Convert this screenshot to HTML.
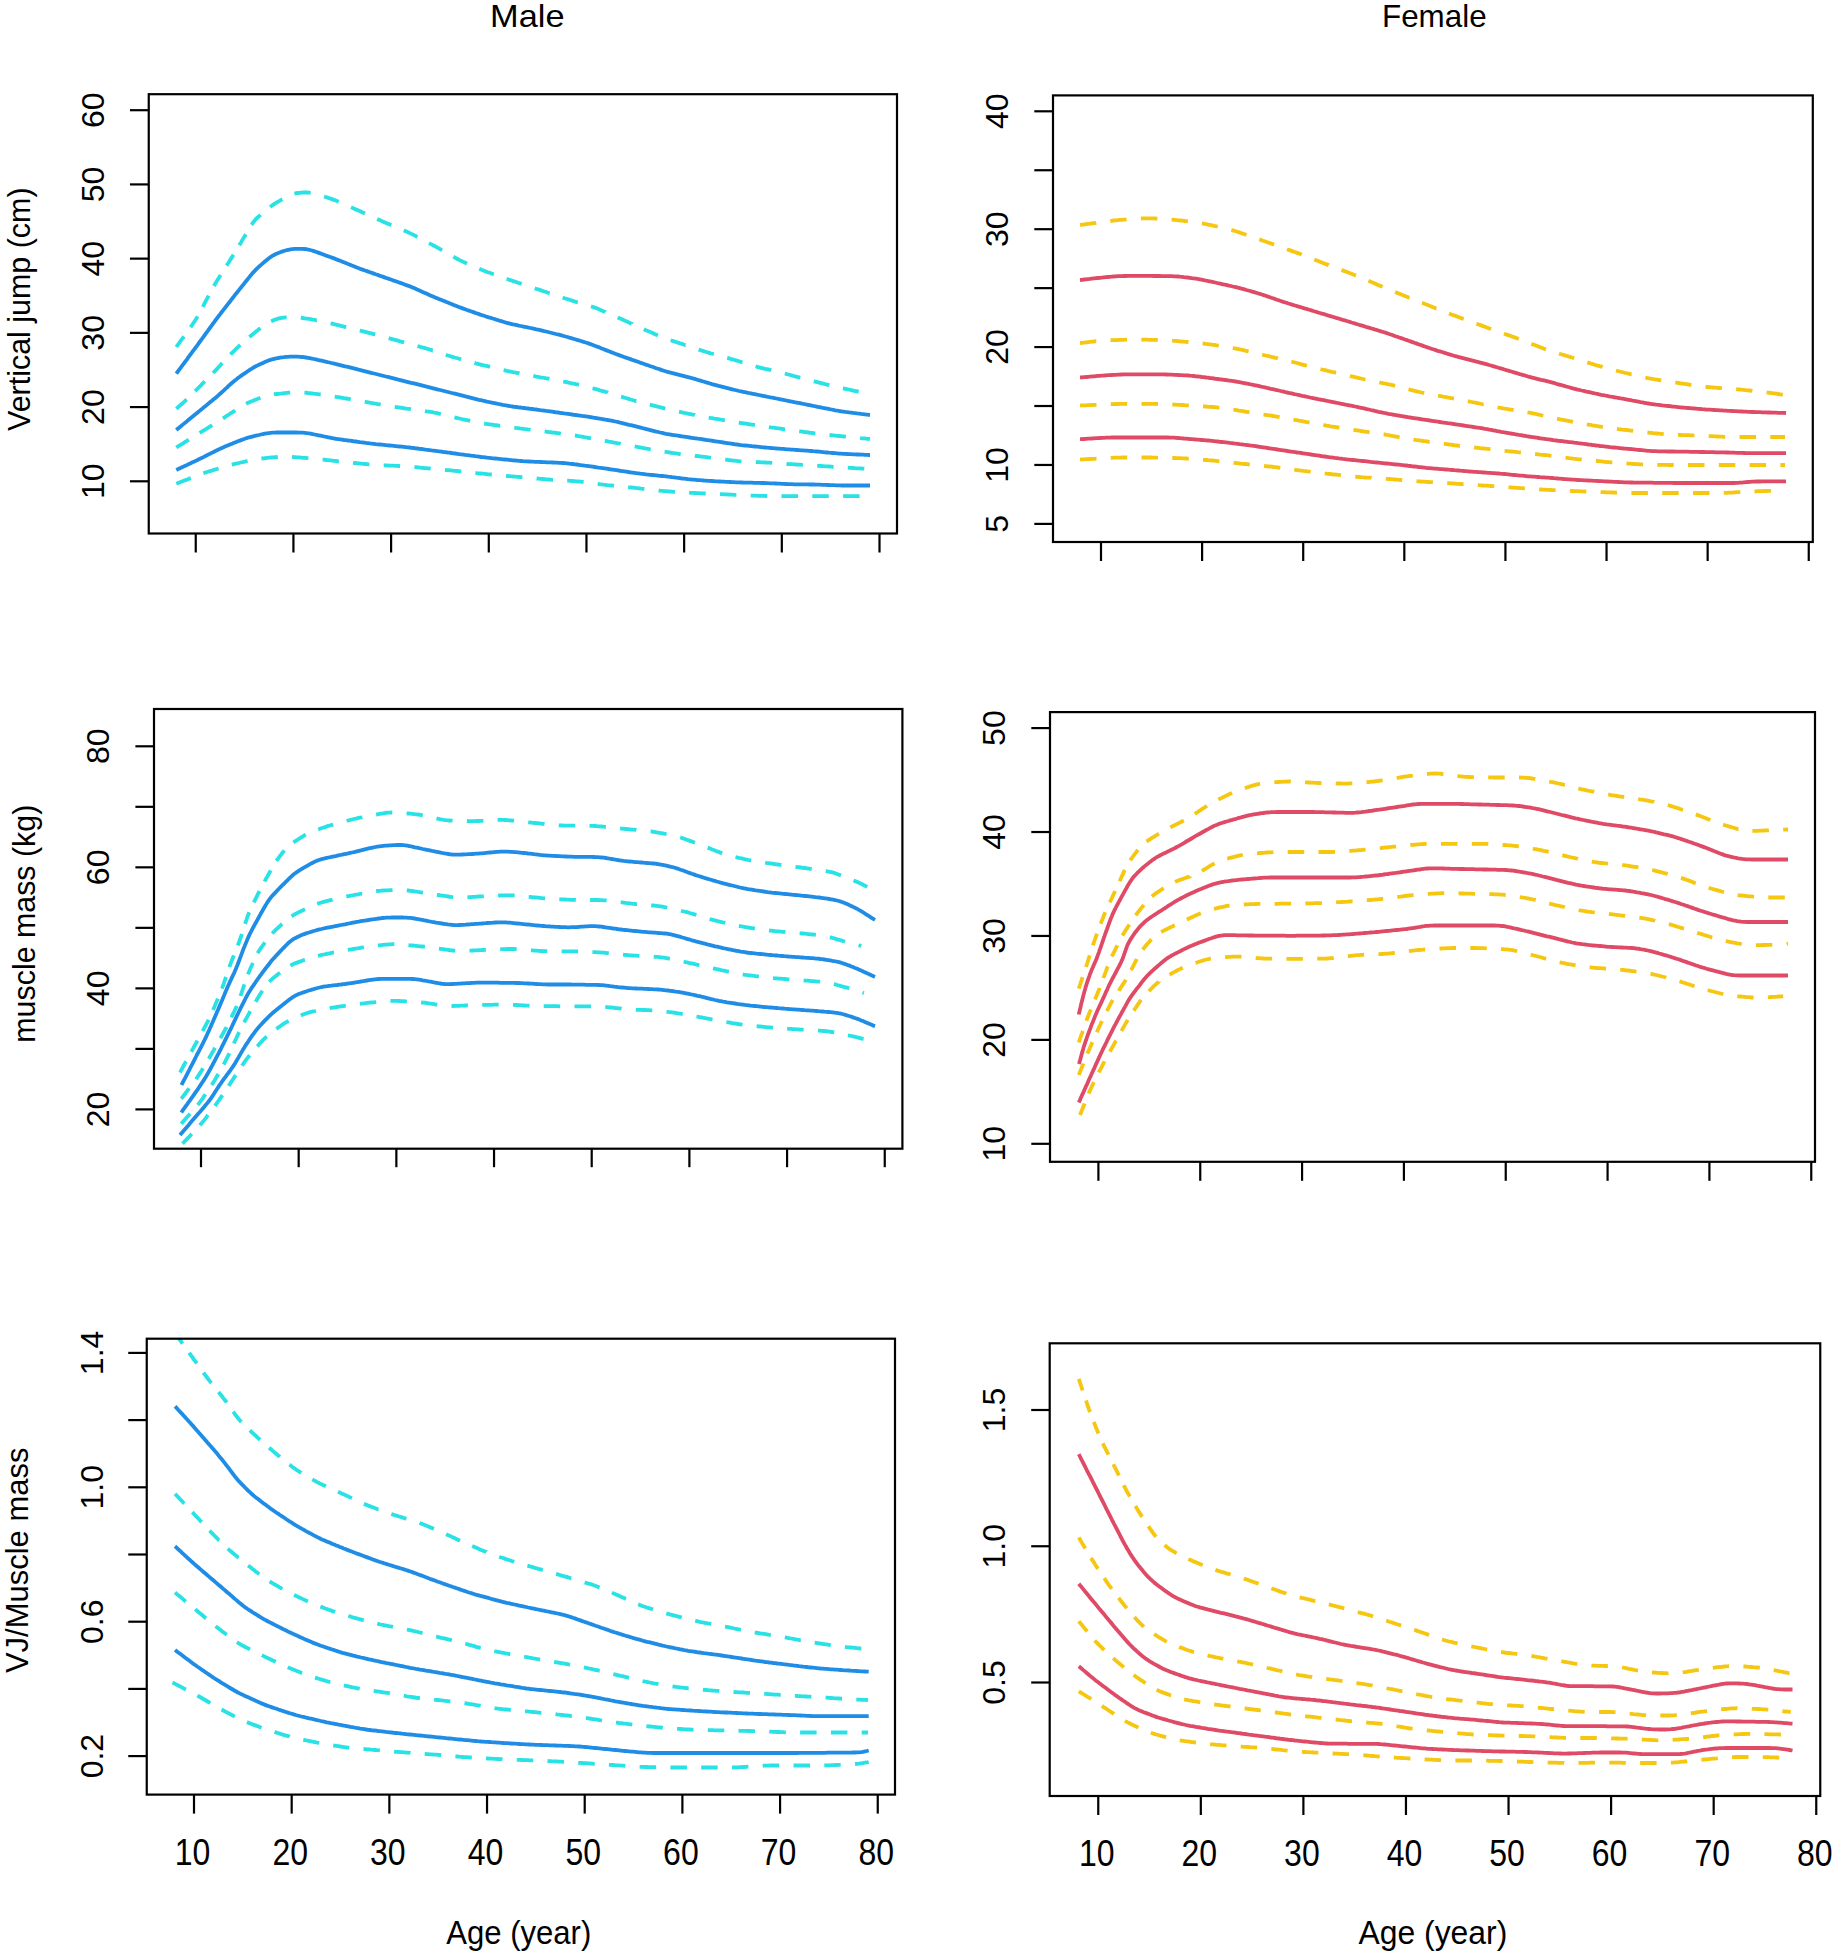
<!DOCTYPE html><html><head><meta charset="utf-8"><style>html,body{margin:0;padding:0;background:#fff;}svg{display:block;}text{font-family:"Liberation Sans",sans-serif;}</style></head><body>
<svg width="1836" height="1953" viewBox="0 0 1836 1953">
<rect width="1836" height="1953" fill="#fff"/>
<text x="527.3" y="26.7" font-size="31.4" text-anchor="middle" fill="#000" textLength="74.5" lengthAdjust="spacingAndGlyphs">Male</text>
<text x="1434.3" y="26.7" font-size="31.4" text-anchor="middle" fill="#000">Female</text>
<g><path d="M176.3,347.0 L177.4,345.4 L178.6,343.8 L179.8,342.1 L180.9,340.5 L182.1,338.9 L183.3,337.3 L183.9,336.4 M190.5,327.2 L191.5,325.9 L192.6,324.3 L193.7,322.6 L194.8,321.0 L195.9,319.3 L196.9,317.6 L197.6,316.4 M202.8,306.8 L203.6,305.3 L204.5,303.5 L205.5,301.7 L206.4,300.0 L207.3,298.2 L208.3,296.4 L208.7,295.6 M213.9,286.0 L214.5,285.0 L215.5,283.3 L216.5,281.6 L217.5,279.9 L218.6,278.2 L219.7,276.5 L220.6,275.0 M226.6,265.6 L227.2,264.7 L228.3,263.0 L229.4,261.3 L230.4,259.6 L231.5,257.9 L232.6,256.2 L233.5,254.8 M239.3,245.3 L239.9,244.3 L240.9,242.6 L241.9,240.8 L242.9,239.1 L243.9,237.4 L245.0,235.7 L245.8,234.3 M251.5,224.8 L252.2,223.8 L253.4,222.2 L254.6,220.6 L255.9,219.1 L257.3,217.7 L258.8,216.4 L260.3,215.1 L260.6,214.8 M270.1,207.1 L271.1,206.3 L272.7,205.1 L274.4,203.9 L276.0,202.9 L277.7,201.8 L279.5,200.8 L281.2,199.8 L282.4,199.2 M294.4,193.7 L295.6,193.4 L297.5,193.0 L299.5,192.8 L301.4,192.6 L303.4,192.5 L305.4,192.5 L307.4,192.5 L309.3,192.7 L310.7,192.8 M324.1,196.5 L325.6,197.0 L327.5,197.6 L329.4,198.2 L331.3,198.9 L333.2,199.6 L335.1,200.3 L336.9,201.0 L338.8,201.8 L338.8,201.8 M351.0,207.2 L352.5,207.9 L354.3,208.7 L356.1,209.5 L357.9,210.3 L359.8,211.1 L361.6,212.0 L363.4,212.8 L365.0,213.5 M377.2,219.0 L378.9,219.8 L380.7,220.6 L382.6,221.4 L384.4,222.2 L386.2,223.0 L388.1,223.8 L389.9,224.6 L391.3,225.2 M403.7,230.4 L404.6,230.8 L406.5,231.6 L408.3,232.4 L410.1,233.3 L411.9,234.1 L413.7,235.0 L415.5,235.9 L417.2,236.9 L417.4,237.0 M429.0,243.1 L430.5,243.9 L432.3,244.8 L434.0,245.8 L435.8,246.7 L437.5,247.7 L439.3,248.7 L441.0,249.7 L442.1,250.3 M453.4,256.7 L454.9,257.6 L456.7,258.5 L458.4,259.5 L460.2,260.4 L462.0,261.2 L463.8,262.1 L465.7,262.9 L467.0,263.5 M479.3,268.8 L480.3,269.2 L482.2,270.0 L484.1,270.7 L485.9,271.5 L487.8,272.2 L489.7,272.8 L491.5,273.5 L493.4,274.2 L493.8,274.3 M506.7,278.8 L508.5,279.5 L510.4,280.1 L512.3,280.8 L514.2,281.4 L516.1,282.0 L518.0,282.7 L519.9,283.3 L521.7,283.9 M534.7,288.2 L536.0,288.7 L537.9,289.3 L539.8,289.9 L541.7,290.6 L543.6,291.2 L545.5,291.8 L547.4,292.5 L549.3,293.1 L549.7,293.2 M562.7,297.5 L564.5,298.2 L566.4,298.8 L568.3,299.4 L570.2,300.0 L572.1,300.6 L574.0,301.2 L575.9,301.8 L577.8,302.3 M591.0,306.4 L592.2,306.8 L594.1,307.4 L595.9,308.1 L597.8,308.8 L599.6,309.6 L601.5,310.4 L603.3,311.2 L605.2,311.9 L605.4,312.1 M617.7,317.5 L618.9,318.0 L620.7,318.8 L622.5,319.6 L624.4,320.5 L626.2,321.3 L628.0,322.1 L629.8,322.9 L631.7,323.7 L631.7,323.8 M643.8,329.2 L645.3,329.9 L647.2,330.7 L649.0,331.5 L650.8,332.3 L652.7,333.1 L654.5,333.9 L656.3,334.7 L657.9,335.4 M670.6,340.2 L672.2,340.7 L674.1,341.4 L676.0,342.0 L677.9,342.6 L679.8,343.3 L681.7,343.9 L683.6,344.5 L685.5,345.2 L685.6,345.2 M698.6,349.5 L699.7,349.9 L701.6,350.5 L703.5,351.1 L705.4,351.7 L707.3,352.3 L709.2,352.9 L711.2,353.5 L713.1,354.0 L713.8,354.2 M727.2,357.9 L728.5,358.2 L730.4,358.8 L732.4,359.3 L734.3,359.9 L736.2,360.4 L738.1,361.0 L740.0,361.6 L742.0,362.2 L742.5,362.3 M755.6,366.3 L757.3,366.8 L759.2,367.3 L761.1,367.8 L763.1,368.3 L765.0,368.8 L767.0,369.2 L768.9,369.7 L770.9,370.2 L771.2,370.3 M784.8,373.6 L786.4,374.0 L788.3,374.5 L790.3,375.0 L792.2,375.5 L794.1,376.1 L796.0,376.6 L798.0,377.1 L799.9,377.6 L800.3,377.7 M813.7,381.3 L815.4,381.7 L817.3,382.2 L819.3,382.7 L821.2,383.2 L823.1,383.7 L825.1,384.2 L827.0,384.6 L829.0,385.1 L829.3,385.2 M842.9,388.4 L844.5,388.7 L846.5,389.1 L848.5,389.5 L850.4,389.9 L852.4,390.3 L854.3,390.8 L856.3,391.2 L858.3,391.6 L858.7,391.7" fill="none" stroke="#28E2E5" stroke-width="3.80"/><path d="M176.3,373.7 L177.4,372.1 L178.6,370.5 L179.8,368.9 L181.0,367.3 L182.2,365.7 L183.4,364.1 L184.6,362.5 L185.8,360.9 L187.0,359.3 L188.1,357.7 L189.3,356.0 L190.5,354.4 L191.7,352.8 L192.9,351.2 L194.1,349.6 L195.3,348.0 L196.5,346.4 L197.7,344.8 L198.8,343.1 L200.0,341.5 L201.2,339.9 L202.4,338.3 L203.6,336.7 L204.7,335.1 L205.9,333.4 L207.1,331.8 L208.3,330.2 L209.4,328.6 L210.6,327.0 L211.8,325.3 L213.0,323.7 L214.2,322.1 L215.3,320.5 L216.5,318.9 L217.7,317.3 L218.9,315.7 L220.2,314.1 L221.4,312.5 L222.6,310.9 L223.8,309.4 L225.1,307.8 L226.3,306.2 L227.5,304.6 L228.8,303.0 L230.0,301.5 L231.2,299.9 L232.4,298.3 L233.7,296.7 L234.9,295.1 L236.2,293.6 L237.4,292.0 L238.7,290.4 L239.9,288.9 L241.2,287.3 L242.4,285.7 L243.7,284.2 L244.9,282.6 L246.2,281.1 L247.4,279.5 L248.7,277.9 L249.9,276.4 L251.2,274.8 L252.5,273.3 L253.8,271.8 L255.2,270.4 L256.6,268.9 L258.0,267.6 L259.5,266.2 L261.0,264.9 L262.5,263.6 L264.0,262.3 L265.5,261.0 L267.1,259.7 L268.6,258.5 L270.2,257.3 L271.9,256.2 L273.6,255.2 L275.3,254.3 L277.1,253.5 L279.0,252.8 L280.8,252.1 L282.7,251.4 L284.6,250.8 L286.5,250.2 L288.4,249.8 L290.4,249.4 L292.3,249.1 L294.3,248.9 L296.3,248.8 L298.3,248.8 L300.3,248.8 L302.3,248.9 L304.2,249.0 L306.2,249.2 L308.1,249.6 L310.1,250.0 L312.0,250.5 L313.9,251.1 L315.8,251.8 L317.6,252.4 L319.5,253.1 L321.4,253.8 L323.3,254.5 L325.2,255.2 L327.0,255.9 L328.9,256.5 L330.8,257.2 L332.7,257.9 L334.6,258.6 L336.4,259.4 L338.3,260.1 L340.2,260.8 L342.0,261.6 L343.9,262.3 L345.7,263.0 L347.6,263.8 L349.4,264.5 L351.3,265.3 L353.2,266.0 L355.0,266.7 L356.9,267.5 L358.8,268.2 L360.6,268.9 L362.5,269.6 L364.4,270.3 L366.3,270.9 L368.2,271.6 L370.1,272.3 L371.9,272.9 L373.8,273.6 L375.7,274.3 L377.6,274.9 L379.5,275.6 L381.4,276.2 L383.3,276.9 L385.2,277.6 L387.1,278.2 L389.0,278.9 L390.8,279.5 L392.7,280.2 L394.6,280.9 L396.5,281.5 L398.4,282.2 L400.3,282.9 L402.2,283.5 L404.1,284.2 L405.9,284.9 L407.8,285.6 L409.7,286.3 L411.5,287.1 L413.4,287.8 L415.2,288.6 L417.0,289.4 L418.9,290.2 L420.7,291.1 L422.5,291.9 L424.4,292.7 L426.2,293.5 L428.0,294.3 L429.8,295.2 L431.7,296.0 L433.5,296.8 L435.3,297.6 L437.2,298.3 L439.0,299.1 L440.9,299.8 L442.8,300.6 L444.6,301.3 L446.5,302.1 L448.3,302.8 L450.2,303.6 L452.0,304.3 L453.9,305.1 L455.8,305.8 L457.6,306.5 L459.5,307.2 L461.4,307.9 L463.3,308.6 L465.1,309.3 L467.0,310.0 L468.9,310.6 L470.8,311.3 L472.7,311.9 L474.6,312.6 L476.5,313.3 L478.4,313.9 L480.3,314.6 L482.2,315.2 L484.1,315.8 L486.0,316.5 L487.9,317.1 L489.8,317.7 L491.7,318.2 L493.6,318.8 L495.5,319.4 L497.4,320.0 L499.4,320.6 L501.3,321.1 L503.2,321.7 L505.1,322.3 L507.0,322.8 L509.0,323.3 L510.9,323.8 L512.9,324.3 L514.8,324.7 L516.8,325.1 L518.7,325.6 L520.7,326.0 L522.6,326.4 L524.6,326.8 L526.6,327.2 L528.5,327.6 L530.5,328.0 L532.4,328.4 L534.4,328.8 L536.4,329.3 L538.3,329.7 L540.3,330.1 L542.2,330.6 L544.2,331.1 L546.1,331.5 L548.0,332.0 L550.0,332.5 L551.9,333.0 L553.9,333.5 L555.8,334.0 L557.8,334.4 L559.7,334.9 L561.6,335.4 L563.6,336.0 L565.5,336.5 L567.4,337.0 L569.4,337.6 L571.3,338.1 L573.2,338.7 L575.1,339.3 L577.0,339.9 L578.9,340.4 L580.9,341.0 L582.8,341.6 L584.7,342.2 L586.6,342.8 L588.5,343.4 L590.4,344.1 L592.3,344.8 L594.1,345.5 L596.0,346.2 L597.9,346.9 L599.7,347.6 L601.6,348.4 L603.4,349.1 L605.3,349.9 L607.2,350.6 L609.0,351.3 L610.9,352.1 L612.8,352.8 L614.6,353.5 L616.5,354.2 L618.4,354.9 L620.3,355.6 L622.2,356.2 L624.0,356.9 L625.9,357.6 L627.8,358.2 L629.7,358.9 L631.6,359.6 L633.5,360.2 L635.4,360.9 L637.3,361.5 L639.2,362.2 L641.0,362.9 L642.9,363.5 L644.8,364.2 L646.7,364.9 L648.6,365.5 L650.5,366.2 L652.4,366.8 L654.3,367.5 L656.2,368.2 L658.1,368.8 L660.0,369.4 L661.9,370.1 L663.8,370.7 L665.7,371.3 L667.6,371.8 L669.5,372.3 L671.5,372.8 L673.4,373.3 L675.3,373.8 L677.3,374.3 L679.2,374.8 L681.2,375.3 L683.1,375.8 L685.0,376.3 L687.0,376.8 L688.9,377.3 L690.8,377.8 L692.8,378.4 L694.7,378.9 L696.6,379.5 L698.5,380.1 L700.5,380.6 L702.4,381.2 L704.3,381.8 L706.2,382.4 L708.1,382.9 L710.0,383.5 L712.0,384.1 L713.9,384.6 L715.8,385.1 L717.8,385.6 L719.7,386.2 L721.6,386.6 L723.6,387.1 L725.5,387.6 L727.5,388.1 L729.4,388.6 L731.3,389.1 L733.3,389.6 L735.2,390.0 L737.2,390.5 L739.1,391.0 L741.1,391.4 L743.0,391.8 L745.0,392.2 L747.0,392.6 L748.9,393.0 L750.9,393.4 L752.8,393.8 L754.8,394.2 L756.8,394.6 L758.7,395.0 L760.7,395.4 L762.7,395.8 L764.6,396.2 L766.6,396.6 L768.5,397.0 L770.5,397.4 L772.5,397.7 L774.4,398.1 L776.4,398.5 L778.4,398.9 L780.3,399.3 L782.3,399.7 L784.3,400.1 L786.2,400.5 L788.2,400.9 L790.1,401.3 L792.1,401.7 L794.1,402.1 L796.0,402.5 L798.0,402.8 L800.0,403.2 L801.9,403.6 L803.9,404.0 L805.8,404.4 L807.8,404.8 L809.8,405.2 L811.7,405.6 L813.7,406.0 L815.7,406.4 L817.6,406.8 L819.6,407.2 L821.6,407.6 L823.5,408.0 L825.5,408.3 L827.4,408.7 L829.4,409.1 L831.4,409.5 L833.3,409.9 L835.3,410.3 L837.3,410.6 L839.2,411.0 L841.2,411.3 L843.2,411.6 L845.2,411.9 L847.2,412.1 L849.1,412.4 L851.1,412.6 L853.1,412.9 L855.1,413.1 L857.1,413.4 L859.1,413.6 L861.1,413.9 L863.0,414.1 L865.0,414.4 L867.0,414.6 L869.0,414.9 L870.0,415.0" fill="none" stroke="#1F8CE6" stroke-width="3.80" stroke-linejoin="round"/><path d="M176.3,408.7 L177.8,407.4 L179.3,406.1 L180.8,404.8 L182.3,403.5 L183.8,402.2 L185.2,400.8 L186.7,399.5 M195.1,391.1 L195.9,390.3 L197.4,388.9 L198.8,387.5 L200.2,386.1 L201.6,384.6 L203.0,383.2 L204.4,381.8 L204.8,381.4 M213.1,373.0 L214.2,371.8 L215.6,370.4 L217.0,368.9 L218.3,367.4 L219.7,366.0 L221.0,364.5 L222.3,363.1 M230.5,354.6 L231.4,353.6 L232.8,352.2 L234.2,350.8 L235.6,349.4 L237.1,348.0 L238.5,346.6 L239.9,345.2 L240.2,344.9 M249.4,337.0 L250.5,336.1 L252.1,334.8 L253.7,333.6 L255.2,332.3 L256.8,331.1 L258.3,329.8 L259.9,328.6 L260.5,328.1 M271.1,321.3 L272.5,320.7 L274.3,319.9 L276.2,319.3 L278.1,318.7 L280.0,318.2 L281.9,317.9 L283.9,317.6 L285.8,317.4 L286.6,317.4 M300.8,317.7 L302.7,318.0 L304.7,318.3 L306.7,318.6 L308.7,318.9 L310.6,319.2 L312.6,319.6 L314.6,319.9 L316.5,320.3 L316.9,320.3 M330.6,323.3 L332.2,323.7 L334.1,324.2 L336.0,324.6 L338.0,325.1 L339.9,325.6 L341.9,326.1 L343.8,326.6 L345.8,327.1 L346.2,327.2 M359.7,330.6 L361.3,330.9 L363.2,331.4 L365.2,331.9 L367.1,332.4 L369.0,332.9 L371.0,333.4 L372.9,333.9 L374.9,334.4 L375.3,334.5 M388.7,338.1 L390.3,338.6 L392.2,339.1 L394.1,339.7 L396.1,340.2 L398.0,340.7 L399.9,341.3 L401.9,341.8 L403.8,342.3 L404.1,342.4 M417.5,346.0 L419.2,346.5 L421.2,347.1 L423.1,347.6 L425.0,348.1 L426.9,348.7 L428.8,349.3 L430.8,349.9 L432.7,350.5 L432.8,350.5 M445.8,354.8 L446.9,355.2 L448.8,355.8 L450.7,356.4 L452.6,356.9 L454.6,357.5 L456.5,358.0 L458.4,358.5 L460.4,359.1 L461.1,359.3 M474.5,362.9 L475.8,363.3 L477.7,363.8 L479.7,364.3 L481.6,364.8 L483.6,365.3 L485.5,365.7 L487.4,366.2 L489.4,366.7 L490.1,366.9 M503.6,370.2 L504.9,370.4 L506.9,370.9 L508.8,371.3 L510.8,371.7 L512.8,372.1 L514.7,372.4 L516.7,372.8 L518.7,373.2 L519.5,373.4 M533.3,376.1 L534.4,376.2 L536.3,376.6 L538.3,376.9 L540.3,377.3 L542.3,377.6 L544.2,378.0 L546.2,378.3 L548.2,378.6 L549.4,378.9 M563.2,381.5 L564.9,381.8 L566.8,382.2 L568.8,382.7 L570.7,383.1 L572.7,383.5 L574.7,383.9 L576.6,384.3 L578.6,384.7 L579.0,384.8 M592.5,388.3 L594.1,388.7 L596.0,389.2 L597.9,389.7 L599.9,390.3 L601.8,390.8 L603.7,391.3 L605.6,391.9 L607.6,392.4 L607.9,392.6 M621.1,396.6 L622.9,397.1 L624.8,397.7 L626.7,398.3 L628.6,398.9 L630.5,399.5 L632.4,400.0 L634.4,400.6 L636.3,401.1 L636.4,401.1 M649.8,404.6 L650.8,404.9 L652.7,405.4 L654.7,405.9 L656.6,406.4 L658.6,406.8 L660.5,407.3 L662.4,407.8 L664.4,408.3 L665.4,408.5 M679.0,411.7 L680.9,412.2 L682.9,412.6 L684.9,413.0 L686.8,413.4 L688.8,413.8 L690.7,414.2 L692.7,414.6 L694.7,414.9 L694.9,415.0 M708.7,417.6 L710.4,417.9 L712.4,418.2 L714.3,418.6 L716.3,418.9 L718.3,419.2 L720.3,419.5 L722.2,419.9 L724.2,420.2 L724.8,420.3 M738.8,422.6 L740.0,422.8 L742.0,423.1 L744.0,423.4 L745.9,423.7 L747.9,424.0 L749.9,424.3 L751.9,424.6 L753.8,424.9 L754.9,425.1 M768.9,427.1 L770.7,427.4 L772.7,427.6 L774.6,427.9 L776.6,428.2 L778.6,428.4 L780.6,428.7 L782.6,429.0 L784.5,429.3 L785.1,429.3 M799.2,431.3 L800.4,431.4 L802.4,431.7 L804.4,432.0 L806.3,432.2 L808.3,432.5 L810.3,432.8 L812.3,433.0 L814.3,433.3 L815.4,433.4 M829.5,435.0 L831.2,435.2 L833.2,435.4 L835.2,435.6 L837.1,435.8 L839.1,436.0 L841.1,436.2 L843.1,436.4 L845.1,436.6 L845.9,436.7 M860.1,438.1 L862.0,438.3 L864.0,438.4 L866.0,438.6 L868.0,438.8 L870.0,439.0" fill="none" stroke="#28E2E5" stroke-width="3.80"/><path d="M176.3,430.0 L177.8,428.7 L179.3,427.5 L180.9,426.2 L182.4,424.9 L184.0,423.6 L185.5,422.4 L187.1,421.1 L188.6,419.8 L190.2,418.5 L191.7,417.3 L193.3,416.0 L194.8,414.7 L196.4,413.5 L197.9,412.2 L199.5,410.9 L201.0,409.7 L202.6,408.4 L204.1,407.1 L205.7,405.9 L207.2,404.6 L208.8,403.3 L210.3,402.1 L211.9,400.8 L213.4,399.5 L215.0,398.3 L216.5,397.0 L218.0,395.6 L219.5,394.3 L221.0,393.0 L222.5,391.6 L223.9,390.3 L225.4,388.9 L226.9,387.6 L228.3,386.2 L229.8,384.8 L231.3,383.5 L232.8,382.2 L234.3,380.9 L235.9,379.7 L237.5,378.4 L239.1,377.3 L240.7,376.1 L242.4,374.9 L244.0,373.8 L245.7,372.7 L247.3,371.5 L249.0,370.4 L250.6,369.3 L252.3,368.3 L254.0,367.2 L255.8,366.3 L257.6,365.4 L259.4,364.5 L261.2,363.7 L263.0,362.9 L264.8,362.1 L266.7,361.3 L268.5,360.6 L270.4,359.9 L272.3,359.3 L274.2,358.8 L276.2,358.4 L278.1,358.0 L280.1,357.7 L282.1,357.4 L284.1,357.2 L286.0,356.9 L288.0,356.8 L290.0,356.6 L292.0,356.6 L294.0,356.6 L296.0,356.6 L298.0,356.7 L300.0,356.8 L302.0,357.0 L304.0,357.2 L305.9,357.5 L307.9,357.8 L309.9,358.2 L311.8,358.6 L313.8,359.0 L315.8,359.4 L317.7,359.9 L319.7,360.3 L321.6,360.7 L323.6,361.2 L325.5,361.6 L327.5,362.1 L329.4,362.5 L331.4,363.0 L333.3,363.4 L335.3,363.9 L337.2,364.3 L339.2,364.8 L341.1,365.3 L343.1,365.8 L345.0,366.3 L346.9,366.7 L348.9,367.2 L350.8,367.7 L352.8,368.2 L354.7,368.7 L356.7,369.2 L358.6,369.7 L360.5,370.1 L362.5,370.6 L364.4,371.1 L366.4,371.6 L368.3,372.1 L370.3,372.6 L372.2,373.1 L374.1,373.5 L376.1,374.0 L378.0,374.5 L380.0,375.0 L381.9,375.5 L383.9,376.0 L385.8,376.5 L387.7,376.9 L389.7,377.4 L391.6,377.9 L393.6,378.4 L395.5,378.9 L397.5,379.4 L399.4,379.8 L401.3,380.3 L403.3,380.8 L405.2,381.3 L407.2,381.8 L409.1,382.3 L411.1,382.8 L413.0,383.2 L414.9,383.7 L416.9,384.2 L418.8,384.7 L420.8,385.2 L422.7,385.7 L424.7,386.2 L426.6,386.6 L428.5,387.1 L430.5,387.6 L432.4,388.1 L434.4,388.6 L436.3,389.1 L438.3,389.6 L440.2,390.0 L442.1,390.5 L444.1,391.0 L446.0,391.5 L448.0,392.0 L449.9,392.5 L451.9,393.0 L453.8,393.4 L455.7,393.9 L457.7,394.4 L459.6,394.9 L461.6,395.4 L463.5,395.9 L465.5,396.4 L467.4,396.8 L469.3,397.3 L471.3,397.8 L473.2,398.3 L475.2,398.8 L477.1,399.3 L479.1,399.8 L481.0,400.2 L482.9,400.7 L484.9,401.1 L486.9,401.6 L488.8,402.0 L490.8,402.4 L492.7,402.8 L494.7,403.2 L496.7,403.6 L498.6,404.0 L500.6,404.4 L502.6,404.8 L504.5,405.1 L506.5,405.5 L508.5,405.8 L510.4,406.2 L512.4,406.5 L514.4,406.8 L516.4,407.0 L518.4,407.3 L520.3,407.5 L522.3,407.8 L524.3,408.0 L526.3,408.3 L528.3,408.5 L530.3,408.8 L532.3,409.0 L534.3,409.3 L536.2,409.5 L538.2,409.8 L540.2,410.1 L542.2,410.3 L544.2,410.6 L546.2,410.9 L548.1,411.1 L550.1,411.4 L552.1,411.7 L554.1,412.0 L556.1,412.3 L558.1,412.5 L560.0,412.8 L562.0,413.1 L564.0,413.4 L566.0,413.6 L568.0,413.9 L570.0,414.2 L571.9,414.5 L573.9,414.8 L575.9,415.0 L577.9,415.3 L579.9,415.6 L581.9,415.9 L583.8,416.1 L585.8,416.4 L587.8,416.7 L589.8,417.0 L591.8,417.3 L593.7,417.7 L595.7,418.0 L597.7,418.3 L599.7,418.6 L601.6,419.0 L603.6,419.3 L605.6,419.7 L607.6,420.0 L609.5,420.3 L611.5,420.7 L613.5,421.1 L615.4,421.5 L617.4,421.9 L619.3,422.4 L621.3,422.8 L623.2,423.3 L625.2,423.8 L627.1,424.3 L629.1,424.8 L631.0,425.2 L632.9,425.7 L634.9,426.2 L636.8,426.7 L638.8,427.2 L640.7,427.7 L642.7,428.2 L644.6,428.6 L646.5,429.1 L648.5,429.6 L650.4,430.1 L652.4,430.6 L654.3,431.1 L656.3,431.6 L658.2,432.0 L660.1,432.5 L662.1,432.9 L664.1,433.4 L666.0,433.8 L668.0,434.1 L670.0,434.5 L671.9,434.8 L673.9,435.1 L675.9,435.4 L677.9,435.7 L679.8,436.0 L681.8,436.3 L683.8,436.6 L685.8,436.9 L687.8,437.2 L689.7,437.5 L691.7,437.8 L693.7,438.1 L695.7,438.4 L697.7,438.7 L699.7,438.9 L701.6,439.2 L703.6,439.5 L705.6,439.8 L707.6,440.1 L709.6,440.4 L711.5,440.7 L713.5,441.0 L715.5,441.3 L717.5,441.6 L719.5,441.9 L721.4,442.2 L723.4,442.5 L725.4,442.8 L727.4,443.1 L729.4,443.4 L731.3,443.7 L733.3,444.0 L735.3,444.3 L737.3,444.5 L739.3,444.8 L741.3,445.1 L743.2,445.3 L745.2,445.5 L747.2,445.7 L749.2,445.9 L751.2,446.1 L753.2,446.3 L755.2,446.5 L757.2,446.7 L759.2,446.9 L761.2,447.1 L763.2,447.3 L765.2,447.5 L767.2,447.7 L769.2,447.8 L771.1,448.0 L773.1,448.1 L775.1,448.3 L777.1,448.5 L779.1,448.6 L781.1,448.8 L783.1,448.9 L785.1,449.1 L787.1,449.3 L789.1,449.4 L791.1,449.6 L793.1,449.7 L795.1,449.9 L797.1,450.0 L799.1,450.1 L801.1,450.3 L803.1,450.4 L805.1,450.6 L807.1,450.7 L809.1,450.8 L811.1,451.0 L813.1,451.2 L815.1,451.3 L817.1,451.5 L819.1,451.7 L821.1,451.9 L823.1,452.1 L825.0,452.3 L827.0,452.5 L829.0,452.7 L831.0,452.8 L833.0,453.0 L835.0,453.2 L837.0,453.4 L839.0,453.6 L841.0,453.7 L843.0,453.8 L845.0,453.9 L847.0,454.0 L849.0,454.1 L851.0,454.2 L853.0,454.3 L855.0,454.4 L857.0,454.5 L859.0,454.5 L861.0,454.6 L863.0,454.7 L865.0,454.8 L867.0,454.9 L869.0,455.0 L870.0,455.0" fill="none" stroke="#1F8CE6" stroke-width="3.80" stroke-linejoin="round"/><path d="M176.3,447.5 L178.0,446.4 L179.7,445.4 L181.4,444.3 L183.1,443.3 L184.8,442.2 L186.5,441.2 L188.2,440.1 L188.8,439.7 M199.7,433.0 L200.9,432.2 L202.6,431.2 L204.3,430.1 L206.0,429.1 L207.7,428.0 L209.4,426.9 L211.1,425.9 L212.2,425.2 M222.9,418.4 L224.6,417.3 L226.3,416.2 L228.0,415.1 L229.6,414.0 L231.3,412.9 L233.0,411.8 L234.6,410.7 L235.1,410.3 M246.1,403.7 L247.5,403.0 L249.3,402.2 L251.1,401.4 L253.0,400.7 L254.8,399.9 L256.7,399.2 L258.6,398.5 L260.4,397.8 L260.4,397.8 M273.9,394.4 L274.9,394.2 L276.9,394.0 L278.8,393.8 L280.8,393.6 L282.8,393.3 L284.8,393.1 L286.8,392.9 L288.8,392.7 L290.2,392.6 M304.4,392.6 L305.7,392.7 L307.7,393.0 L309.7,393.2 L311.6,393.4 L313.6,393.7 L315.6,393.9 L317.6,394.1 L319.6,394.4 L320.7,394.5 M334.7,396.6 L336.4,396.9 L338.4,397.2 L340.4,397.5 L342.3,397.8 L344.3,398.2 L346.3,398.5 L348.3,398.8 L350.2,399.1 L350.8,399.2 M364.7,401.7 L366.0,402.0 L367.9,402.3 L369.9,402.7 L371.9,403.0 L373.9,403.4 L375.8,403.7 L377.8,404.1 L379.8,404.4 L380.7,404.6 M394.7,406.8 L396.6,407.1 L398.5,407.4 L400.5,407.7 L402.5,408.0 L404.5,408.3 L406.5,408.6 L408.4,408.8 L410.4,409.1 L410.9,409.2 M424.9,411.1 L426.3,411.3 L428.3,411.6 L430.2,411.9 L432.2,412.2 L434.2,412.6 L436.1,412.9 L438.1,413.4 L440.0,413.8 L440.9,414.0 M454.4,417.3 L455.6,417.6 L457.5,418.1 L459.5,418.5 L461.4,419.0 L463.4,419.4 L465.3,419.8 L467.3,420.2 L469.3,420.6 L470.2,420.8 M484.1,423.5 L486.0,423.8 L487.9,424.1 L489.9,424.4 L491.9,424.7 L493.9,425.0 L495.9,425.2 L497.8,425.5 L499.8,425.8 L500.2,425.8 M514.3,427.7 L515.7,427.9 L517.7,428.1 L519.7,428.4 L521.6,428.6 L523.6,428.9 L525.6,429.1 L527.6,429.4 L529.6,429.6 L530.5,429.8 M544.6,431.5 L546.5,431.7 L548.4,432.0 L550.4,432.2 L552.4,432.5 L554.4,432.7 L556.4,433.0 L558.4,433.2 L560.4,433.5 L560.9,433.6 M574.9,435.5 L576.2,435.7 L578.2,436.0 L580.1,436.4 L582.1,436.7 L584.1,437.1 L586.0,437.5 L588.0,437.8 L590.0,438.2 L591.0,438.4 M604.8,440.9 L606.7,441.2 L608.7,441.6 L610.7,441.9 L612.6,442.3 L614.6,442.7 L616.6,443.0 L618.5,443.4 L620.5,443.7 L620.8,443.8 M634.7,446.4 L636.2,446.7 L638.2,447.0 L640.2,447.4 L642.1,447.8 L644.1,448.2 L646.1,448.5 L648.0,448.9 L650.0,449.3 L650.7,449.4 M664.6,451.7 L665.8,451.9 L667.8,452.2 L669.7,452.5 L671.7,452.8 L673.7,453.1 L675.7,453.4 L677.6,453.7 L679.6,454.0 L680.7,454.2 M694.8,455.8 L696.5,456.0 L698.5,456.2 L700.5,456.5 L702.5,456.7 L704.5,456.9 L706.4,457.1 L708.4,457.4 L710.4,457.6 L711.1,457.7 M725.2,459.6 L726.3,459.7 L728.3,460.0 L730.2,460.2 L732.2,460.5 L734.2,460.7 L736.2,460.9 L738.2,461.1 L740.2,461.3 L741.5,461.4 M755.8,462.0 L757.2,462.1 L759.2,462.2 L761.2,462.3 L763.2,462.4 L765.2,462.5 L767.2,462.6 L769.2,462.7 L771.2,462.8 L772.2,462.9 M786.5,463.8 L788.1,464.0 L790.1,464.1 L792.1,464.2 L794.1,464.4 L796.1,464.5 L798.1,464.6 L800.1,464.7 L802.1,464.9 L802.9,464.9 M817.2,465.8 L819.1,465.9 L821.1,466.0 L823.1,466.1 L825.1,466.3 L827.1,466.4 L829.1,466.5 L831.1,466.6 L833.1,466.8 L833.6,466.8 M847.8,467.7 L849.0,467.8 L851.0,467.9 L853.0,468.0 L855.0,468.2 L857.0,468.3 L859.0,468.4 L861.0,468.5 L863.0,468.6 L864.3,468.7" fill="none" stroke="#28E2E5" stroke-width="3.80"/><path d="M176.3,470.0 L178.1,469.1 L179.9,468.3 L181.7,467.4 L183.5,466.6 L185.3,465.7 L187.1,464.9 L188.9,464.0 L190.7,463.2 L192.5,462.3 L194.4,461.5 L196.2,460.6 L198.0,459.7 L199.8,458.8 L201.6,458.0 L203.4,457.1 L205.1,456.2 L206.9,455.3 L208.7,454.4 L210.5,453.5 L212.3,452.6 L214.1,451.7 L215.9,450.8 L217.7,449.9 L219.5,449.1 L221.3,448.2 L223.1,447.4 L225.0,446.6 L226.8,445.8 L228.7,445.1 L230.5,444.3 L232.4,443.6 L234.2,442.8 L236.1,442.1 L237.9,441.3 L239.8,440.6 L241.7,439.9 L243.5,439.2 L245.4,438.5 L247.3,437.9 L249.2,437.3 L251.2,436.8 L253.1,436.3 L255.0,435.8 L257.0,435.4 L259.0,435.0 L260.9,434.5 L262.9,434.1 L264.8,433.7 L266.8,433.4 L268.8,433.1 L270.7,432.9 L272.7,432.7 L274.7,432.6 L276.7,432.5 L278.7,432.5 L280.7,432.5 L282.7,432.5 L284.7,432.5 L286.7,432.5 L288.7,432.5 L290.7,432.5 L292.7,432.5 L294.7,432.5 L296.7,432.5 L298.7,432.6 L300.7,432.6 L302.7,432.7 L304.7,432.9 L306.7,433.1 L308.6,433.4 L310.6,433.7 L312.6,434.1 L314.5,434.5 L316.5,434.9 L318.5,435.3 L320.4,435.7 L322.4,436.1 L324.3,436.5 L326.3,436.9 L328.3,437.3 L330.2,437.7 L332.2,438.1 L334.2,438.5 L336.1,438.8 L338.1,439.1 L340.1,439.4 L342.1,439.7 L344.0,440.0 L346.0,440.2 L348.0,440.5 L350.0,440.7 L352.0,441.0 L354.0,441.3 L356.0,441.5 L357.9,441.8 L359.9,442.1 L361.9,442.3 L363.9,442.6 L365.9,442.9 L367.9,443.1 L369.8,443.4 L371.8,443.6 L373.8,443.8 L375.8,444.1 L377.8,444.3 L379.8,444.5 L381.8,444.7 L383.8,444.9 L385.8,445.1 L387.8,445.3 L389.8,445.5 L391.7,445.7 L393.7,445.9 L395.7,446.1 L397.7,446.3 L399.7,446.5 L401.7,446.7 L403.7,446.9 L405.7,447.1 L407.7,447.3 L409.7,447.5 L411.7,447.8 L413.6,448.0 L415.6,448.3 L417.6,448.5 L419.6,448.8 L421.6,449.0 L423.6,449.3 L425.6,449.6 L427.5,449.8 L429.5,450.1 L431.5,450.4 L433.5,450.6 L435.5,450.9 L437.5,451.2 L439.4,451.4 L441.4,451.7 L443.4,452.0 L445.4,452.2 L447.4,452.5 L449.4,452.7 L451.3,453.0 L453.3,453.3 L455.3,453.5 L457.3,453.8 L459.3,454.1 L461.3,454.3 L463.3,454.6 L465.2,454.9 L467.2,455.1 L469.2,455.4 L471.2,455.7 L473.2,455.9 L475.2,456.2 L477.1,456.4 L479.1,456.7 L481.1,457.0 L483.1,457.2 L485.1,457.4 L487.1,457.7 L489.1,457.9 L491.1,458.1 L493.1,458.3 L495.0,458.5 L497.0,458.7 L499.0,458.9 L501.0,459.1 L503.0,459.3 L505.0,459.5 L507.0,459.7 L509.0,459.9 L511.0,460.1 L513.0,460.3 L515.0,460.5 L517.0,460.7 L519.0,460.9 L520.9,461.0 L522.9,461.2 L524.9,461.3 L526.9,461.4 L528.9,461.5 L530.9,461.6 L532.9,461.7 L534.9,461.8 L536.9,461.8 L538.9,461.9 L540.9,462.0 L542.9,462.1 L544.9,462.2 L546.9,462.3 L548.9,462.3 L550.9,462.4 L552.9,462.5 L554.9,462.6 L556.9,462.7 L558.9,462.8 L560.9,462.9 L562.9,463.0 L564.9,463.2 L566.9,463.4 L568.9,463.6 L570.9,463.8 L572.9,464.0 L574.9,464.3 L576.9,464.5 L578.8,464.8 L580.8,465.1 L582.8,465.3 L584.8,465.6 L586.8,465.8 L588.8,466.1 L590.7,466.4 L592.7,466.7 L594.7,467.0 L596.7,467.3 L598.7,467.6 L600.7,467.8 L602.6,468.1 L604.6,468.4 L606.6,468.7 L608.6,469.0 L610.6,469.3 L612.5,469.6 L614.5,469.9 L616.5,470.2 L618.5,470.5 L620.4,470.8 L622.4,471.1 L624.4,471.4 L626.4,471.7 L628.4,472.0 L630.3,472.3 L632.3,472.6 L634.3,472.9 L636.3,473.2 L638.3,473.4 L640.3,473.7 L642.2,473.9 L644.2,474.1 L646.2,474.4 L648.2,474.6 L650.2,474.8 L652.2,475.0 L654.2,475.2 L656.2,475.4 L658.2,475.6 L660.2,475.8 L662.2,476.0 L664.1,476.2 L666.1,476.4 L668.1,476.7 L670.1,476.9 L672.1,477.2 L674.1,477.4 L676.1,477.7 L678.1,477.9 L680.0,478.2 L682.0,478.5 L684.0,478.7 L686.0,478.9 L688.0,479.2 L690.0,479.4 L692.0,479.6 L694.0,479.7 L696.0,479.9 L698.0,480.1 L700.0,480.2 L702.0,480.3 L703.9,480.5 L705.9,480.6 L707.9,480.8 L709.9,480.9 L711.9,481.0 L713.9,481.1 L715.9,481.3 L717.9,481.4 L719.9,481.5 L721.9,481.6 L723.9,481.7 L725.9,481.8 L727.9,481.9 L729.9,482.0 L731.9,482.1 L733.9,482.2 L735.9,482.3 L737.9,482.4 L739.9,482.4 L741.9,482.5 L743.9,482.6 L745.9,482.6 L747.9,482.7 L749.9,482.7 L751.9,482.7 L753.9,482.8 L755.9,482.8 L757.9,482.9 L759.9,482.9 L761.9,483.0 L763.9,483.0 L765.9,483.1 L767.9,483.2 L769.9,483.3 L771.9,483.4 L773.9,483.4 L775.9,483.5 L777.9,483.6 L779.9,483.7 L781.9,483.8 L783.9,483.9 L785.9,484.0 L787.9,484.1 L789.9,484.2 L791.9,484.2 L793.9,484.3 L795.9,484.3 L797.9,484.3 L799.9,484.3 L802.0,484.4 L804.0,484.4 L806.0,484.4 L808.0,484.4 L810.0,484.5 L812.0,484.5 L814.0,484.5 L816.0,484.6 L818.0,484.6 L820.0,484.7 L822.0,484.8 L824.0,484.9 L826.0,484.9 L828.0,485.0 L830.0,485.1 L832.0,485.2 L834.0,485.2 L836.0,485.3 L838.0,485.4 L840.0,485.4 L842.0,485.5 L844.0,485.5 L846.0,485.5 L848.0,485.5 L850.0,485.5 L852.0,485.5 L854.0,485.5 L856.0,485.5 L858.0,485.5 L860.0,485.5 L862.0,485.5 L864.0,485.5 L866.0,485.5 L868.0,485.5 L870.0,485.5" fill="none" stroke="#1F8CE6" stroke-width="3.80" stroke-linejoin="round"/><path d="M176.3,483.7 L178.1,483.0 L180.0,482.3 L181.8,481.6 L183.7,480.8 L185.6,480.1 L187.4,479.4 L189.3,478.6 L190.8,478.1 M203.4,473.2 L205.2,472.6 L207.1,472.0 L209.0,471.3 L210.9,470.8 L212.8,470.2 L214.7,469.6 L216.7,469.0 L218.5,468.4 M231.8,464.7 L233.0,464.4 L235.0,463.9 L236.9,463.4 L238.9,463.0 L240.8,462.5 L242.8,462.1 L244.7,461.7 L246.7,461.2 L247.6,461.0 M261.4,458.5 L263.4,458.3 L265.4,458.1 L267.4,457.9 L269.4,457.7 L271.4,457.5 L273.3,457.3 L275.3,457.1 L277.3,457.0 L277.8,456.9 M292.0,456.9 L293.3,457.0 L295.3,457.1 L297.3,457.3 L299.3,457.4 L301.3,457.6 L303.3,457.8 L305.3,457.9 L307.3,458.1 L308.4,458.2 M322.6,459.6 L324.2,459.7 L326.2,460.0 L328.2,460.2 L330.2,460.4 L332.1,460.6 L334.1,460.8 L336.1,461.0 L338.1,461.3 L338.9,461.3 M353.1,462.8 L355.0,463.0 L357.0,463.2 L359.0,463.4 L361.0,463.6 L363.0,463.8 L365.0,464.0 L367.0,464.2 L369.0,464.4 L369.4,464.4 M383.7,465.4 L385.0,465.4 L387.0,465.5 L389.0,465.6 L391.0,465.7 L393.0,465.7 L395.0,465.8 L397.0,465.9 L399.0,466.0 L400.1,466.1 M414.4,467.1 L415.9,467.2 L417.9,467.4 L419.9,467.6 L421.9,467.8 L423.9,468.0 L425.9,468.1 L427.9,468.3 L429.9,468.5 L430.7,468.6 M444.9,469.9 L446.8,470.1 L448.8,470.2 L450.8,470.4 L452.8,470.6 L454.8,470.8 L456.8,471.0 L458.8,471.2 L460.8,471.4 L461.3,471.4 M475.4,472.9 L476.7,473.1 L478.7,473.3 L480.7,473.5 L482.7,473.7 L484.7,473.9 L486.7,474.1 L488.6,474.3 L490.6,474.5 L491.8,474.6 M506.0,475.8 L507.6,476.0 L509.6,476.1 L511.6,476.3 L513.6,476.5 L515.6,476.6 L517.6,476.8 L519.6,477.0 L521.5,477.2 L522.4,477.2 M536.6,478.5 L538.5,478.7 L540.5,478.9 L542.5,479.0 L544.5,479.2 L546.5,479.4 L548.5,479.5 L550.5,479.6 L552.5,479.8 L553.0,479.8 M567.2,480.7 L568.4,480.7 L570.4,480.9 L572.4,481.0 L574.4,481.1 L576.4,481.3 L578.4,481.5 L580.4,481.7 L582.4,481.9 L583.6,482.1 M597.7,483.9 L599.3,484.1 L601.3,484.3 L603.2,484.6 L605.2,484.8 L607.2,485.1 L609.2,485.3 L611.2,485.5 L613.2,485.7 L614.0,485.8 M628.1,487.2 L629.1,487.3 L631.1,487.5 L633.1,487.7 L635.1,487.9 L637.1,488.1 L639.1,488.3 L641.1,488.6 L643.1,488.8 L644.4,488.9 M658.6,490.5 L660.0,490.7 L662.0,490.9 L664.0,491.1 L665.9,491.2 L667.9,491.4 L669.9,491.5 L671.9,491.7 L673.9,491.8 L675.0,491.9 M689.2,492.7 L690.9,492.8 L692.9,492.9 L694.9,493.0 L696.9,493.1 L698.9,493.2 L700.9,493.3 L702.9,493.4 L704.9,493.5 L705.7,493.5 M720.0,494.1 L721.9,494.2 L723.9,494.3 L725.9,494.4 L727.9,494.5 L729.9,494.6 L731.9,494.7 L733.9,494.8 L735.9,494.9 L736.4,494.9 M750.7,495.6 L751.9,495.6 L753.9,495.7 L755.9,495.7 L757.9,495.8 L759.9,495.8 L761.9,495.9 L763.9,495.9 L765.9,496.0 L767.2,496.0 M781.5,496.2 L782.9,496.2 L784.9,496.2 L786.9,496.2 L788.9,496.2 L790.9,496.2 L792.9,496.2 L794.9,496.2 L796.9,496.2 L798.0,496.2 M812.3,496.2 L814.0,496.2 L816.0,496.2 L818.0,496.2 L820.0,496.2 L822.0,496.2 L824.0,496.2 L826.0,496.2 L828.0,496.2 L828.8,496.2 M843.1,496.2 L845.0,496.2 L847.0,496.2 L849.0,496.2 L851.0,496.2 L853.0,496.2 L855.0,496.2 L857.0,496.2 L859.0,496.2 L859.6,496.2" fill="none" stroke="#28E2E5" stroke-width="3.80"/><rect x="148.75" y="94.20" width="748.25" height="439.30" fill="none" stroke="#000" stroke-width="2.20"/><line x1="129.95" y1="481.30" x2="148.75" y2="481.30" stroke="#000" stroke-width="2.20"/><text transform="translate(103.50,481.30) rotate(-90)" font-size="32.0" text-anchor="middle" fill="#000">10</text><line x1="129.95" y1="407.08" x2="148.75" y2="407.08" stroke="#000" stroke-width="2.20"/><text transform="translate(103.50,407.08) rotate(-90)" font-size="32.0" text-anchor="middle" fill="#000">20</text><line x1="129.95" y1="332.86" x2="148.75" y2="332.86" stroke="#000" stroke-width="2.20"/><text transform="translate(103.50,332.86) rotate(-90)" font-size="32.0" text-anchor="middle" fill="#000">30</text><line x1="129.95" y1="258.64" x2="148.75" y2="258.64" stroke="#000" stroke-width="2.20"/><text transform="translate(103.50,258.64) rotate(-90)" font-size="32.0" text-anchor="middle" fill="#000">40</text><line x1="129.95" y1="184.42" x2="148.75" y2="184.42" stroke="#000" stroke-width="2.20"/><text transform="translate(103.50,184.42) rotate(-90)" font-size="32.0" text-anchor="middle" fill="#000">50</text><line x1="129.95" y1="110.20" x2="148.75" y2="110.20" stroke="#000" stroke-width="2.20"/><text transform="translate(103.50,110.20) rotate(-90)" font-size="32.0" text-anchor="middle" fill="#000">60</text><line x1="195.75" y1="533.50" x2="195.75" y2="552.50" stroke="#000" stroke-width="2.20"/><line x1="293.43" y1="533.50" x2="293.43" y2="552.50" stroke="#000" stroke-width="2.20"/><line x1="391.11" y1="533.50" x2="391.11" y2="552.50" stroke="#000" stroke-width="2.20"/><line x1="488.79" y1="533.50" x2="488.79" y2="552.50" stroke="#000" stroke-width="2.20"/><line x1="586.46" y1="533.50" x2="586.46" y2="552.50" stroke="#000" stroke-width="2.20"/><line x1="684.14" y1="533.50" x2="684.14" y2="552.50" stroke="#000" stroke-width="2.20"/><line x1="781.82" y1="533.50" x2="781.82" y2="552.50" stroke="#000" stroke-width="2.20"/><line x1="879.50" y1="533.50" x2="879.50" y2="552.50" stroke="#000" stroke-width="2.20"/><text transform="translate(30.00,309.20) rotate(-90)" font-size="32.0" text-anchor="middle" fill="#000" textLength="243.5" lengthAdjust="spacingAndGlyphs">Vertical jump (cm)</text></g>
<g><path d="M1080.0,225.0 L1082.0,224.7 L1084.0,224.5 L1086.0,224.2 L1087.9,223.9 L1089.9,223.7 L1091.9,223.4 L1093.9,223.1 L1095.9,222.9 L1096.2,222.8 M1110.3,221.0 L1111.7,220.8 L1113.7,220.5 L1115.7,220.3 L1117.7,220.1 L1119.7,219.9 L1121.7,219.8 L1123.7,219.6 L1125.7,219.5 L1126.6,219.4 M1140.9,218.5 L1142.7,218.4 L1144.7,218.3 L1146.7,218.3 L1148.7,218.3 L1150.7,218.3 L1152.7,218.4 L1154.7,218.5 L1156.6,218.6 L1157.4,218.7 M1171.6,219.6 L1172.6,219.7 L1174.6,219.9 L1176.6,220.1 L1178.6,220.3 L1180.6,220.5 L1182.6,220.7 L1184.6,221.0 L1186.5,221.2 L1187.9,221.4 M1201.9,223.4 L1203.4,223.6 L1205.4,224.0 L1207.3,224.4 L1209.3,224.8 L1211.2,225.2 L1213.2,225.6 L1215.1,226.1 L1217.1,226.5 L1217.8,226.7 M1231.4,229.9 L1232.6,230.3 L1234.6,230.8 L1236.5,231.5 L1238.4,232.1 L1240.3,232.7 L1242.1,233.4 L1244.0,234.0 L1245.9,234.7 L1246.4,234.9 M1259.3,239.4 L1261.0,240.0 L1262.9,240.7 L1264.8,241.3 L1266.7,242.0 L1268.6,242.6 L1270.5,243.3 L1272.4,244.0 L1274.1,244.6 M1287.0,249.2 L1288.4,249.7 L1290.3,250.4 L1292.2,251.1 L1294.0,251.8 L1295.9,252.4 L1297.8,253.1 L1299.7,253.8 L1301.5,254.5 L1301.7,254.6 M1314.3,259.5 L1315.5,260.0 L1317.4,260.7 L1319.3,261.5 L1321.1,262.2 L1323.0,262.9 L1324.8,263.7 L1326.7,264.4 L1328.6,265.1 L1328.7,265.2 M1341.4,270.0 L1342.6,270.4 L1344.5,271.1 L1346.4,271.8 L1348.2,272.5 L1350.1,273.2 L1352.0,273.9 L1353.8,274.7 L1355.7,275.4 L1356.0,275.5 M1368.4,280.8 L1369.5,281.3 L1371.4,282.1 L1373.2,282.8 L1375.0,283.6 L1376.9,284.4 L1378.7,285.2 L1380.6,286.0 L1382.4,286.7 L1382.6,286.8 M1395.1,291.9 L1396.3,292.4 L1398.2,293.2 L1400.0,293.9 L1401.9,294.7 L1403.7,295.4 L1405.6,296.2 L1407.5,296.9 L1409.3,297.7 L1409.5,297.7 M1422.0,302.8 L1423.2,303.2 L1425.1,304.0 L1427.0,304.7 L1428.8,305.5 L1430.7,306.2 L1432.5,307.0 L1434.4,307.7 L1436.3,308.5 L1436.4,308.5 M1449.0,313.5 L1450.2,314.0 L1452.1,314.7 L1454.0,315.4 L1455.8,316.1 L1457.7,316.8 L1459.6,317.5 L1461.5,318.2 L1463.4,318.9 L1463.7,319.0 M1476.4,323.7 L1477.4,324.0 L1479.3,324.7 L1481.2,325.4 L1483.1,326.1 L1485.0,326.8 L1486.8,327.5 L1488.7,328.2 L1490.6,328.9 L1491.1,329.1 M1503.9,333.7 L1505.7,334.3 L1507.6,334.9 L1509.4,335.6 L1511.3,336.3 L1513.2,336.9 L1515.1,337.6 L1517.0,338.3 L1518.8,338.9 M1531.4,343.8 L1532.9,344.4 L1534.7,345.1 L1536.6,345.8 L1538.5,346.6 L1540.3,347.3 L1542.2,348.0 L1544.1,348.7 L1545.9,349.4 M1559.0,353.6 L1560.2,354.0 L1562.2,354.5 L1564.1,355.1 L1566.0,355.7 L1567.9,356.3 L1569.8,356.9 L1571.7,357.5 L1573.6,358.0 L1574.2,358.2 M1587.3,362.4 L1588.9,362.9 L1590.8,363.5 L1592.7,364.1 L1594.6,364.7 L1596.6,365.3 L1598.5,365.8 L1600.4,366.4 L1602.3,366.9 L1602.6,367.0 M1616.0,370.6 L1617.8,371.0 L1619.7,371.5 L1621.7,372.0 L1623.6,372.5 L1625.6,373.0 L1627.5,373.4 L1629.5,373.9 L1631.4,374.4 L1631.6,374.4 M1645.3,377.5 L1647.0,377.9 L1649.0,378.3 L1651.0,378.6 L1652.9,379.0 L1654.9,379.4 L1656.9,379.7 L1658.8,380.0 L1660.8,380.3 L1661.3,380.4 M1675.3,382.5 L1676.7,382.7 L1678.6,383.0 L1680.6,383.3 L1682.6,383.6 L1684.6,383.9 L1686.6,384.2 L1688.5,384.5 L1690.5,384.8 L1691.4,384.9 M1705.5,386.8 L1707.4,387.0 L1709.4,387.2 L1711.4,387.4 L1713.4,387.5 L1715.3,387.7 L1717.3,387.8 L1719.3,388.0 L1721.3,388.1 L1721.9,388.2 M1736.1,389.2 L1737.3,389.3 L1739.3,389.5 L1741.3,389.7 L1743.3,389.9 L1745.3,390.1 L1747.3,390.3 L1749.3,390.5 L1751.2,390.7 L1752.4,390.9 M1766.6,392.4 L1768.2,392.6 L1770.1,392.8 L1772.1,393.1 L1774.1,393.4 L1776.1,393.7 L1778.1,394.0 L1780.1,394.3 L1782.0,394.6 L1782.8,394.7" fill="none" stroke="#F5C710" stroke-width="3.80"/><path d="M1080.0,280.0 L1082.0,279.8 L1084.0,279.5 L1086.0,279.3 L1088.0,279.1 L1089.9,278.9 L1091.9,278.6 L1093.9,278.4 L1095.9,278.2 L1097.9,278.0 L1099.9,277.8 L1101.9,277.6 L1103.9,277.4 L1105.9,277.2 L1107.8,277.0 L1109.8,276.8 L1111.8,276.6 L1113.8,276.5 L1115.8,276.4 L1117.8,276.2 L1119.8,276.2 L1121.8,276.1 L1123.8,276.0 L1125.8,276.0 L1127.8,275.9 L1129.8,275.9 L1131.8,275.9 L1133.8,275.8 L1135.8,275.8 L1137.8,275.8 L1139.8,275.8 L1141.8,275.8 L1143.8,275.9 L1145.8,275.9 L1147.8,275.9 L1149.8,275.9 L1151.8,275.9 L1153.8,276.0 L1155.8,276.0 L1157.8,276.0 L1159.8,276.0 L1161.8,276.1 L1163.8,276.1 L1165.8,276.1 L1167.8,276.1 L1169.8,276.2 L1171.8,276.2 L1173.8,276.3 L1175.8,276.4 L1177.8,276.5 L1179.8,276.7 L1181.8,276.8 L1183.8,277.1 L1185.8,277.3 L1187.7,277.5 L1189.7,277.8 L1191.7,278.1 L1193.7,278.3 L1195.7,278.6 L1197.6,278.9 L1199.6,279.3 L1201.6,279.7 L1203.5,280.1 L1205.5,280.5 L1207.5,280.9 L1209.4,281.3 L1211.4,281.7 L1213.3,282.1 L1215.3,282.5 L1217.2,283.0 L1219.2,283.4 L1221.1,283.8 L1223.1,284.3 L1225.0,284.7 L1227.0,285.1 L1228.9,285.6 L1230.9,286.0 L1232.8,286.5 L1234.8,286.9 L1236.7,287.4 L1238.7,287.9 L1240.6,288.4 L1242.5,288.9 L1244.5,289.4 L1246.4,290.0 L1248.3,290.5 L1250.3,291.0 L1252.2,291.6 L1254.1,292.1 L1256.0,292.7 L1258.0,293.3 L1259.9,293.8 L1261.8,294.5 L1263.7,295.1 L1265.6,295.7 L1267.5,296.4 L1269.3,297.0 L1271.2,297.7 L1273.1,298.3 L1275.0,299.0 L1276.9,299.7 L1278.8,300.3 L1280.7,301.0 L1282.6,301.6 L1284.5,302.2 L1286.4,302.8 L1288.3,303.5 L1290.2,304.0 L1292.1,304.6 L1294.0,305.2 L1295.9,305.8 L1297.9,306.4 L1299.8,306.9 L1301.7,307.5 L1303.6,308.1 L1305.5,308.7 L1307.4,309.2 L1309.4,309.8 L1311.3,310.4 L1313.2,311.0 L1315.1,311.5 L1317.0,312.1 L1318.9,312.7 L1320.9,313.3 L1322.8,313.8 L1324.7,314.4 L1326.6,315.0 L1328.5,315.6 L1330.4,316.1 L1332.3,316.7 L1334.3,317.3 L1336.2,317.9 L1338.1,318.4 L1340.0,319.0 L1341.9,319.6 L1343.8,320.2 L1345.8,320.7 L1347.7,321.3 L1349.6,321.9 L1351.5,322.5 L1353.4,323.0 L1355.3,323.6 L1357.3,324.2 L1359.2,324.8 L1361.1,325.3 L1363.0,325.9 L1364.9,326.5 L1366.8,327.1 L1368.8,327.6 L1370.7,328.2 L1372.6,328.8 L1374.5,329.4 L1376.4,329.9 L1378.3,330.5 L1380.3,331.1 L1382.2,331.7 L1384.1,332.3 L1386.0,332.9 L1387.9,333.5 L1389.8,334.2 L1391.7,334.8 L1393.5,335.5 L1395.4,336.2 L1397.3,336.8 L1399.2,337.5 L1401.1,338.1 L1403.0,338.8 L1404.9,339.5 L1406.8,340.1 L1408.7,340.8 L1410.5,341.4 L1412.4,342.1 L1414.3,342.8 L1416.2,343.4 L1418.1,344.1 L1420.0,344.7 L1421.9,345.4 L1423.8,346.1 L1425.6,346.7 L1427.5,347.4 L1429.4,348.0 L1431.3,348.7 L1433.2,349.3 L1435.1,349.9 L1437.0,350.6 L1438.9,351.2 L1440.8,351.7 L1442.8,352.3 L1444.7,352.9 L1446.6,353.5 L1448.5,354.1 L1450.4,354.6 L1452.3,355.2 L1454.3,355.8 L1456.2,356.3 L1458.1,356.9 L1460.0,357.4 L1462.0,357.9 L1463.9,358.4 L1465.8,358.9 L1467.8,359.4 L1469.7,359.9 L1471.6,360.4 L1473.6,360.9 L1475.5,361.4 L1477.5,361.9 L1479.4,362.4 L1481.3,362.9 L1483.3,363.4 L1485.2,363.9 L1487.1,364.4 L1489.1,365.0 L1491.0,365.5 L1492.9,366.1 L1494.8,366.6 L1496.7,367.2 L1498.7,367.8 L1500.6,368.3 L1502.5,368.9 L1504.4,369.5 L1506.3,370.1 L1508.3,370.6 L1510.2,371.2 L1512.1,371.8 L1514.0,372.4 L1515.9,372.9 L1517.8,373.5 L1519.8,374.1 L1521.7,374.6 L1523.6,375.2 L1525.5,375.7 L1527.4,376.3 L1529.4,376.8 L1531.3,377.3 L1533.2,377.8 L1535.2,378.3 L1537.1,378.8 L1539.1,379.3 L1541.0,379.8 L1542.9,380.2 L1544.9,380.7 L1546.8,381.2 L1548.8,381.7 L1550.7,382.2 L1552.6,382.7 L1554.6,383.2 L1556.5,383.8 L1558.4,384.3 L1560.4,384.8 L1562.3,385.4 L1564.2,385.9 L1566.1,386.5 L1568.1,387.0 L1570.0,387.5 L1571.9,388.1 L1573.9,388.6 L1575.8,389.1 L1577.7,389.6 L1579.7,390.0 L1581.6,390.5 L1583.6,390.9 L1585.5,391.4 L1587.5,391.8 L1589.4,392.2 L1591.4,392.7 L1593.3,393.1 L1595.3,393.5 L1597.2,393.9 L1599.2,394.4 L1601.2,394.8 L1603.1,395.1 L1605.1,395.5 L1607.1,395.9 L1609.0,396.3 L1611.0,396.6 L1613.0,397.0 L1614.9,397.3 L1616.9,397.7 L1618.9,398.0 L1620.8,398.4 L1622.8,398.7 L1624.8,399.1 L1626.7,399.5 L1628.7,399.8 L1630.7,400.2 L1632.6,400.6 L1634.6,400.9 L1636.6,401.3 L1638.5,401.7 L1640.5,402.1 L1642.5,402.4 L1644.4,402.8 L1646.4,403.2 L1648.4,403.5 L1650.3,403.8 L1652.3,404.1 L1654.3,404.4 L1656.3,404.7 L1658.3,404.9 L1660.3,405.1 L1662.2,405.4 L1664.2,405.6 L1666.2,405.8 L1668.2,406.0 L1670.2,406.2 L1672.2,406.5 L1674.2,406.7 L1676.2,406.9 L1678.2,407.1 L1680.1,407.3 L1682.1,407.5 L1684.1,407.6 L1686.1,407.8 L1688.1,408.0 L1690.1,408.2 L1692.1,408.4 L1694.1,408.5 L1696.1,408.7 L1698.1,408.9 L1700.1,409.0 L1702.1,409.2 L1704.1,409.3 L1706.1,409.5 L1708.1,409.6 L1710.1,409.7 L1712.0,409.9 L1714.0,410.0 L1716.0,410.1 L1718.0,410.2 L1720.0,410.3 L1722.0,410.4 L1724.0,410.6 L1726.0,410.7 L1728.0,410.8 L1730.0,410.9 L1732.0,411.0 L1734.0,411.1 L1736.0,411.2 L1738.0,411.3 L1740.0,411.4 L1742.0,411.5 L1744.0,411.6 L1746.0,411.7 L1748.0,411.8 L1750.0,411.9 L1752.0,412.0 L1754.0,412.0 L1756.0,412.1 L1758.0,412.2 L1760.0,412.2 L1762.0,412.3 L1764.0,412.4 L1766.0,412.4 L1768.0,412.5 L1770.0,412.5 L1772.0,412.6 L1774.0,412.6 L1776.0,412.7 L1778.0,412.8 L1780.0,412.8 L1782.0,412.9 L1784.0,412.9 L1786.0,413.0" fill="none" stroke="#DF4A66" stroke-width="3.80" stroke-linejoin="round"/><path d="M1080.0,343.0 L1082.0,342.8 L1084.0,342.6 L1086.0,342.3 L1088.0,342.1 L1089.9,341.9 L1091.9,341.7 L1093.9,341.5 L1095.9,341.2 L1096.3,341.2 M1110.5,340.2 L1111.9,340.2 L1113.9,340.1 L1115.9,340.1 L1117.9,340.0 L1119.9,339.9 L1121.9,339.9 L1123.9,339.8 L1125.9,339.7 L1127.0,339.7 M1141.3,339.6 L1142.9,339.7 L1144.9,339.7 L1146.9,339.7 L1148.9,339.8 L1150.9,339.8 L1152.9,339.8 L1154.9,339.8 L1156.9,339.9 L1157.8,339.9 M1172.1,340.6 L1173.9,340.8 L1175.9,340.9 L1177.9,341.1 L1179.9,341.3 L1181.9,341.5 L1183.9,341.6 L1185.9,341.8 L1187.9,342.0 L1188.5,342.1 M1202.6,343.5 L1203.8,343.6 L1205.8,343.9 L1207.8,344.1 L1209.8,344.3 L1211.7,344.6 L1213.7,344.9 L1215.7,345.2 L1217.7,345.5 L1218.8,345.7 M1232.8,348.0 L1234.5,348.3 L1236.4,348.7 L1238.4,349.1 L1240.3,349.5 L1242.3,349.9 L1244.2,350.4 L1246.2,350.8 L1248.1,351.3 L1248.6,351.4 M1262.2,354.6 L1263.7,355.0 L1265.7,355.5 L1267.6,355.9 L1269.6,356.4 L1271.5,356.8 L1273.5,357.3 L1275.4,357.8 L1277.4,358.2 L1277.9,358.4 M1291.4,361.7 L1292.9,362.0 L1294.9,362.5 L1296.8,363.0 L1298.7,363.5 L1300.7,364.1 L1302.6,364.6 L1304.5,365.1 L1306.5,365.6 L1306.9,365.7 M1320.5,369.1 L1322.0,369.5 L1324.0,369.9 L1325.9,370.4 L1327.9,370.9 L1329.8,371.3 L1331.7,371.8 L1333.7,372.2 L1335.6,372.7 L1336.1,372.8 M1349.8,376.0 L1351.2,376.3 L1353.2,376.7 L1355.2,377.2 L1357.1,377.6 L1359.1,378.1 L1361.0,378.5 L1363.0,379.0 L1364.9,379.4 L1365.5,379.5 M1379.3,382.4 L1380.6,382.7 L1382.6,383.1 L1384.5,383.5 L1386.5,383.9 L1388.4,384.3 L1390.4,384.7 L1392.3,385.1 L1394.3,385.6 L1395.1,385.8 M1408.5,389.2 L1409.8,389.6 L1411.7,390.1 L1413.7,390.6 L1415.6,391.1 L1417.6,391.6 L1419.5,392.0 L1421.5,392.5 L1423.4,392.9 L1424.2,393.1 M1438.0,395.6 L1439.1,395.8 L1441.1,396.2 L1443.1,396.6 L1445.1,396.9 L1447.0,397.3 L1449.0,397.7 L1451.0,398.0 L1452.9,398.4 L1454.0,398.6 M1467.8,401.2 L1469.6,401.6 L1471.6,402.0 L1473.6,402.4 L1475.5,402.7 L1477.5,403.1 L1479.5,403.5 L1481.4,404.0 L1483.4,404.4 L1483.7,404.4 M1497.5,407.3 L1499.1,407.6 L1501.0,407.9 L1503.0,408.3 L1505.0,408.6 L1507.0,409.0 L1508.9,409.3 L1510.9,409.6 L1512.9,409.9 L1513.6,410.0 M1527.5,412.3 L1528.7,412.5 L1530.6,412.9 L1532.6,413.3 L1534.6,413.7 L1536.5,414.1 L1538.5,414.6 L1540.4,415.0 L1542.4,415.5 L1543.3,415.7 M1557.0,418.7 L1558.0,418.9 L1560.0,419.3 L1561.9,419.7 L1563.9,420.0 L1565.9,420.4 L1567.8,420.8 L1569.8,421.2 L1571.8,421.5 L1573.0,421.8 M1586.8,424.3 L1588.5,424.6 L1590.5,424.9 L1592.5,425.3 L1594.4,425.6 L1596.4,426.0 L1598.4,426.3 L1600.4,426.6 L1602.3,427.0 L1602.9,427.1 M1616.9,429.0 L1618.2,429.1 L1620.2,429.3 L1622.2,429.6 L1624.2,429.8 L1626.1,430.0 L1628.1,430.2 L1630.1,430.5 L1632.1,430.7 L1633.2,430.8 M1647.4,432.4 L1649.0,432.6 L1651.0,432.8 L1653.0,433.1 L1655.0,433.3 L1657.0,433.5 L1659.0,433.7 L1661.0,433.9 L1663.0,434.1 L1663.7,434.2 M1677.9,434.9 L1678.9,434.9 L1680.9,435.0 L1682.9,435.1 L1684.9,435.1 L1686.9,435.2 L1688.9,435.2 L1690.9,435.3 L1692.9,435.4 L1694.4,435.4 M1708.7,436.1 L1709.9,436.1 L1711.9,436.2 L1713.9,436.3 L1715.9,436.4 L1717.9,436.5 L1719.9,436.6 L1721.9,436.7 L1723.9,436.8 L1725.2,436.8 M1739.5,437.0 L1741.0,437.0 L1743.0,437.0 L1745.0,437.0 L1747.0,437.0 L1749.0,437.0 L1751.0,437.0 L1753.0,437.0 L1755.0,437.0 L1756.0,437.0 M1770.3,437.0 L1772.0,437.0 L1774.0,437.0 L1776.0,437.0 L1778.0,437.0 L1780.0,437.0 L1782.0,437.0 L1784.0,437.0 L1785.0,437.0" fill="none" stroke="#F5C710" stroke-width="3.80"/><path d="M1080.0,377.5 L1082.0,377.3 L1084.0,377.1 L1086.0,377.0 L1088.0,376.8 L1090.0,376.6 L1092.0,376.4 L1094.0,376.3 L1096.0,376.1 L1097.9,375.9 L1099.9,375.8 L1101.9,375.6 L1103.9,375.5 L1105.9,375.3 L1107.9,375.2 L1109.9,375.1 L1111.9,375.0 L1113.9,374.9 L1115.9,374.8 L1117.9,374.7 L1119.9,374.6 L1121.9,374.5 L1123.9,374.4 L1125.9,374.3 L1127.9,374.3 L1129.9,374.3 L1131.9,374.3 L1133.9,374.3 L1135.9,374.3 L1137.9,374.3 L1139.9,374.3 L1141.9,374.3 L1143.9,374.3 L1145.9,374.3 L1147.9,374.3 L1149.9,374.3 L1151.9,374.3 L1154.0,374.3 L1156.0,374.3 L1158.0,374.3 L1160.0,374.3 L1162.0,374.4 L1164.0,374.4 L1166.0,374.5 L1168.0,374.6 L1170.0,374.7 L1172.0,374.7 L1174.0,374.8 L1176.0,374.9 L1178.0,375.0 L1180.0,375.1 L1182.0,375.2 L1184.0,375.3 L1186.0,375.4 L1188.0,375.5 L1189.9,375.7 L1191.9,375.8 L1193.9,376.0 L1195.9,376.3 L1197.9,376.5 L1199.9,376.7 L1201.9,377.0 L1203.9,377.2 L1205.9,377.5 L1207.8,377.7 L1209.8,378.0 L1211.8,378.2 L1213.8,378.5 L1215.8,378.8 L1217.8,379.0 L1219.8,379.3 L1221.7,379.5 L1223.7,379.8 L1225.7,380.0 L1227.7,380.3 L1229.7,380.6 L1231.7,380.9 L1233.6,381.2 L1235.6,381.5 L1237.6,381.8 L1239.5,382.2 L1241.5,382.6 L1243.5,383.0 L1245.4,383.3 L1247.4,383.7 L1249.4,384.1 L1251.3,384.5 L1253.3,384.9 L1255.3,385.3 L1257.2,385.7 L1259.2,386.1 L1261.1,386.6 L1263.1,387.0 L1265.0,387.4 L1267.0,387.9 L1268.9,388.3 L1270.9,388.8 L1272.8,389.2 L1274.8,389.7 L1276.7,390.1 L1278.7,390.5 L1280.7,391.0 L1282.6,391.4 L1284.6,391.9 L1286.5,392.3 L1288.5,392.8 L1290.4,393.2 L1292.4,393.6 L1294.3,394.1 L1296.3,394.5 L1298.2,394.9 L1300.2,395.3 L1302.2,395.8 L1304.1,396.2 L1306.1,396.6 L1308.0,397.0 L1310.0,397.5 L1311.9,397.9 L1313.9,398.3 L1315.9,398.7 L1317.8,399.1 L1319.8,399.5 L1321.7,399.8 L1323.7,400.2 L1325.7,400.6 L1327.6,401.0 L1329.6,401.4 L1331.6,401.8 L1333.5,402.2 L1335.5,402.6 L1337.5,403.0 L1339.4,403.4 L1341.4,403.8 L1343.3,404.2 L1345.3,404.6 L1347.3,405.0 L1349.2,405.3 L1351.2,405.7 L1353.2,406.1 L1355.1,406.5 L1357.1,406.9 L1359.0,407.4 L1361.0,407.8 L1363.0,408.2 L1364.9,408.6 L1366.9,409.1 L1368.8,409.5 L1370.8,410.0 L1372.7,410.4 L1374.7,410.9 L1376.6,411.3 L1378.6,411.8 L1380.5,412.2 L1382.5,412.6 L1384.4,413.0 L1386.4,413.4 L1388.4,413.8 L1390.3,414.1 L1392.3,414.5 L1394.3,414.8 L1396.3,415.2 L1398.2,415.5 L1400.2,415.8 L1402.2,416.2 L1404.1,416.5 L1406.1,416.8 L1408.1,417.2 L1410.1,417.5 L1412.1,417.8 L1414.0,418.1 L1416.0,418.4 L1418.0,418.7 L1420.0,419.0 L1421.9,419.3 L1423.9,419.6 L1425.9,419.9 L1427.9,420.2 L1429.9,420.5 L1431.8,420.8 L1433.8,421.1 L1435.8,421.4 L1437.8,421.7 L1439.8,422.0 L1441.7,422.3 L1443.7,422.6 L1445.7,422.9 L1447.7,423.2 L1449.7,423.4 L1451.6,423.7 L1453.6,424.0 L1455.6,424.3 L1457.6,424.6 L1459.6,424.9 L1461.5,425.2 L1463.5,425.5 L1465.5,425.8 L1467.5,426.1 L1469.5,426.4 L1471.4,426.7 L1473.4,427.0 L1475.4,427.3 L1477.4,427.6 L1479.4,427.9 L1481.3,428.2 L1483.3,428.5 L1485.3,428.9 L1487.3,429.2 L1489.2,429.6 L1491.2,429.9 L1493.2,430.3 L1495.1,430.7 L1497.1,431.1 L1499.1,431.4 L1501.0,431.8 L1503.0,432.1 L1505.0,432.5 L1507.0,432.8 L1508.9,433.2 L1510.9,433.5 L1512.9,433.8 L1514.8,434.2 L1516.8,434.5 L1518.8,434.9 L1520.8,435.2 L1522.7,435.5 L1524.7,435.8 L1526.7,436.2 L1528.7,436.5 L1530.6,436.8 L1532.6,437.1 L1534.6,437.4 L1536.6,437.7 L1538.6,438.0 L1540.5,438.3 L1542.5,438.6 L1544.5,438.9 L1546.5,439.2 L1548.5,439.4 L1550.4,439.7 L1552.4,440.0 L1554.4,440.3 L1556.4,440.5 L1558.4,440.8 L1560.4,441.0 L1562.4,441.2 L1564.4,441.5 L1566.3,441.7 L1568.3,442.0 L1570.3,442.2 L1572.3,442.4 L1574.3,442.7 L1576.3,442.9 L1578.3,443.2 L1580.2,443.4 L1582.2,443.7 L1584.2,443.9 L1586.2,444.2 L1588.2,444.5 L1590.2,444.7 L1592.2,445.0 L1594.1,445.2 L1596.1,445.5 L1598.1,445.7 L1600.1,446.0 L1602.1,446.2 L1604.1,446.4 L1606.1,446.6 L1608.1,446.8 L1610.1,447.1 L1612.0,447.3 L1614.0,447.5 L1616.0,447.7 L1618.0,447.9 L1620.0,448.1 L1622.0,448.3 L1624.0,448.5 L1626.0,448.6 L1628.0,448.8 L1630.0,449.0 L1632.0,449.2 L1634.0,449.4 L1636.0,449.6 L1637.9,449.8 L1639.9,450.0 L1641.9,450.2 L1643.9,450.4 L1645.9,450.6 L1647.9,450.8 L1649.9,450.9 L1651.9,451.1 L1653.9,451.2 L1655.9,451.2 L1657.9,451.3 L1659.9,451.3 L1661.9,451.4 L1663.9,451.4 L1665.9,451.4 L1667.9,451.5 L1669.9,451.5 L1671.9,451.5 L1673.9,451.5 L1675.9,451.6 L1677.9,451.6 L1679.9,451.6 L1681.9,451.6 L1683.9,451.7 L1685.9,451.7 L1687.9,451.7 L1689.9,451.8 L1691.9,451.8 L1693.9,451.8 L1695.9,451.9 L1697.9,451.9 L1699.9,452.0 L1701.9,452.0 L1703.9,452.0 L1705.9,452.1 L1707.9,452.1 L1709.9,452.2 L1711.9,452.2 L1713.9,452.2 L1715.9,452.3 L1717.9,452.3 L1719.9,452.4 L1721.9,452.4 L1723.9,452.4 L1726.0,452.5 L1728.0,452.5 L1730.0,452.6 L1732.0,452.7 L1734.0,452.7 L1736.0,452.8 L1738.0,452.8 L1740.0,452.9 L1742.0,452.9 L1744.0,453.0 L1746.0,453.1 L1748.0,453.1 L1750.0,453.2 L1752.0,453.2 L1754.0,453.2 L1756.0,453.2 L1758.0,453.2 L1760.0,453.2 L1762.0,453.2 L1764.0,453.2 L1766.0,453.2 L1768.0,453.2 L1770.0,453.2 L1772.0,453.2 L1774.0,453.2 L1776.0,453.2 L1778.0,453.2 L1780.0,453.2 L1782.0,453.2 L1784.0,453.2 L1786.0,453.2" fill="none" stroke="#DF4A66" stroke-width="3.80" stroke-linejoin="round"/><path d="M1080.0,405.5 L1082.0,405.4 L1084.0,405.3 L1086.0,405.3 L1088.0,405.2 L1090.0,405.1 L1092.0,405.0 L1094.0,404.9 L1096.0,404.8 L1096.5,404.8 M1110.8,404.2 L1112.0,404.2 L1114.0,404.1 L1116.0,404.0 L1118.0,404.0 L1120.0,403.9 L1122.0,403.8 L1124.0,403.8 L1126.0,403.8 L1127.2,403.8 M1141.5,403.8 L1143.0,403.8 L1145.0,403.8 L1147.0,403.8 L1149.0,403.8 L1151.0,403.8 L1153.0,403.8 L1155.0,403.8 L1157.0,403.8 L1158.0,403.8 M1172.3,404.5 L1174.0,404.6 L1176.0,404.7 L1178.0,404.8 L1180.0,404.9 L1182.0,405.0 L1184.0,405.1 L1186.0,405.3 L1188.0,405.4 L1188.8,405.4 M1203.0,406.4 L1204.9,406.5 L1206.9,406.6 L1208.9,406.8 L1210.9,406.9 L1212.9,407.0 L1214.9,407.2 L1216.9,407.4 L1218.9,407.6 L1219.4,407.6 M1233.4,409.7 L1234.7,409.9 L1236.7,410.2 L1238.7,410.6 L1240.6,410.9 L1242.6,411.2 L1244.6,411.5 L1246.6,411.8 L1248.5,412.1 L1249.5,412.3 M1263.5,414.5 L1265.3,414.8 L1267.3,415.1 L1269.3,415.4 L1271.3,415.7 L1273.2,416.0 L1275.2,416.3 L1277.2,416.7 L1279.2,417.0 L1279.6,417.1 M1293.5,419.6 L1294.9,419.9 L1296.9,420.2 L1298.8,420.6 L1300.8,420.9 L1302.8,421.3 L1304.7,421.7 L1306.7,422.0 L1308.7,422.4 L1309.5,422.5 M1323.3,425.0 L1324.4,425.2 L1326.4,425.6 L1328.4,425.9 L1330.3,426.3 L1332.3,426.6 L1334.3,426.9 L1336.3,427.2 L1338.2,427.5 L1339.4,427.7 M1353.4,429.9 L1355.0,430.1 L1357.0,430.4 L1359.0,430.7 L1361.0,431.0 L1363.0,431.3 L1364.9,431.6 L1366.9,431.9 L1368.9,432.2 L1369.6,432.3 M1383.6,434.4 L1384.7,434.5 L1386.7,434.9 L1388.7,435.2 L1390.6,435.6 L1392.6,436.0 L1394.6,436.3 L1396.5,436.7 L1398.5,437.1 L1399.6,437.3 M1413.5,439.6 L1415.3,439.9 L1417.2,440.1 L1419.2,440.4 L1421.2,440.7 L1423.2,441.0 L1425.2,441.2 L1427.2,441.5 L1429.1,441.8 L1429.7,441.8 M1443.8,443.8 L1445.0,443.9 L1447.0,444.2 L1449.0,444.5 L1450.9,444.7 L1452.9,445.0 L1454.9,445.3 L1456.9,445.5 L1458.9,445.8 L1460.0,445.9 M1474.1,447.5 L1475.8,447.7 L1477.8,447.9 L1479.8,448.1 L1481.7,448.3 L1483.7,448.5 L1485.7,448.7 L1487.7,448.9 L1489.7,449.1 L1490.5,449.2 M1504.6,450.8 L1505.6,450.9 L1507.6,451.1 L1509.6,451.3 L1511.6,451.5 L1513.6,451.7 L1515.6,451.9 L1517.6,452.2 L1519.5,452.4 L1520.9,452.5 M1535.1,454.0 L1536.5,454.1 L1538.4,454.3 L1540.4,454.6 L1542.4,454.8 L1544.4,455.0 L1546.4,455.2 L1548.4,455.4 L1550.4,455.7 L1551.4,455.8 M1565.5,457.6 L1567.2,457.8 L1569.2,458.1 L1571.2,458.3 L1573.2,458.6 L1575.2,458.8 L1577.2,459.1 L1579.2,459.3 L1581.1,459.5 L1581.7,459.6 M1595.9,460.9 L1597.1,461.0 L1599.1,461.2 L1601.1,461.4 L1603.1,461.6 L1605.0,461.8 L1607.0,462.0 L1609.0,462.1 L1611.0,462.3 L1612.3,462.4 M1626.5,463.5 L1628.0,463.6 L1630.0,463.7 L1632.0,463.9 L1634.0,464.0 L1636.0,464.1 L1638.0,464.2 L1640.0,464.3 L1642.0,464.4 L1643.0,464.4 M1657.3,464.8 L1659.0,464.8 L1661.0,464.8 L1663.0,464.9 L1665.0,464.9 L1667.0,464.9 L1669.0,465.0 L1671.0,465.0 L1673.0,465.0 L1673.7,465.0 M1688.0,465.0 L1690.0,465.0 L1692.0,465.0 L1694.0,465.0 L1696.0,465.0 L1698.0,465.0 L1700.0,465.0 L1702.0,465.0 L1704.0,465.0 L1704.5,465.0 M1718.8,465.0 L1720.0,465.0 L1722.0,465.0 L1724.0,465.0 L1726.0,465.0 L1728.0,465.0 L1730.0,465.0 L1732.0,465.0 L1734.0,465.0 L1735.3,465.0 M1749.6,465.0 L1751.0,465.0 L1753.0,465.0 L1755.0,465.0 L1757.0,465.0 L1759.0,465.0 L1761.0,465.0 L1763.0,465.0 L1765.0,465.0 L1766.1,465.0 M1780.4,465.0 L1782.0,465.0 L1784.0,465.0 L1785.0,465.0" fill="none" stroke="#F5C710" stroke-width="3.80"/><path d="M1080.0,439.2 L1082.0,439.1 L1084.0,439.0 L1086.0,438.9 L1088.0,438.7 L1090.0,438.6 L1092.0,438.5 L1094.0,438.4 L1096.0,438.2 L1098.0,438.1 L1100.0,438.0 L1102.0,437.9 L1104.0,437.8 L1106.0,437.7 L1108.0,437.6 L1110.0,437.6 L1112.0,437.5 L1114.0,437.5 L1116.0,437.5 L1118.0,437.5 L1120.0,437.5 L1122.0,437.5 L1124.0,437.5 L1126.0,437.5 L1128.0,437.5 L1130.0,437.5 L1132.0,437.5 L1134.0,437.5 L1136.0,437.5 L1138.0,437.5 L1140.0,437.5 L1142.0,437.5 L1144.0,437.5 L1146.0,437.5 L1148.0,437.5 L1150.0,437.5 L1152.0,437.5 L1154.0,437.5 L1156.0,437.5 L1158.0,437.5 L1160.0,437.5 L1162.0,437.5 L1164.0,437.5 L1166.0,437.5 L1168.0,437.5 L1170.0,437.6 L1172.0,437.6 L1174.0,437.7 L1176.0,437.9 L1178.0,438.0 L1180.0,438.1 L1182.0,438.3 L1184.0,438.5 L1186.0,438.6 L1188.0,438.8 L1190.0,439.0 L1192.0,439.1 L1194.0,439.3 L1196.0,439.5 L1198.0,439.6 L1199.9,439.8 L1201.9,440.0 L1203.9,440.2 L1205.9,440.4 L1207.9,440.5 L1209.9,440.7 L1211.9,440.9 L1213.9,441.1 L1215.9,441.3 L1217.9,441.5 L1219.9,441.8 L1221.9,442.0 L1223.8,442.2 L1225.8,442.4 L1227.8,442.6 L1229.8,442.9 L1231.8,443.1 L1233.8,443.4 L1235.8,443.6 L1237.8,443.8 L1239.7,444.1 L1241.7,444.3 L1243.7,444.6 L1245.7,444.8 L1247.7,445.1 L1249.7,445.4 L1251.7,445.6 L1253.6,445.9 L1255.6,446.2 L1257.6,446.5 L1259.6,446.8 L1261.6,447.1 L1263.5,447.4 L1265.5,447.7 L1267.5,448.0 L1269.5,448.3 L1271.5,448.6 L1273.4,448.9 L1275.4,449.2 L1277.4,449.5 L1279.4,449.8 L1281.3,450.1 L1283.3,450.4 L1285.3,450.7 L1287.3,451.0 L1289.3,451.3 L1291.2,451.6 L1293.2,451.9 L1295.2,452.2 L1297.2,452.5 L1299.2,452.7 L1301.1,453.0 L1303.1,453.3 L1305.1,453.6 L1307.1,453.9 L1309.1,454.2 L1311.0,454.5 L1313.0,454.8 L1315.0,455.1 L1317.0,455.4 L1319.0,455.7 L1320.9,456.0 L1322.9,456.3 L1324.9,456.5 L1326.9,456.8 L1328.9,457.1 L1330.9,457.3 L1332.8,457.6 L1334.8,457.9 L1336.8,458.1 L1338.8,458.4 L1340.8,458.6 L1342.8,458.9 L1344.8,459.1 L1346.7,459.4 L1348.7,459.6 L1350.7,459.8 L1352.7,460.0 L1354.7,460.2 L1356.7,460.4 L1358.7,460.6 L1360.7,460.8 L1362.7,461.0 L1364.7,461.2 L1366.7,461.4 L1368.6,461.6 L1370.6,461.9 L1372.6,462.1 L1374.6,462.3 L1376.6,462.5 L1378.6,462.7 L1380.6,462.9 L1382.6,463.1 L1384.6,463.3 L1386.6,463.5 L1388.6,463.7 L1390.6,463.9 L1392.5,464.1 L1394.5,464.3 L1396.5,464.5 L1398.5,464.7 L1400.5,464.9 L1402.5,465.1 L1404.5,465.3 L1406.5,465.5 L1408.5,465.8 L1410.4,466.0 L1412.4,466.3 L1414.4,466.5 L1416.4,466.7 L1418.4,467.0 L1420.4,467.2 L1422.4,467.4 L1424.4,467.6 L1426.4,467.9 L1428.3,468.1 L1430.3,468.2 L1432.3,468.4 L1434.3,468.6 L1436.3,468.7 L1438.3,468.9 L1440.3,469.1 L1442.3,469.2 L1444.3,469.4 L1446.3,469.5 L1448.3,469.7 L1450.3,469.9 L1452.3,470.0 L1454.3,470.2 L1456.3,470.3 L1458.3,470.5 L1460.3,470.7 L1462.3,470.8 L1464.3,471.0 L1466.3,471.1 L1468.2,471.3 L1470.2,471.5 L1472.2,471.6 L1474.2,471.8 L1476.2,471.9 L1478.2,472.1 L1480.2,472.2 L1482.2,472.4 L1484.2,472.5 L1486.2,472.6 L1488.2,472.8 L1490.2,472.9 L1492.2,473.1 L1494.2,473.2 L1496.2,473.4 L1498.2,473.5 L1500.2,473.7 L1502.2,473.8 L1504.2,474.0 L1506.2,474.2 L1508.2,474.4 L1510.2,474.6 L1512.1,474.8 L1514.1,475.0 L1516.1,475.2 L1518.1,475.4 L1520.1,475.6 L1522.1,475.7 L1524.1,475.9 L1526.1,476.1 L1528.1,476.3 L1530.1,476.4 L1532.1,476.6 L1534.1,476.7 L1536.1,476.9 L1538.1,477.0 L1540.1,477.2 L1542.1,477.3 L1544.1,477.4 L1546.1,477.6 L1548.0,477.7 L1550.0,477.9 L1552.0,478.0 L1554.0,478.2 L1556.0,478.3 L1558.0,478.5 L1560.0,478.6 L1562.0,478.8 L1564.0,479.0 L1566.0,479.1 L1568.0,479.3 L1570.0,479.4 L1572.0,479.6 L1574.0,479.7 L1576.0,479.9 L1578.0,480.0 L1580.0,480.1 L1582.0,480.2 L1584.0,480.3 L1586.0,480.4 L1588.0,480.5 L1590.0,480.6 L1592.0,480.7 L1594.0,480.8 L1596.0,480.9 L1598.0,481.0 L1600.0,481.1 L1602.0,481.2 L1604.0,481.3 L1606.0,481.4 L1608.0,481.5 L1610.0,481.6 L1612.0,481.7 L1614.0,481.8 L1616.0,481.9 L1618.0,482.0 L1620.0,482.1 L1622.0,482.2 L1624.0,482.3 L1626.0,482.4 L1628.0,482.4 L1630.0,482.5 L1632.0,482.5 L1634.0,482.6 L1636.0,482.6 L1638.0,482.6 L1640.0,482.6 L1642.0,482.6 L1644.0,482.7 L1646.0,482.7 L1648.0,482.7 L1650.0,482.7 L1652.0,482.7 L1654.0,482.8 L1656.0,482.8 L1658.0,482.8 L1660.0,482.8 L1662.0,482.8 L1664.0,482.9 L1666.0,482.9 L1668.0,482.9 L1670.0,482.9 L1672.0,482.9 L1674.0,483.0 L1676.0,483.0 L1678.0,483.0 L1680.0,483.0 L1682.0,483.0 L1684.0,483.0 L1686.0,483.0 L1688.0,483.0 L1690.0,483.0 L1692.0,483.0 L1694.0,483.0 L1696.0,483.0 L1698.0,483.0 L1700.0,483.0 L1702.0,483.0 L1704.0,483.0 L1706.0,483.0 L1708.0,483.0 L1710.0,483.0 L1712.0,483.0 L1714.0,483.0 L1716.0,483.0 L1718.0,483.0 L1720.0,483.0 L1722.0,483.0 L1724.0,483.0 L1726.0,483.0 L1728.0,483.0 L1730.0,483.0 L1732.0,483.0 L1734.0,483.0 L1736.0,482.9 L1738.0,482.8 L1740.0,482.7 L1742.0,482.6 L1744.0,482.4 L1746.0,482.2 L1748.0,482.0 L1750.0,481.9 L1752.0,481.7 L1754.0,481.6 L1756.0,481.5 L1758.0,481.5 L1760.0,481.5 L1762.0,481.4 L1764.0,481.4 L1766.0,481.4 L1768.0,481.4 L1770.0,481.4 L1772.0,481.4 L1774.0,481.3 L1776.0,481.3 L1778.0,481.3 L1780.0,481.3 L1782.0,481.3 L1784.0,481.3 L1786.0,481.3" fill="none" stroke="#DF4A66" stroke-width="3.80" stroke-linejoin="round"/><path d="M1080.0,459.5 L1082.0,459.4 L1084.0,459.3 L1086.0,459.2 L1088.0,459.1 L1090.0,459.0 L1092.0,458.9 L1094.0,458.8 L1096.0,458.6 L1096.5,458.6 M1110.7,457.9 L1112.0,457.8 L1114.0,457.7 L1116.0,457.7 L1118.0,457.6 L1120.0,457.6 L1122.0,457.5 L1124.0,457.5 L1126.0,457.5 L1127.2,457.5 M1141.5,457.5 L1143.0,457.5 L1145.0,457.5 L1147.0,457.5 L1149.0,457.5 L1151.0,457.5 L1153.0,457.6 L1155.0,457.6 L1157.0,457.6 L1158.0,457.6 M1172.3,458.0 L1174.0,458.0 L1176.0,458.1 L1178.0,458.2 L1180.0,458.2 L1182.0,458.3 L1184.0,458.4 L1186.0,458.5 L1188.0,458.7 L1188.8,458.7 M1203.0,459.8 L1204.0,459.9 L1206.0,460.0 L1208.0,460.2 L1210.0,460.3 L1212.0,460.5 L1214.0,460.7 L1216.0,460.9 L1217.9,461.1 L1219.4,461.3 M1233.5,462.8 L1234.9,462.9 L1236.9,463.1 L1238.8,463.3 L1240.8,463.6 L1242.8,463.8 L1244.8,464.0 L1246.8,464.2 L1248.8,464.4 L1249.8,464.5 M1264.0,465.9 L1265.7,466.1 L1267.7,466.3 L1269.7,466.5 L1271.7,466.7 L1273.7,467.0 L1275.7,467.2 L1277.7,467.5 L1279.6,467.7 L1280.3,467.8 M1294.3,469.7 L1295.5,469.9 L1297.5,470.1 L1299.5,470.4 L1301.5,470.6 L1303.5,470.9 L1305.4,471.1 L1307.4,471.4 L1309.4,471.6 L1310.6,471.8 M1324.7,473.4 L1326.3,473.6 L1328.3,473.8 L1330.3,474.0 L1332.3,474.3 L1334.3,474.5 L1336.3,474.7 L1338.3,474.9 L1340.3,475.1 L1341.0,475.2 M1355.2,476.7 L1357.2,476.9 L1359.2,477.0 L1361.2,477.2 L1363.2,477.3 L1365.2,477.5 L1367.2,477.6 L1369.2,477.7 L1371.2,477.8 L1371.6,477.9 M1385.8,478.8 L1387.1,478.9 L1389.1,479.0 L1391.1,479.2 L1393.1,479.4 L1395.1,479.5 L1397.1,479.7 L1399.1,479.9 L1401.1,480.0 L1402.2,480.1 M1416.5,481.2 L1418.1,481.4 L1420.1,481.5 L1422.1,481.6 L1424.1,481.7 L1426.1,481.9 L1428.1,482.0 L1430.1,482.1 L1432.0,482.2 L1432.9,482.3 M1447.2,483.1 L1449.0,483.2 L1451.0,483.4 L1453.0,483.5 L1455.0,483.6 L1457.0,483.8 L1459.0,483.9 L1461.0,484.0 L1463.0,484.2 L1463.6,484.2 M1477.8,485.1 L1479.0,485.2 L1481.0,485.3 L1483.0,485.5 L1485.0,485.6 L1487.0,485.7 L1489.0,485.9 L1491.0,486.0 L1493.0,486.1 L1494.3,486.2 M1508.5,487.2 L1510.0,487.3 L1511.9,487.5 L1513.9,487.6 L1515.9,487.8 L1517.9,487.9 L1519.9,488.1 L1521.9,488.2 L1523.9,488.4 L1524.9,488.4 M1539.1,489.4 L1540.9,489.5 L1542.9,489.6 L1544.9,489.7 L1546.9,489.8 L1548.9,489.9 L1550.9,490.0 L1552.9,490.1 L1554.9,490.2 L1555.6,490.2 M1569.9,490.9 L1570.9,490.9 L1572.9,491.0 L1574.9,491.1 L1576.9,491.2 L1578.9,491.2 L1580.9,491.3 L1582.9,491.4 L1584.9,491.5 L1586.3,491.6 M1600.6,492.1 L1601.9,492.2 L1603.9,492.2 L1605.9,492.3 L1607.9,492.3 L1609.9,492.4 L1611.9,492.5 L1613.9,492.5 L1615.9,492.6 L1617.1,492.6 M1631.4,493.0 L1632.9,493.0 L1634.9,493.0 L1636.9,493.0 L1638.9,493.0 L1640.9,493.0 L1642.9,493.0 L1644.9,493.0 L1646.9,493.0 L1647.9,493.0 M1662.2,493.0 L1663.9,493.0 L1665.9,493.0 L1667.9,493.0 L1670.0,493.0 L1672.0,493.0 L1674.0,493.0 L1676.0,493.0 L1678.0,493.0 L1678.7,493.0 M1693.0,493.0 L1695.0,493.0 L1697.0,493.0 L1699.0,493.0 L1701.0,493.0 L1703.0,493.0 L1705.0,493.0 L1707.0,493.0 L1709.0,493.0 L1709.5,493.0 M1723.8,492.9 L1725.0,492.8 L1727.0,492.8 L1729.0,492.7 L1731.0,492.6 L1733.0,492.5 L1735.0,492.3 L1737.0,492.2 L1739.0,492.1 L1740.3,492.0 M1754.5,491.3 L1756.0,491.3 L1758.0,491.2 L1760.0,491.1 L1762.0,491.1 L1764.0,491.0 L1766.0,491.0 L1768.0,490.9 L1770.0,490.9 L1771.0,490.8" fill="none" stroke="#F5C710" stroke-width="3.80"/><rect x="1053.00" y="95.40" width="759.80" height="446.60" fill="none" stroke="#000" stroke-width="2.20"/><line x1="1034.30" y1="523.90" x2="1053.00" y2="523.90" stroke="#000" stroke-width="2.20"/><text transform="translate(1007.60,523.90) rotate(-90)" font-size="32.0" text-anchor="middle" fill="#000">5</text><line x1="1034.30" y1="464.96" x2="1053.00" y2="464.96" stroke="#000" stroke-width="2.20"/><text transform="translate(1007.60,464.96) rotate(-90)" font-size="32.0" text-anchor="middle" fill="#000">10</text><line x1="1034.30" y1="406.01" x2="1053.00" y2="406.01" stroke="#000" stroke-width="2.20"/><text transform="translate(1007.60,406.01) rotate(-90)" font-size="32.0" text-anchor="middle" fill="#000"></text><line x1="1034.30" y1="347.07" x2="1053.00" y2="347.07" stroke="#000" stroke-width="2.20"/><text transform="translate(1007.60,347.07) rotate(-90)" font-size="32.0" text-anchor="middle" fill="#000">20</text><line x1="1034.30" y1="288.13" x2="1053.00" y2="288.13" stroke="#000" stroke-width="2.20"/><text transform="translate(1007.60,288.13) rotate(-90)" font-size="32.0" text-anchor="middle" fill="#000"></text><line x1="1034.30" y1="229.19" x2="1053.00" y2="229.19" stroke="#000" stroke-width="2.20"/><text transform="translate(1007.60,229.19) rotate(-90)" font-size="32.0" text-anchor="middle" fill="#000">30</text><line x1="1034.30" y1="170.24" x2="1053.00" y2="170.24" stroke="#000" stroke-width="2.20"/><text transform="translate(1007.60,170.24) rotate(-90)" font-size="32.0" text-anchor="middle" fill="#000"></text><line x1="1034.30" y1="111.30" x2="1053.00" y2="111.30" stroke="#000" stroke-width="2.20"/><text transform="translate(1007.60,111.30) rotate(-90)" font-size="32.0" text-anchor="middle" fill="#000">40</text><line x1="1101.00" y1="542.00" x2="1101.00" y2="561.00" stroke="#000" stroke-width="2.20"/><line x1="1202.11" y1="542.00" x2="1202.11" y2="561.00" stroke="#000" stroke-width="2.20"/><line x1="1303.21" y1="542.00" x2="1303.21" y2="561.00" stroke="#000" stroke-width="2.20"/><line x1="1404.32" y1="542.00" x2="1404.32" y2="561.00" stroke="#000" stroke-width="2.20"/><line x1="1505.43" y1="542.00" x2="1505.43" y2="561.00" stroke="#000" stroke-width="2.20"/><line x1="1606.54" y1="542.00" x2="1606.54" y2="561.00" stroke="#000" stroke-width="2.20"/><line x1="1707.64" y1="542.00" x2="1707.64" y2="561.00" stroke="#000" stroke-width="2.20"/><line x1="1808.75" y1="542.00" x2="1808.75" y2="561.00" stroke="#000" stroke-width="2.20"/></g>
<g><path d="M180.0,1072.5 L181.0,1070.7 L181.9,1069.0 L182.9,1067.2 L183.8,1065.5 L184.8,1063.7 L185.7,1062.0 L186.1,1061.4 M191.3,1051.7 L192.0,1050.5 L192.9,1048.8 L193.9,1047.0 L194.9,1045.3 L195.8,1043.5 L196.8,1041.8 L197.4,1040.6 M202.6,1031.0 L203.5,1029.5 L204.4,1027.7 L205.4,1026.0 L206.3,1024.2 L207.3,1022.4 L208.2,1020.7 L208.6,1019.8 M213.1,1010.0 L213.6,1008.8 L214.4,1007.0 L215.1,1005.1 L215.9,1003.3 L216.7,1001.5 L217.5,999.6 L217.9,998.6 M221.9,988.6 L222.3,987.6 L223.0,985.7 L223.7,983.8 L224.3,981.9 L225.0,980.0 L225.6,978.1 L226.0,977.0 M229.4,967.0 L229.8,965.8 L230.5,963.9 L231.2,962.1 L231.9,960.2 L232.7,958.3 L233.4,956.5 L233.8,955.4 M237.8,945.5 L238.2,944.4 L238.9,942.5 L239.6,940.6 L240.3,938.8 L240.9,936.9 L241.6,935.0 L241.9,933.9 M245.1,923.8 L245.5,922.6 L246.2,920.7 L246.8,918.8 L247.4,916.9 L248.1,915.0 L248.8,913.2 L249.2,912.2 M253.8,902.4 L254.3,901.4 L255.2,899.6 L256.1,897.8 L257.0,896.0 L257.9,894.2 L258.8,892.4 L259.4,891.2 M264.6,881.5 L265.3,880.1 L266.3,878.3 L267.3,876.6 L268.2,874.8 L269.2,873.1 L270.2,871.3 L270.7,870.4 M276.4,860.9 L277.5,859.4 L278.7,857.8 L279.9,856.2 L281.1,854.6 L282.3,853.0 L283.6,851.5 L284.4,850.5 M293.4,842.5 L294.6,841.7 L296.3,840.6 L298.0,839.5 L299.7,838.4 L301.3,837.3 L303.0,836.3 L304.7,835.2 L305.8,834.6 M318.2,829.4 L319.4,829.0 L321.2,828.3 L323.1,827.7 L325.0,827.1 L326.9,826.4 L328.8,825.8 L330.7,825.2 L332.7,824.6 L333.2,824.4 M346.6,820.9 L348.1,820.5 L350.1,820.0 L352.0,819.5 L353.9,819.0 L355.9,818.6 L357.8,818.1 L359.8,817.7 L361.7,817.3 L362.3,817.1 M376.1,814.5 L377.5,814.3 L379.4,813.9 L381.4,813.6 L383.4,813.3 L385.3,813.0 L387.3,812.7 L389.3,812.6 L391.3,812.5 L392.3,812.5 M406.6,813.4 L408.2,813.5 L410.2,813.7 L412.2,813.9 L414.2,814.1 L416.2,814.3 L418.1,814.5 L420.1,814.8 L422.1,815.2 L422.8,815.3 M436.5,818.4 L437.7,818.7 L439.6,819.1 L441.6,819.5 L443.5,819.9 L445.5,820.1 L447.5,820.4 L449.5,820.5 L451.5,820.6 L452.6,820.7 M466.9,821.0 L468.5,821.1 L470.5,821.1 L472.5,821.1 L474.5,821.1 L476.5,821.0 L478.5,821.0 L480.5,820.9 L482.5,820.8 L483.4,820.7 M497.6,819.9 L499.4,819.8 L501.4,819.8 L503.4,819.9 L505.4,820.0 L507.4,820.1 L509.4,820.3 L511.4,820.5 L513.4,820.7 L514.1,820.8 M528.2,822.3 L529.3,822.4 L531.3,822.6 L533.3,822.8 L535.3,823.0 L537.2,823.2 L539.2,823.4 L541.2,823.6 L543.2,823.8 L544.5,824.0 M558.7,825.3 L560.1,825.4 L562.1,825.5 L564.1,825.6 L566.1,825.7 L568.1,825.7 L570.1,825.7 L572.1,825.7 L574.1,825.7 L575.2,825.7 M589.5,825.8 L591.1,825.8 L593.1,825.9 L595.1,826.0 L597.1,826.2 L599.1,826.3 L601.1,826.5 L603.1,826.7 L605.1,826.9 L605.9,827.0 M620.1,828.5 L622.0,828.7 L624.0,828.9 L626.0,829.0 L628.0,829.2 L630.0,829.4 L632.0,829.6 L634.0,829.7 L636.0,829.9 L636.4,830.0 M650.6,831.4 L651.9,831.5 L653.8,831.8 L655.8,832.2 L657.8,832.5 L659.7,832.9 L661.7,833.2 L663.7,833.6 L665.6,834.0 L666.6,834.2 M680.2,837.4 L681.2,837.7 L683.1,838.4 L684.9,839.0 L686.8,839.7 L688.7,840.4 L690.6,841.1 L692.5,841.8 L694.3,842.5 L695.0,842.7 M707.6,847.6 L709.3,848.2 L711.1,849.0 L713.0,849.7 L714.8,850.4 L716.7,851.2 L718.6,851.9 L720.4,852.6 L722.2,853.2 M735.5,857.0 L736.7,857.3 L738.7,857.8 L740.6,858.2 L742.6,858.7 L744.5,859.2 L746.5,859.6 L748.4,860.0 L750.4,860.4 L751.2,860.5 M765.2,862.7 L766.2,862.9 L768.2,863.1 L770.2,863.4 L772.1,863.7 L774.1,864.0 L776.1,864.3 L778.1,864.5 L780.1,864.8 L781.4,865.0 M795.5,866.8 L796.9,867.0 L798.9,867.2 L800.9,867.5 L802.9,867.8 L804.9,868.0 L806.9,868.3 L808.8,868.6 L810.8,868.9 L811.7,869.0 M825.7,871.1 L827.6,871.4 L829.6,871.8 L831.5,872.2 L833.4,872.7 L835.3,873.3 L837.2,874.0 L839.1,874.7 L841.0,875.4 L841.0,875.4 M853.5,880.4 L854.9,881.0 L856.7,881.8 L858.5,882.6 L860.4,883.4 L862.2,884.3 L863.9,885.2 L865.7,886.1 L867.3,886.9" fill="none" stroke="#28E2E5" stroke-width="3.80"/><path d="M181.5,1085.0 L182.4,1083.2 L183.3,1081.4 L184.2,1079.7 L185.2,1077.9 L186.1,1076.1 L187.0,1074.3 L187.9,1072.5 L188.8,1070.8 L189.7,1069.0 L190.6,1067.2 L191.6,1065.4 L192.5,1063.7 L193.4,1061.9 L194.3,1060.1 L195.2,1058.3 L196.1,1056.5 L197.0,1054.7 L197.9,1053.0 L198.9,1051.2 L199.8,1049.4 L200.7,1047.6 L201.6,1045.8 L202.5,1044.1 L203.4,1042.3 L204.3,1040.5 L205.2,1038.7 L206.0,1036.9 L206.9,1035.1 L207.7,1033.3 L208.6,1031.4 L209.4,1029.6 L210.2,1027.8 L211.0,1026.0 L211.8,1024.1 L212.6,1022.3 L213.4,1020.5 L214.2,1018.6 L215.0,1016.8 L215.8,1015.0 L216.6,1013.1 L217.4,1011.3 L218.2,1009.4 L219.0,1007.6 L219.7,1005.8 L220.5,1003.9 L221.3,1002.1 L222.1,1000.2 L222.8,998.4 L223.6,996.5 L224.4,994.7 L225.1,992.8 L225.9,991.0 L226.7,989.2 L227.5,987.3 L228.3,985.5 L229.1,983.7 L229.9,981.9 L230.8,980.0 L231.6,978.2 L232.5,976.4 L233.3,974.6 L234.2,972.8 L235.0,971.0 L235.8,969.1 L236.5,967.3 L237.3,965.4 L238.0,963.5 L238.7,961.7 L239.4,959.8 L240.1,957.9 L240.8,956.1 L241.5,954.2 L242.2,952.3 L242.9,950.4 L243.6,948.6 L244.4,946.7 L245.1,944.9 L245.9,943.0 L246.7,941.2 L247.4,939.3 L248.2,937.5 L249.0,935.7 L249.9,933.9 L250.8,932.1 L251.7,930.3 L252.6,928.5 L253.6,926.8 L254.5,925.0 L255.5,923.3 L256.5,921.5 L257.4,919.8 L258.4,918.0 L259.4,916.3 L260.3,914.5 L261.3,912.8 L262.3,911.0 L263.3,909.3 L264.3,907.5 L265.3,905.8 L266.3,904.1 L267.3,902.4 L268.4,900.8 L269.6,899.2 L270.8,897.6 L272.1,896.1 L273.4,894.6 L274.8,893.1 L276.2,891.6 L277.5,890.2 L278.9,888.8 L280.3,887.3 L281.7,885.9 L283.1,884.5 L284.6,883.1 L286.0,881.7 L287.4,880.3 L288.8,878.9 L290.3,877.5 L291.7,876.1 L293.2,874.8 L294.8,873.6 L296.4,872.4 L298.0,871.3 L299.7,870.2 L301.4,869.2 L303.1,868.1 L304.8,867.1 L306.6,866.1 L308.3,865.2 L310.0,864.2 L311.8,863.2 L313.6,862.3 L315.3,861.4 L317.2,860.6 L319.0,860.0 L320.9,859.4 L322.8,858.8 L324.7,858.4 L326.7,857.9 L328.6,857.5 L330.6,857.1 L332.6,856.7 L334.5,856.3 L336.5,855.9 L338.4,855.4 L340.4,855.0 L342.3,854.6 L344.3,854.2 L346.3,853.8 L348.2,853.4 L350.2,852.9 L352.1,852.5 L354.1,852.1 L356.0,851.6 L358.0,851.1 L359.9,850.6 L361.8,850.2 L363.8,849.7 L365.7,849.2 L367.7,848.7 L369.6,848.2 L371.6,847.8 L373.5,847.4 L375.5,847.0 L377.4,846.6 L379.4,846.3 L381.4,846.1 L383.4,845.9 L385.4,845.7 L387.3,845.6 L389.3,845.4 L391.3,845.3 L393.3,845.2 L395.3,845.1 L397.3,845.0 L399.3,844.9 L401.3,845.0 L403.3,845.1 L405.2,845.4 L407.2,845.7 L409.1,846.0 L411.1,846.4 L413.1,846.8 L415.0,847.3 L417.0,847.7 L418.9,848.1 L420.9,848.5 L422.8,849.0 L424.8,849.4 L426.7,849.8 L428.7,850.2 L430.7,850.6 L432.6,851.0 L434.6,851.4 L436.5,851.8 L438.5,852.2 L440.5,852.6 L442.4,853.0 L444.4,853.4 L446.4,853.7 L448.3,854.0 L450.3,854.3 L452.3,854.5 L454.3,854.6 L456.2,854.7 L458.2,854.6 L460.2,854.6 L462.2,854.5 L464.2,854.4 L466.2,854.3 L468.2,854.2 L470.2,854.1 L472.2,854.0 L474.2,853.9 L476.2,853.7 L478.2,853.6 L480.2,853.4 L482.2,853.3 L484.2,853.1 L486.2,852.9 L488.2,852.7 L490.1,852.5 L492.1,852.3 L494.1,852.1 L496.1,851.9 L498.1,851.8 L500.1,851.7 L502.1,851.6 L504.1,851.6 L506.1,851.6 L508.1,851.7 L510.1,851.8 L512.1,851.9 L514.1,852.1 L516.1,852.2 L518.0,852.4 L520.0,852.6 L522.0,852.8 L524.0,853.0 L526.0,853.2 L528.0,853.5 L530.0,853.7 L532.0,853.9 L533.9,854.2 L535.9,854.4 L537.9,854.6 L539.9,854.9 L541.9,855.1 L543.9,855.3 L545.9,855.4 L547.9,855.6 L549.9,855.7 L551.9,855.8 L553.9,855.9 L555.9,856.0 L557.9,856.1 L559.9,856.2 L561.9,856.3 L563.9,856.4 L565.9,856.5 L567.8,856.6 L569.8,856.7 L571.8,856.7 L573.8,856.8 L575.8,856.8 L577.8,856.8 L579.8,856.8 L581.8,856.8 L583.8,856.9 L585.8,856.9 L587.8,856.9 L589.8,856.9 L591.8,856.9 L593.8,857.0 L595.8,857.1 L597.8,857.2 L599.8,857.3 L601.8,857.5 L603.8,857.7 L605.8,858.0 L607.7,858.3 L609.7,858.7 L611.7,859.0 L613.7,859.3 L615.6,859.7 L617.6,860.0 L619.6,860.3 L621.6,860.6 L623.5,860.9 L625.5,861.1 L627.5,861.4 L629.5,861.5 L631.5,861.7 L633.5,861.9 L635.5,862.1 L637.5,862.2 L639.5,862.4 L641.5,862.5 L643.4,862.7 L645.4,862.8 L647.4,863.0 L649.4,863.1 L651.4,863.3 L653.4,863.5 L655.4,863.7 L657.4,864.0 L659.3,864.3 L661.3,864.7 L663.3,865.0 L665.2,865.4 L667.2,865.8 L669.1,866.3 L671.1,866.8 L673.0,867.2 L674.9,867.8 L676.8,868.4 L678.7,869.0 L680.6,869.7 L682.5,870.3 L684.4,871.0 L686.3,871.7 L688.1,872.4 L690.0,873.1 L691.9,873.8 L693.8,874.4 L695.7,875.1 L697.6,875.7 L699.5,876.3 L701.4,876.9 L703.3,877.5 L705.2,878.1 L707.1,878.6 L709.0,879.2 L711.0,879.8 L712.9,880.4 L714.8,880.9 L716.7,881.5 L718.6,882.0 L720.6,882.6 L722.5,883.1 L724.4,883.6 L726.4,884.1 L728.3,884.6 L730.3,885.1 L732.2,885.5 L734.1,886.0 L736.1,886.5 L738.0,887.0 L740.0,887.5 L741.9,887.9 L743.9,888.3 L745.8,888.7 L747.8,889.1 L749.8,889.4 L751.7,889.7 L753.7,890.0 L755.7,890.4 L757.7,890.6 L759.6,890.9 L761.6,891.2 L763.6,891.5 L765.6,891.8 L767.6,892.1 L769.5,892.3 L771.5,892.6 L773.5,892.8 L775.5,893.0 L777.5,893.2 L779.5,893.4 L781.5,893.6 L783.5,893.8 L785.5,894.0 L787.4,894.2 L789.4,894.4 L791.4,894.6 L793.4,894.8 L795.4,895.0 L797.4,895.2 L799.4,895.4 L801.4,895.6 L803.4,895.8 L805.4,896.0 L807.4,896.2 L809.3,896.4 L811.3,896.6 L813.3,896.8 L815.3,897.1 L817.3,897.3 L819.3,897.5 L821.3,897.8 L823.2,898.1 L825.2,898.4 L827.2,898.7 L829.2,899.0 L831.1,899.3 L833.1,899.7 L835.1,900.1 L837.0,900.5 L838.9,901.0 L840.8,901.6 L842.7,902.2 L844.5,902.9 L846.4,903.7 L848.2,904.5 L850.0,905.4 L851.8,906.2 L853.6,907.1 L855.4,908.0 L857.2,908.9 L858.9,909.9 L860.7,910.9 L862.4,911.9 L864.1,913.0 L865.7,914.1 L867.4,915.1 L869.1,916.2 L870.8,917.3 L872.5,918.4 L874.2,919.5 L875.0,920.0" fill="none" stroke="#1F8CE6" stroke-width="3.80" stroke-linejoin="round"/><path d="M181.3,1098.7 L182.5,1097.2 L183.7,1095.6 L184.9,1094.0 L186.1,1092.4 L187.3,1090.8 L188.5,1089.2 L189.2,1088.3 M196.1,1079.2 L196.9,1078.0 L198.0,1076.3 L199.1,1074.6 L200.2,1072.9 L201.2,1071.2 L202.3,1069.5 L203.0,1068.3 M208.7,1058.8 L209.5,1057.5 L210.5,1055.8 L211.5,1054.1 L212.5,1052.3 L213.5,1050.6 L214.5,1048.8 L215.1,1047.8 M220.4,1038.2 L221.3,1036.6 L222.3,1034.8 L223.2,1033.1 L224.2,1031.3 L225.1,1029.6 L226.1,1027.8 L226.4,1027.1 M231.3,1017.3 L231.9,1016.2 L232.8,1014.4 L233.7,1012.6 L234.6,1010.8 L235.4,1009.0 L236.3,1007.1 L236.8,1006.0 M240.5,996.0 L240.8,995.0 L241.5,993.1 L242.1,991.2 L242.7,989.3 L243.4,987.4 L244.0,985.5 L244.4,984.4 M248.0,974.4 L248.4,973.3 L249.2,971.4 L249.9,969.6 L250.7,967.7 L251.6,965.9 L252.4,964.1 L252.9,963.0 M257.6,953.2 L258.6,951.6 L259.7,949.9 L260.8,948.2 L262.0,946.6 L263.1,945.0 L264.3,943.4 L265.0,942.5 M272.1,933.5 L273.1,932.5 L274.5,931.1 L275.9,929.7 L277.4,928.3 L278.8,927.0 L280.3,925.7 L281.8,924.3 L282.2,924.0 M291.6,916.3 L292.7,915.6 L294.4,914.5 L296.1,913.6 L297.9,912.6 L299.7,911.8 L301.5,910.9 L303.3,910.1 L305.0,909.3 M317.2,903.9 L318.9,903.3 L320.8,902.7 L322.7,902.1 L324.6,901.6 L326.5,901.1 L328.5,900.6 L330.4,900.1 L332.4,899.7 L332.6,899.6 M346.3,896.6 L348.0,896.2 L350.0,895.8 L351.9,895.5 L353.9,895.1 L355.9,894.7 L357.9,894.4 L359.8,894.0 L361.8,893.6 L362.2,893.6 M376.1,891.2 L377.6,891.0 L379.6,890.8 L381.6,890.6 L383.6,890.5 L385.6,890.4 L387.6,890.3 L389.6,890.2 L391.6,890.1 L392.5,890.0 M406.8,890.3 L408.5,890.5 L410.5,890.8 L412.4,891.0 L414.4,891.3 L416.4,891.6 L418.4,892.0 L420.4,892.3 L422.3,892.6 L423.0,892.7 M436.9,894.8 L438.2,895.0 L440.1,895.3 L442.1,895.6 L444.1,895.9 L446.1,896.2 L448.1,896.5 L450.0,896.8 L452.0,897.1 L453.1,897.2 M467.4,897.3 L469.0,897.2 L470.9,897.1 L472.9,896.9 L474.9,896.8 L476.9,896.6 L478.9,896.5 L480.9,896.4 L482.9,896.3 L483.8,896.2 M498.1,895.6 L499.9,895.5 L501.9,895.4 L503.9,895.4 L505.9,895.3 L507.9,895.3 L509.9,895.3 L511.9,895.3 L513.9,895.4 L514.6,895.4 M528.7,896.8 L529.9,896.9 L531.9,897.1 L533.8,897.3 L535.8,897.5 L537.8,897.7 L539.8,897.9 L541.8,898.1 L543.8,898.3 L545.1,898.4 M559.3,899.2 L560.8,899.3 L562.8,899.4 L564.8,899.5 L566.8,899.6 L568.8,899.7 L570.8,899.8 L572.8,899.9 L574.8,899.9 L575.8,900.0 M590.1,900.0 L591.8,900.0 L593.8,900.0 L595.8,900.0 L597.8,900.0 L599.8,900.1 L601.8,900.2 L603.8,900.3 L605.8,900.4 L606.6,900.5 M620.7,902.2 L621.7,902.3 L623.7,902.6 L625.7,902.9 L627.7,903.1 L629.6,903.3 L631.6,903.6 L633.6,903.8 L635.6,904.0 L637.0,904.1 M651.2,905.4 L652.6,905.5 L654.6,905.7 L656.6,905.9 L658.5,906.1 L660.5,906.4 L662.5,906.7 L664.5,907.1 L666.4,907.5 L667.3,907.7 M681.0,910.7 L682.0,911.0 L684.0,911.5 L685.9,911.9 L687.9,912.4 L689.8,913.0 L691.7,913.5 L693.6,914.1 L695.6,914.7 L696.4,914.9 M709.6,919.0 L710.9,919.4 L712.8,919.9 L714.7,920.4 L716.7,920.9 L718.6,921.4 L720.6,921.8 L722.5,922.3 L724.5,922.7 L725.2,922.9 M738.9,925.9 L740.1,926.1 L742.1,926.5 L744.1,926.8 L746.0,927.2 L748.0,927.5 L750.0,927.8 L752.0,928.1 L753.9,928.4 L754.9,928.6 M769.0,930.5 L770.8,930.7 L772.8,930.9 L774.8,931.1 L776.8,931.3 L778.8,931.4 L780.8,931.6 L782.8,931.8 L784.8,931.9 L785.4,932.0 M799.6,933.2 L800.7,933.3 L802.7,933.5 L804.7,933.7 L806.7,933.9 L808.7,934.1 L810.7,934.3 L812.7,934.5 L814.7,934.7 L815.9,934.9 M829.8,937.2 L831.4,937.6 L833.3,938.2 L835.2,938.7 L837.1,939.3 L839.1,939.8 L841.0,940.4 L842.9,941.0 L844.8,941.5 L845.1,941.6 M858.5,945.3 L859.3,945.5 L860.3,945.7 L861.2,946.0" fill="none" stroke="#28E2E5" stroke-width="3.80"/><path d="M181.3,1112.5 L182.4,1110.9 L183.6,1109.2 L184.7,1107.6 L185.9,1106.0 L187.1,1104.4 L188.2,1102.7 L189.4,1101.1 L190.6,1099.5 L191.7,1097.8 L192.9,1096.2 L194.0,1094.6 L195.2,1092.9 L196.3,1091.3 L197.5,1089.7 L198.6,1088.0 L199.7,1086.3 L200.8,1084.7 L201.9,1083.0 L203.0,1081.3 L204.1,1079.7 L205.1,1078.0 L206.2,1076.2 L207.2,1074.5 L208.2,1072.8 L209.2,1071.0 L210.1,1069.3 L211.1,1067.5 L212.0,1065.8 L213.0,1064.0 L213.9,1062.2 L214.9,1060.5 L215.8,1058.7 L216.7,1056.9 L217.6,1055.2 L218.6,1053.4 L219.5,1051.6 L220.4,1049.8 L221.3,1048.0 L222.2,1046.2 L223.1,1044.4 L224.0,1042.7 L224.8,1040.9 L225.7,1039.1 L226.6,1037.3 L227.5,1035.5 L228.4,1033.7 L229.3,1031.9 L230.1,1030.1 L231.0,1028.3 L231.9,1026.5 L232.7,1024.7 L233.6,1022.9 L234.4,1021.1 L235.3,1019.2 L236.2,1017.4 L237.0,1015.6 L237.9,1013.8 L238.8,1012.0 L239.7,1010.2 L240.5,1008.4 L241.4,1006.7 L242.3,1004.9 L243.2,1003.1 L244.1,1001.3 L245.0,999.5 L245.9,997.7 L246.9,996.0 L247.8,994.2 L248.8,992.5 L249.9,990.8 L250.9,989.1 L252.0,987.4 L253.1,985.8 L254.3,984.1 L255.4,982.5 L256.5,980.8 L257.7,979.2 L258.9,977.5 L260.0,975.9 L261.2,974.3 L262.4,972.7 L263.6,971.1 L264.8,969.5 L266.0,967.9 L267.2,966.3 L268.5,964.7 L269.7,963.2 L270.9,961.6 L272.2,960.1 L273.5,958.6 L274.9,957.1 L276.2,955.6 L277.6,954.1 L279.0,952.7 L280.3,951.2 L281.7,949.8 L283.1,948.3 L284.5,946.9 L285.9,945.5 L287.3,944.1 L288.7,942.7 L290.2,941.4 L291.8,940.2 L293.4,939.2 L295.1,938.2 L296.9,937.3 L298.7,936.4 L300.5,935.6 L302.3,934.8 L304.2,934.1 L306.1,933.4 L308.0,932.8 L309.9,932.2 L311.8,931.6 L313.7,931.0 L315.6,930.5 L317.5,929.9 L319.5,929.4 L321.4,929.0 L323.4,928.5 L325.3,928.1 L327.3,927.7 L329.3,927.3 L331.2,927.0 L333.2,926.6 L335.2,926.2 L337.1,925.8 L339.1,925.4 L341.0,925.0 L343.0,924.6 L345.0,924.3 L346.9,923.9 L348.9,923.5 L350.9,923.1 L352.8,922.7 L354.8,922.3 L356.7,921.9 L358.7,921.6 L360.7,921.2 L362.7,920.9 L364.6,920.6 L366.6,920.3 L368.6,920.0 L370.6,919.7 L372.5,919.4 L374.5,919.1 L376.5,918.8 L378.5,918.5 L380.5,918.3 L382.4,918.0 L384.4,917.8 L386.4,917.7 L388.4,917.6 L390.4,917.6 L392.4,917.5 L394.4,917.5 L396.4,917.5 L398.4,917.5 L400.4,917.5 L402.4,917.5 L404.4,917.6 L406.4,917.6 L408.4,917.8 L410.4,917.9 L412.3,918.2 L414.3,918.5 L416.3,918.8 L418.3,919.2 L420.2,919.5 L422.2,919.9 L424.1,920.3 L426.1,920.7 L428.1,921.1 L430.0,921.5 L432.0,921.9 L434.0,922.2 L435.9,922.6 L437.9,922.9 L439.9,923.2 L441.9,923.5 L443.8,923.8 L445.8,924.1 L447.8,924.4 L449.8,924.6 L451.8,924.8 L453.7,925.0 L455.7,925.1 L457.7,925.1 L459.7,925.0 L461.7,924.9 L463.7,924.8 L465.7,924.7 L467.7,924.5 L469.7,924.4 L471.7,924.2 L473.7,924.1 L475.7,923.9 L477.7,923.8 L479.7,923.6 L481.6,923.5 L483.6,923.3 L485.6,923.2 L487.6,923.0 L489.6,922.9 L491.6,922.8 L493.6,922.6 L495.6,922.5 L497.6,922.4 L499.6,922.3 L501.6,922.3 L503.6,922.4 L505.6,922.4 L507.6,922.6 L509.6,922.7 L511.6,922.9 L513.6,923.1 L515.5,923.3 L517.5,923.5 L519.5,923.7 L521.5,923.9 L523.5,924.1 L525.5,924.3 L527.5,924.5 L529.5,924.7 L531.5,924.9 L533.5,925.1 L535.5,925.3 L537.4,925.5 L539.4,925.7 L541.4,925.9 L543.4,926.0 L545.4,926.2 L547.4,926.3 L549.4,926.4 L551.4,926.6 L553.4,926.7 L555.4,926.8 L557.4,926.9 L559.4,927.0 L561.4,927.1 L563.4,927.1 L565.4,927.2 L567.4,927.3 L569.4,927.3 L571.4,927.2 L573.4,927.2 L575.4,927.1 L577.4,927.0 L579.4,926.8 L581.4,926.7 L583.4,926.6 L585.4,926.4 L587.4,926.3 L589.3,926.2 L591.3,926.2 L593.3,926.1 L595.3,926.2 L597.3,926.3 L599.3,926.5 L601.3,926.7 L603.3,927.0 L605.2,927.3 L607.2,927.6 L609.2,927.9 L611.2,928.2 L613.1,928.5 L615.1,928.7 L617.1,929.0 L619.1,929.3 L621.1,929.5 L623.1,929.8 L625.1,930.0 L627.0,930.2 L629.0,930.4 L631.0,930.6 L633.0,930.8 L635.0,931.0 L637.0,931.2 L639.0,931.4 L641.0,931.6 L643.0,931.8 L645.0,931.9 L647.0,932.1 L649.0,932.3 L650.9,932.4 L652.9,932.6 L654.9,932.7 L656.9,932.8 L658.9,933.0 L660.9,933.1 L662.9,933.3 L664.9,933.5 L666.9,933.7 L668.9,934.0 L670.8,934.4 L672.8,934.8 L674.7,935.3 L676.6,935.8 L678.5,936.3 L680.5,936.9 L682.4,937.5 L684.3,938.0 L686.2,938.6 L688.1,939.2 L690.0,939.7 L692.0,940.3 L693.9,940.8 L695.8,941.4 L697.7,941.9 L699.7,942.4 L701.6,942.9 L703.6,943.4 L705.5,943.9 L707.4,944.4 L709.4,944.8 L711.3,945.3 L713.3,945.8 L715.2,946.3 L717.2,946.7 L719.1,947.2 L721.1,947.6 L723.0,948.1 L725.0,948.5 L726.9,948.9 L728.9,949.3 L730.8,949.7 L732.8,950.1 L734.8,950.5 L736.7,950.8 L738.7,951.2 L740.7,951.6 L742.6,951.9 L744.6,952.2 L746.6,952.5 L748.6,952.8 L750.6,953.0 L752.5,953.2 L754.5,953.4 L756.5,953.7 L758.5,953.9 L760.5,954.0 L762.5,954.2 L764.5,954.4 L766.5,954.6 L768.5,954.8 L770.5,955.0 L772.5,955.2 L774.4,955.3 L776.4,955.5 L778.4,955.7 L780.4,955.8 L782.4,956.0 L784.4,956.2 L786.4,956.3 L788.4,956.5 L790.4,956.6 L792.4,956.8 L794.4,956.9 L796.4,957.1 L798.4,957.2 L800.4,957.4 L802.4,957.5 L804.4,957.7 L806.4,957.8 L808.4,957.9 L810.4,958.1 L812.4,958.2 L814.3,958.4 L816.3,958.6 L818.3,958.7 L820.3,959.0 L822.3,959.2 L824.3,959.5 L826.3,959.8 L828.2,960.1 L830.2,960.4 L832.2,960.8 L834.1,961.1 L836.1,961.5 L838.0,961.9 L840.0,962.4 L841.9,963.0 L843.8,963.6 L845.7,964.2 L847.5,964.9 L849.4,965.6 L851.3,966.4 L853.1,967.1 L855.0,967.9 L856.8,968.6 L858.7,969.4 L860.5,970.2 L862.3,971.1 L864.1,971.9 L865.9,972.7 L867.8,973.6 L869.6,974.4 L871.4,975.3 L873.2,976.1 L875.0,977.0" fill="none" stroke="#1F8CE6" stroke-width="3.80" stroke-linejoin="round"/><path d="M181.3,1123.7 L182.6,1122.2 L183.9,1120.7 L185.2,1119.2 L186.5,1117.7 L187.9,1116.2 L189.2,1114.7 L190.1,1113.7 M197.7,1104.9 L199.0,1103.4 L200.2,1101.8 L201.4,1100.2 L202.6,1098.6 L203.7,1096.9 L204.8,1095.3 L205.4,1094.3 M211.6,1085.0 L212.6,1083.6 L213.6,1081.9 L214.7,1080.2 L215.7,1078.5 L216.7,1076.7 L217.7,1075.0 L218.3,1074.0 M223.6,1064.4 L224.6,1062.8 L225.5,1061.0 L226.4,1059.2 L227.3,1057.5 L228.2,1055.7 L229.1,1053.9 L229.4,1053.2 M233.9,1043.4 L234.5,1042.0 L235.4,1040.2 L236.2,1038.4 L237.0,1036.6 L237.9,1034.8 L238.7,1032.9 L239.1,1032.1 M244.2,1022.4 L244.7,1021.4 L245.7,1019.6 L246.6,1017.9 L247.6,1016.1 L248.5,1014.4 L249.5,1012.6 L250.2,1011.2 M255.6,1001.7 L256.4,1000.4 L257.4,998.7 L258.5,997.0 L259.5,995.3 L260.6,993.6 L261.6,991.9 L262.4,990.7 M269.2,981.7 L270.1,980.9 L271.5,979.6 L273.0,978.3 L274.6,977.0 L276.2,975.8 L277.7,974.5 L279.3,973.3 L280.1,972.7 M290.4,965.5 L291.6,964.9 L293.4,964.1 L295.2,963.3 L297.1,962.6 L299.0,961.9 L300.9,961.2 L302.7,960.5 L304.6,959.9 L304.9,959.8 M318.0,955.8 L320.0,955.3 L321.9,954.9 L323.9,954.5 L325.8,954.1 L327.8,953.7 L329.8,953.3 L331.7,952.9 L333.7,952.5 L333.9,952.5 M347.8,950.0 L349.4,949.7 L351.4,949.3 L353.4,949.0 L355.4,948.7 L357.3,948.4 L359.3,948.0 L361.3,947.7 L363.3,947.4 L363.9,947.3 M377.9,945.5 L379.1,945.3 L381.1,945.1 L383.1,944.9 L385.1,944.7 L387.1,944.6 L389.1,944.4 L391.1,944.3 L393.1,944.2 L394.3,944.2 M408.5,945.1 L410.0,945.3 L412.0,945.5 L414.0,945.7 L416.0,945.9 L418.0,946.1 L420.0,946.3 L422.0,946.5 L424.0,946.7 L424.9,946.8 M438.9,948.6 L440.8,948.9 L442.8,949.2 L444.8,949.5 L446.8,949.7 L448.8,950.0 L450.8,950.3 L452.7,950.5 L454.7,950.7 L455.2,950.7 M469.5,950.6 L470.7,950.6 L472.7,950.5 L474.7,950.4 L476.7,950.3 L478.7,950.2 L480.7,950.1 L482.7,950.0 L484.7,949.9 L485.9,949.9 M500.2,949.3 L501.7,949.2 L503.7,949.1 L505.7,949.1 L507.7,949.0 L509.7,949.0 L511.7,949.0 L513.7,949.0 L515.7,949.1 L516.7,949.2 M530.9,950.3 L532.7,950.4 L534.7,950.6 L536.7,950.7 L538.6,950.9 L540.6,951.0 L542.6,951.1 L544.6,951.2 L546.6,951.2 L547.3,951.2 M561.6,951.3 L562.7,951.3 L564.7,951.3 L566.7,951.3 L568.7,951.3 L570.7,951.3 L572.7,951.3 L574.7,951.4 L576.7,951.4 L578.1,951.5 M592.4,952.1 L593.7,952.1 L595.7,952.2 L597.7,952.3 L599.7,952.4 L601.7,952.6 L603.7,952.7 L605.7,952.9 L607.7,953.1 L608.8,953.2 M623.0,954.6 L624.6,954.8 L626.6,955.0 L628.6,955.2 L630.6,955.3 L632.6,955.5 L634.6,955.6 L636.6,955.7 L638.6,955.9 L639.4,955.9 M653.7,956.6 L655.5,956.8 L657.5,956.9 L659.5,957.1 L661.5,957.3 L663.5,957.6 L665.5,958.0 L667.4,958.3 L669.4,958.7 L669.9,958.8 M683.6,961.7 L685.1,962.0 L687.0,962.4 L689.0,962.9 L690.9,963.3 L692.9,963.7 L694.8,964.2 L696.8,964.6 L698.7,965.1 L699.4,965.2 M713.0,968.3 L714.4,968.6 L716.3,969.0 L718.3,969.4 L720.2,969.8 L722.2,970.3 L724.2,970.7 L726.1,971.1 L728.1,971.5 L728.9,971.6 M742.7,974.4 L743.8,974.6 L745.8,974.9 L747.8,975.1 L749.7,975.4 L751.7,975.7 L753.7,975.9 L755.7,976.2 L757.7,976.4 L758.9,976.6 M773.0,978.2 L774.6,978.3 L776.6,978.4 L778.6,978.6 L780.6,978.7 L782.6,978.9 L784.6,979.0 L786.6,979.2 L788.6,979.3 L789.4,979.4 M803.6,980.4 L805.5,980.6 L807.5,980.7 L809.5,980.9 L811.5,981.1 L813.5,981.2 L815.5,981.4 L817.5,981.6 L819.5,981.7 L820.0,981.8 M833.9,984.1 L835.2,984.4 L837.1,985.0 L839.1,985.5 L841.0,986.1 L842.9,986.6 L844.8,987.2 L846.8,987.7 L848.7,988.3 L849.3,988.5 M862.5,992.5 L863.0,992.7 L864.0,993.0" fill="none" stroke="#28E2E5" stroke-width="3.80"/><path d="M180.0,1135.0 L181.3,1133.5 L182.6,1132.0 L183.9,1130.4 L185.2,1128.9 L186.5,1127.4 L187.8,1125.9 L189.1,1124.4 L190.4,1122.8 L191.7,1121.3 L193.0,1119.8 L194.3,1118.3 L195.6,1116.8 L196.9,1115.3 L198.2,1113.7 L199.6,1112.2 L200.9,1110.7 L202.2,1109.2 L203.5,1107.7 L204.8,1106.1 L206.1,1104.6 L207.3,1103.1 L208.6,1101.5 L209.8,1099.9 L210.9,1098.3 L212.1,1096.7 L213.2,1095.0 L214.3,1093.3 L215.3,1091.6 L216.4,1090.0 L217.5,1088.3 L218.6,1086.6 L219.7,1084.9 L220.9,1083.3 L222.0,1081.6 L223.1,1080.0 L224.3,1078.4 L225.5,1076.8 L226.7,1075.2 L227.9,1073.6 L229.1,1072.0 L230.3,1070.4 L231.4,1068.7 L232.6,1067.1 L233.7,1065.4 L234.8,1063.7 L235.8,1062.0 L236.8,1060.3 L237.8,1058.6 L238.8,1056.9 L239.8,1055.1 L240.8,1053.4 L241.8,1051.7 L242.8,1049.9 L243.9,1048.2 L244.9,1046.5 L246.0,1044.8 L247.1,1043.1 L248.2,1041.5 L249.3,1039.8 L250.4,1038.2 L251.5,1036.5 L252.7,1034.9 L253.9,1033.3 L255.1,1031.7 L256.3,1030.1 L257.6,1028.5 L258.9,1027.0 L260.2,1025.5 L261.6,1024.1 L262.9,1022.6 L264.3,1021.1 L265.7,1019.7 L267.1,1018.3 L268.5,1016.9 L269.9,1015.5 L271.4,1014.1 L272.9,1012.8 L274.4,1011.5 L276.0,1010.3 L277.5,1009.0 L279.1,1007.7 L280.6,1006.5 L282.2,1005.2 L283.8,1004.0 L285.3,1002.7 L286.9,1001.5 L288.5,1000.3 L290.1,999.1 L291.7,997.9 L293.3,996.8 L295.0,995.8 L296.8,994.9 L298.6,994.1 L300.4,993.4 L302.3,992.7 L304.2,992.1 L306.1,991.5 L308.0,990.8 L309.9,990.2 L311.8,989.6 L313.7,989.1 L315.6,988.5 L317.6,988.0 L319.5,987.5 L321.4,987.1 L323.4,986.7 L325.4,986.4 L327.4,986.2 L329.3,985.9 L331.3,985.7 L333.3,985.4 L335.3,985.2 L337.3,985.0 L339.3,984.7 L341.3,984.5 L343.2,984.2 L345.2,984.0 L347.2,983.7 L349.2,983.4 L351.2,983.1 L353.1,982.8 L355.1,982.5 L357.1,982.1 L359.1,981.8 L361.0,981.5 L363.0,981.2 L365.0,980.8 L367.0,980.5 L368.9,980.2 L370.9,979.9 L372.9,979.6 L374.9,979.3 L376.9,979.1 L378.9,979.0 L380.8,978.9 L382.8,978.8 L384.8,978.8 L386.8,978.8 L388.8,978.8 L390.8,978.8 L392.8,978.8 L394.8,978.8 L396.8,978.8 L398.8,978.8 L400.8,978.8 L402.9,978.8 L404.9,978.8 L406.9,978.8 L408.9,978.8 L410.8,978.9 L412.8,979.0 L414.8,979.1 L416.8,979.3 L418.8,979.6 L420.8,979.9 L422.7,980.3 L424.7,980.6 L426.7,981.0 L428.6,981.4 L430.6,981.7 L432.6,982.1 L434.5,982.5 L436.5,982.8 L438.5,983.2 L440.4,983.5 L442.4,983.8 L444.4,984.0 L446.4,984.1 L448.3,984.1 L450.3,984.1 L452.3,984.0 L454.3,983.9 L456.3,983.8 L458.3,983.7 L460.3,983.6 L462.3,983.4 L464.3,983.3 L466.3,983.2 L468.3,983.1 L470.3,983.0 L472.3,982.8 L474.3,982.8 L476.3,982.7 L478.3,982.6 L480.3,982.6 L482.3,982.6 L484.3,982.6 L486.3,982.6 L488.3,982.6 L490.3,982.7 L492.3,982.7 L494.3,982.7 L496.3,982.7 L498.3,982.7 L500.3,982.8 L502.3,982.8 L504.3,982.8 L506.3,982.8 L508.3,982.9 L510.3,982.9 L512.3,982.9 L514.3,982.9 L516.3,983.0 L518.3,983.0 L520.3,983.1 L522.3,983.2 L524.3,983.3 L526.3,983.4 L528.3,983.5 L530.3,983.6 L532.3,983.7 L534.3,983.9 L536.3,984.0 L538.3,984.1 L540.3,984.2 L542.3,984.3 L544.3,984.4 L546.3,984.4 L548.3,984.5 L550.3,984.5 L552.3,984.5 L554.3,984.5 L556.3,984.5 L558.3,984.5 L560.3,984.5 L562.3,984.5 L564.3,984.5 L566.3,984.5 L568.3,984.5 L570.3,984.5 L572.3,984.6 L574.3,984.6 L576.3,984.6 L578.3,984.6 L580.3,984.7 L582.3,984.7 L584.3,984.7 L586.3,984.8 L588.3,984.8 L590.3,984.8 L592.3,984.8 L594.3,984.9 L596.3,984.9 L598.3,985.0 L600.3,985.1 L602.3,985.2 L604.3,985.4 L606.3,985.6 L608.3,985.8 L610.3,986.1 L612.3,986.3 L614.2,986.6 L616.2,986.8 L618.2,987.1 L620.2,987.3 L622.2,987.5 L624.2,987.7 L626.2,987.9 L628.2,988.1 L630.2,988.2 L632.2,988.3 L634.1,988.4 L636.1,988.5 L638.1,988.6 L640.1,988.6 L642.1,988.7 L644.1,988.8 L646.1,988.9 L648.1,989.0 L650.1,989.1 L652.1,989.2 L654.1,989.3 L656.1,989.4 L658.1,989.5 L660.1,989.7 L662.1,989.9 L664.1,990.1 L666.1,990.3 L668.1,990.5 L670.1,990.8 L672.1,991.0 L674.0,991.3 L676.0,991.6 L678.0,991.8 L680.0,992.2 L681.9,992.5 L683.9,992.9 L685.9,993.3 L687.8,993.7 L689.8,994.1 L691.7,994.5 L693.7,994.9 L695.7,995.3 L697.6,995.8 L699.6,996.2 L701.5,996.7 L703.5,997.1 L705.4,997.6 L707.3,998.1 L709.3,998.6 L711.2,999.1 L713.2,999.5 L715.1,1000.0 L717.1,1000.4 L719.0,1000.9 L721.0,1001.2 L723.0,1001.6 L724.9,1001.9 L726.9,1002.3 L728.9,1002.6 L730.9,1002.9 L732.8,1003.2 L734.8,1003.5 L736.8,1003.8 L738.8,1004.1 L740.8,1004.3 L742.7,1004.6 L744.7,1004.9 L746.7,1005.1 L748.7,1005.3 L750.7,1005.6 L752.7,1005.8 L754.7,1006.0 L756.7,1006.2 L758.6,1006.4 L760.6,1006.6 L762.6,1006.8 L764.6,1007.0 L766.6,1007.1 L768.6,1007.3 L770.6,1007.5 L772.6,1007.7 L774.6,1007.9 L776.6,1008.0 L778.6,1008.2 L780.6,1008.3 L782.6,1008.5 L784.6,1008.7 L786.6,1008.8 L788.6,1009.0 L790.6,1009.1 L792.5,1009.3 L794.5,1009.4 L796.5,1009.6 L798.5,1009.7 L800.5,1009.9 L802.5,1010.0 L804.5,1010.2 L806.5,1010.3 L808.5,1010.4 L810.5,1010.6 L812.5,1010.7 L814.5,1010.9 L816.5,1011.0 L818.5,1011.2 L820.5,1011.3 L822.5,1011.5 L824.5,1011.7 L826.5,1011.8 L828.5,1012.0 L830.5,1012.2 L832.5,1012.4 L834.4,1012.6 L836.4,1012.8 L838.4,1013.2 L840.3,1013.5 L842.3,1014.0 L844.2,1014.5 L846.1,1015.1 L848.0,1015.7 L849.9,1016.3 L851.8,1016.9 L853.7,1017.6 L855.6,1018.2 L857.5,1018.9 L859.3,1019.6 L861.2,1020.4 L863.0,1021.1 L864.9,1021.9 L866.7,1022.7 L868.6,1023.5 L870.4,1024.3 L872.2,1025.1 L874.1,1025.9 L875.0,1026.2" fill="none" stroke="#1F8CE6" stroke-width="3.80" stroke-linejoin="round"/><path d="M182.5,1143.7 L183.9,1142.3 L185.2,1140.8 L186.6,1139.4 L188.0,1137.9 L189.4,1136.5 L190.7,1135.0 L191.8,1133.9 M199.8,1125.3 L200.9,1124.0 L202.2,1122.5 L203.5,1120.9 L204.8,1119.4 L206.0,1117.8 L207.2,1116.2 L208.1,1115.0 M214.9,1105.9 L215.6,1105.0 L216.8,1103.3 L217.9,1101.7 L219.1,1100.1 L220.2,1098.4 L221.3,1096.8 L222.4,1095.2 M228.6,1085.9 L229.7,1084.3 L230.8,1082.6 L231.9,1080.9 L233.0,1079.3 L234.1,1077.6 L235.2,1075.9 L235.8,1075.1 M242.0,1065.8 L243.0,1064.3 L244.1,1062.6 L245.3,1061.0 L246.4,1059.4 L247.6,1057.8 L248.9,1056.2 L249.7,1055.2 M257.2,1046.4 L258.0,1045.6 L259.3,1044.1 L260.6,1042.6 L262.0,1041.1 L263.4,1039.7 L264.8,1038.3 L266.3,1036.9 L266.7,1036.6 M276.4,1029.0 L277.3,1028.3 L278.9,1027.1 L280.5,1026.0 L282.2,1024.8 L283.8,1023.7 L285.5,1022.7 L287.3,1021.7 L288.7,1021.0 M300.8,1015.5 L301.8,1015.1 L303.6,1014.3 L305.5,1013.6 L307.4,1013.0 L309.3,1012.4 L311.2,1011.9 L313.2,1011.4 L315.1,1011.0 L315.9,1010.8 M329.7,1008.1 L330.8,1007.9 L332.8,1007.6 L334.8,1007.3 L336.8,1007.0 L338.7,1006.7 L340.7,1006.4 L342.7,1006.1 L344.7,1005.8 L345.8,1005.7 M359.9,1003.8 L361.6,1003.6 L363.5,1003.4 L365.5,1003.2 L367.5,1002.9 L369.5,1002.7 L371.5,1002.5 L373.5,1002.3 L375.5,1002.1 L376.2,1002.0 M390.4,1000.8 L391.4,1000.8 L393.4,1000.8 L395.4,1000.8 L397.4,1000.9 L399.4,1001.0 L401.4,1001.1 L403.4,1001.2 L405.4,1001.3 L406.9,1001.3 M421.1,1002.3 L422.4,1002.5 L424.4,1002.7 L426.3,1003.0 L428.3,1003.3 L430.3,1003.6 L432.3,1003.9 L434.3,1004.2 L436.2,1004.5 L437.3,1004.7 M451.5,1006.0 L453.1,1006.0 L455.1,1005.9 L457.1,1005.8 L459.1,1005.8 L461.1,1005.7 L463.1,1005.6 L465.1,1005.5 L467.1,1005.4 L467.9,1005.4 M482.2,1004.9 L484.1,1004.9 L486.1,1004.9 L488.1,1004.8 L490.1,1004.8 L492.1,1004.8 L494.2,1004.7 L496.2,1004.7 L498.2,1004.7 L498.7,1004.7 M513.0,1004.8 L514.2,1004.9 L516.2,1005.0 L518.2,1005.1 L520.2,1005.2 L522.2,1005.4 L524.2,1005.5 L526.2,1005.6 L528.2,1005.7 L529.5,1005.8 M543.7,1006.2 L545.2,1006.2 L547.2,1006.2 L549.2,1006.2 L551.2,1006.2 L553.2,1006.2 L555.2,1006.2 L557.2,1006.2 L559.2,1006.3 L560.2,1006.3 M574.5,1006.3 L576.2,1006.3 L578.2,1006.3 L580.2,1006.3 L582.2,1006.3 L584.2,1006.3 L586.2,1006.3 L588.2,1006.3 L590.2,1006.3 L591.0,1006.3 M605.3,1006.9 L607.2,1007.1 L609.2,1007.3 L611.2,1007.5 L613.2,1007.7 L615.1,1008.0 L617.1,1008.2 L619.1,1008.4 L621.1,1008.6 L621.6,1008.7 M635.8,1009.7 L637.1,1009.8 L639.1,1009.8 L641.1,1009.9 L643.1,1010.0 L645.1,1010.0 L647.1,1010.1 L649.1,1010.2 L651.1,1010.3 L652.3,1010.3 M666.5,1011.6 L668.0,1011.9 L670.0,1012.1 L672.0,1012.4 L673.9,1012.7 L675.9,1013.0 L677.9,1013.3 L679.9,1013.6 L681.9,1013.9 L682.7,1014.0 M696.5,1016.5 L697.6,1016.7 L699.6,1017.0 L701.6,1017.4 L703.5,1017.8 L705.5,1018.2 L707.5,1018.5 L709.4,1018.9 L711.4,1019.3 L712.5,1019.5 M726.4,1022.0 L728.2,1022.3 L730.1,1022.7 L732.1,1023.1 L734.1,1023.4 L736.0,1023.7 L738.0,1024.0 L740.0,1024.3 L742.0,1024.6 L742.5,1024.7 M756.6,1026.2 L757.9,1026.3 L759.9,1026.5 L761.9,1026.7 L763.9,1026.9 L765.9,1027.1 L767.9,1027.3 L769.9,1027.4 L771.9,1027.6 L773.0,1027.7 M787.2,1028.7 L788.8,1028.8 L790.8,1028.9 L792.8,1029.1 L794.8,1029.2 L796.8,1029.4 L798.8,1029.5 L800.8,1029.6 L802.8,1029.7 L803.6,1029.8 M817.9,1030.6 L819.8,1030.7 L821.8,1030.9 L823.8,1031.0 L825.8,1031.2 L827.8,1031.4 L829.8,1031.7 L831.7,1032.0 L833.7,1032.3 L834.2,1032.4 M847.9,1035.3 L849.4,1035.6 L851.3,1036.0 L853.3,1036.4 L855.2,1036.9 L857.2,1037.3 L859.1,1037.8 L861.1,1038.3 L863.0,1038.8 L863.6,1038.9" fill="none" stroke="#28E2E5" stroke-width="3.80"/><rect x="154.00" y="709.00" width="748.40" height="439.70" fill="none" stroke="#000" stroke-width="2.20"/><line x1="135.40" y1="1109.40" x2="154.00" y2="1109.40" stroke="#000" stroke-width="2.20"/><text transform="translate(109.00,1109.40) rotate(-90)" font-size="32.0" text-anchor="middle" fill="#000">20</text><line x1="135.40" y1="1048.88" x2="154.00" y2="1048.88" stroke="#000" stroke-width="2.20"/><text transform="translate(109.00,1048.88) rotate(-90)" font-size="32.0" text-anchor="middle" fill="#000"></text><line x1="135.40" y1="988.37" x2="154.00" y2="988.37" stroke="#000" stroke-width="2.20"/><text transform="translate(109.00,988.37) rotate(-90)" font-size="32.0" text-anchor="middle" fill="#000">40</text><line x1="135.40" y1="927.85" x2="154.00" y2="927.85" stroke="#000" stroke-width="2.20"/><text transform="translate(109.00,927.85) rotate(-90)" font-size="32.0" text-anchor="middle" fill="#000"></text><line x1="135.40" y1="867.33" x2="154.00" y2="867.33" stroke="#000" stroke-width="2.20"/><text transform="translate(109.00,867.33) rotate(-90)" font-size="32.0" text-anchor="middle" fill="#000">60</text><line x1="135.40" y1="806.82" x2="154.00" y2="806.82" stroke="#000" stroke-width="2.20"/><text transform="translate(109.00,806.82) rotate(-90)" font-size="32.0" text-anchor="middle" fill="#000"></text><line x1="135.40" y1="746.30" x2="154.00" y2="746.30" stroke="#000" stroke-width="2.20"/><text transform="translate(109.00,746.30) rotate(-90)" font-size="32.0" text-anchor="middle" fill="#000">80</text><line x1="201.00" y1="1148.70" x2="201.00" y2="1167.20" stroke="#000" stroke-width="2.20"/><line x1="298.68" y1="1148.70" x2="298.68" y2="1167.20" stroke="#000" stroke-width="2.20"/><line x1="396.36" y1="1148.70" x2="396.36" y2="1167.20" stroke="#000" stroke-width="2.20"/><line x1="494.04" y1="1148.70" x2="494.04" y2="1167.20" stroke="#000" stroke-width="2.20"/><line x1="591.71" y1="1148.70" x2="591.71" y2="1167.20" stroke="#000" stroke-width="2.20"/><line x1="689.39" y1="1148.70" x2="689.39" y2="1167.20" stroke="#000" stroke-width="2.20"/><line x1="787.07" y1="1148.70" x2="787.07" y2="1167.20" stroke="#000" stroke-width="2.20"/><line x1="884.75" y1="1148.70" x2="884.75" y2="1167.20" stroke="#000" stroke-width="2.20"/><text transform="translate(35.20,923.70) rotate(-90)" font-size="32.0" text-anchor="middle" fill="#000" textLength="238.0" lengthAdjust="spacingAndGlyphs">muscle mass (kg)</text></g>
<g><path d="M1078.8,988.7 L1079.4,986.9 L1080.0,985.0 L1080.6,983.1 L1081.3,981.2 L1081.9,979.3 L1082.5,977.4 L1082.6,977.1 M1086.0,967.1 L1086.3,966.0 L1087.0,964.1 L1087.6,962.2 L1088.2,960.3 L1088.8,958.4 L1089.4,956.4 L1089.7,955.4 M1092.9,945.3 L1093.3,944.1 L1094.0,942.2 L1094.6,940.3 L1095.3,938.4 L1095.9,936.5 L1096.6,934.6 L1096.9,933.7 M1100.7,923.7 L1101.2,922.4 L1101.9,920.6 L1102.7,918.7 L1103.4,916.8 L1104.1,915.0 L1104.9,913.1 L1105.3,912.2 M1109.8,902.4 L1110.3,901.3 L1111.2,899.5 L1112.0,897.7 L1112.9,895.9 L1113.7,894.1 L1114.6,892.3 L1115.1,891.1 M1119.6,881.2 L1120.4,879.5 L1121.2,877.7 L1122.0,875.9 L1122.9,874.1 L1123.7,872.2 L1124.5,870.4 L1124.8,869.9 M1130.2,860.3 L1131.0,859.2 L1132.2,857.6 L1133.3,856.0 L1134.5,854.4 L1135.7,852.8 L1136.9,851.2 L1138.0,849.8 M1146.5,841.5 L1147.5,840.9 L1149.1,839.8 L1150.8,838.7 L1152.5,837.6 L1154.2,836.6 L1155.9,835.6 L1157.6,834.5 L1159.0,833.7 M1170.3,827.4 L1171.6,826.7 L1173.4,825.8 L1175.2,824.9 L1177.0,824.0 L1178.7,823.1 L1180.5,822.2 L1182.3,821.3 L1183.8,820.5 M1194.8,813.9 L1196.0,813.1 L1197.7,812.0 L1199.3,810.9 L1201.0,809.8 L1202.7,808.6 L1204.3,807.6 L1206.0,806.5 L1207.0,805.8 M1218.4,799.6 L1220.0,798.7 L1221.8,797.9 L1223.6,797.0 L1225.4,796.1 L1227.2,795.2 L1229.0,794.3 L1230.8,793.5 L1232.1,792.9 M1244.9,788.2 L1246.7,787.5 L1248.6,786.9 L1250.5,786.2 L1252.4,785.6 L1254.3,785.1 L1256.2,784.6 L1258.2,784.1 L1260.1,783.8 L1260.1,783.8 M1274.3,782.4 L1276.0,782.2 L1278.0,782.0 L1280.0,781.9 L1282.0,781.8 L1284.0,781.6 L1286.0,781.6 L1288.0,781.5 L1290.0,781.5 L1290.8,781.6 M1305.0,782.3 L1307.0,782.4 L1309.0,782.5 L1311.0,782.6 L1313.0,782.7 L1314.9,782.8 L1316.9,782.9 L1318.9,783.0 L1320.9,783.1 L1321.5,783.1 M1335.8,783.4 L1336.9,783.5 L1338.9,783.5 L1340.9,783.5 L1342.9,783.6 L1344.9,783.6 L1346.9,783.6 L1348.9,783.5 L1350.9,783.4 L1352.3,783.4 M1366.5,782.2 L1367.9,782.1 L1369.9,781.9 L1371.9,781.7 L1373.9,781.5 L1375.8,781.2 L1377.8,781.0 L1379.8,780.7 L1381.8,780.4 L1382.7,780.3 M1396.7,778.0 L1398.6,777.7 L1400.5,777.3 L1402.5,777.0 L1404.5,776.7 L1406.5,776.4 L1408.5,776.2 L1410.4,775.9 L1412.4,775.7 L1412.9,775.6 M1427.0,774.0 L1428.3,773.9 L1430.3,773.7 L1432.3,773.6 L1434.3,773.5 L1436.3,773.5 L1438.3,773.6 L1440.2,773.7 L1442.2,774.0 L1443.4,774.1 M1457.5,776.0 L1459.1,776.2 L1461.1,776.4 L1463.0,776.6 L1465.0,776.8 L1467.0,776.9 L1469.0,777.0 L1471.0,777.1 L1473.0,777.1 L1473.9,777.1 M1488.2,777.4 L1490.0,777.4 L1492.0,777.4 L1494.0,777.5 L1496.0,777.5 L1498.0,777.5 L1500.0,777.5 L1502.0,777.5 L1504.0,777.5 L1504.7,777.5 M1519.0,777.5 L1520.0,777.5 L1522.0,777.6 L1524.0,777.7 L1526.0,777.8 L1528.0,778.0 L1530.0,778.2 L1532.0,778.5 L1533.9,778.8 L1535.3,779.0 M1549.1,781.6 L1550.7,781.9 L1552.6,782.2 L1554.6,782.6 L1556.5,783.0 L1558.5,783.5 L1560.4,783.9 L1562.4,784.4 L1564.3,784.9 L1564.9,785.0 M1578.4,788.4 L1579.9,788.8 L1581.8,789.3 L1583.7,789.7 L1585.7,790.1 L1587.7,790.6 L1589.6,791.0 L1591.6,791.3 L1593.5,791.7 L1594.2,791.9 M1608.1,794.5 L1609.3,794.7 L1611.2,795.1 L1613.2,795.4 L1615.2,795.7 L1617.2,796.0 L1619.1,796.3 L1621.1,796.6 L1623.1,796.9 L1624.2,797.0 M1638.2,799.0 L1639.9,799.3 L1641.9,799.6 L1643.9,800.0 L1645.8,800.3 L1647.8,800.7 L1649.8,801.1 L1651.7,801.5 L1653.7,801.9 L1654.2,802.1 M1667.8,805.1 L1669.3,805.5 L1671.2,806.1 L1673.1,806.7 L1675.0,807.3 L1676.9,807.9 L1678.8,808.5 L1680.7,809.2 L1682.6,809.8 L1683.0,809.9 M1695.8,814.4 L1697.7,815.1 L1699.6,815.8 L1701.4,816.5 L1703.3,817.3 L1705.2,818.0 L1707.0,818.8 L1708.9,819.5 L1710.3,820.1 M1723.1,824.7 L1724.9,825.2 L1726.8,825.8 L1728.7,826.4 L1730.6,826.9 L1732.5,827.5 L1734.5,828.0 L1736.4,828.6 L1738.3,829.1 L1738.5,829.1 M1752.4,830.9 L1754.0,830.9 L1756.0,830.8 L1758.0,830.8 L1760.0,830.7 L1762.0,830.6 L1764.0,830.5 L1766.0,830.4 L1768.0,830.4 L1768.9,830.3 M1783.2,829.7 L1785.0,829.6 L1787.0,829.5 L1788.0,829.5" fill="none" stroke="#F5C710" stroke-width="3.80"/><path d="M1078.8,1014.5 L1079.2,1012.5 L1079.7,1010.6 L1080.1,1008.7 L1080.6,1006.7 L1081.0,1004.8 L1081.5,1002.8 L1082.0,1000.9 L1082.5,998.9 L1083.0,997.0 L1083.5,995.1 L1084.0,993.1 L1084.5,991.2 L1085.1,989.3 L1085.6,987.3 L1086.2,985.4 L1086.8,983.5 L1087.4,981.6 L1088.1,979.7 L1088.7,977.8 L1089.4,975.9 L1090.0,974.1 L1090.8,972.2 L1091.5,970.3 L1092.3,968.5 L1093.1,966.7 L1093.9,964.8 L1094.7,963.0 L1095.5,961.2 L1096.3,959.3 L1097.0,957.5 L1097.7,955.6 L1098.4,953.7 L1099.1,951.8 L1099.7,949.9 L1100.4,948.1 L1101.0,946.2 L1101.7,944.3 L1102.3,942.4 L1103.0,940.5 L1103.6,938.6 L1104.3,936.7 L1104.9,934.8 L1105.6,932.9 L1106.3,931.0 L1107.0,929.1 L1107.6,927.3 L1108.3,925.4 L1109.0,923.5 L1109.7,921.6 L1110.4,919.8 L1111.1,917.9 L1111.9,916.0 L1112.6,914.2 L1113.5,912.4 L1114.3,910.6 L1115.2,908.8 L1116.1,907.0 L1117.1,905.2 L1118.0,903.5 L1119.0,901.7 L1119.9,900.0 L1120.9,898.2 L1121.8,896.4 L1122.8,894.7 L1123.8,892.9 L1124.7,891.2 L1125.7,889.4 L1126.7,887.7 L1127.6,885.9 L1128.6,884.2 L1129.7,882.5 L1130.8,880.8 L1131.9,879.2 L1133.1,877.6 L1134.4,876.1 L1135.7,874.7 L1137.1,873.2 L1138.5,871.8 L1140.0,870.4 L1141.4,869.1 L1142.9,867.7 L1144.4,866.4 L1146.0,865.1 L1147.5,863.9 L1149.1,862.6 L1150.6,861.4 L1152.2,860.2 L1153.9,859.1 L1155.5,858.0 L1157.2,856.9 L1159.0,856.0 L1160.7,855.0 L1162.5,854.1 L1164.3,853.2 L1166.1,852.4 L1167.9,851.5 L1169.7,850.6 L1171.5,849.8 L1173.3,848.9 L1175.1,848.0 L1176.8,847.0 L1178.6,846.1 L1180.3,845.1 L1182.1,844.1 L1183.8,843.1 L1185.5,842.0 L1187.2,841.0 L1189.0,840.0 L1190.7,839.0 L1192.4,838.0 L1194.1,836.9 L1195.9,835.9 L1197.6,834.9 L1199.3,834.0 L1201.1,833.0 L1202.8,832.0 L1204.6,831.0 L1206.3,830.0 L1208.1,829.1 L1209.8,828.1 L1211.6,827.2 L1213.4,826.3 L1215.2,825.4 L1217.0,824.7 L1218.9,823.9 L1220.7,823.3 L1222.6,822.7 L1224.5,822.1 L1226.5,821.5 L1228.4,821.0 L1230.3,820.4 L1232.2,819.9 L1234.2,819.3 L1236.1,818.8 L1238.0,818.2 L1239.9,817.7 L1241.9,817.1 L1243.8,816.6 L1245.7,816.1 L1247.7,815.6 L1249.6,815.2 L1251.6,814.8 L1253.5,814.4 L1255.5,814.1 L1257.5,813.8 L1259.5,813.5 L1261.4,813.2 L1263.4,813.0 L1265.4,812.7 L1267.4,812.5 L1269.4,812.3 L1271.4,812.2 L1273.4,812.1 L1275.4,812.1 L1277.4,812.0 L1279.4,812.0 L1281.4,812.0 L1283.4,812.0 L1285.4,812.0 L1287.4,812.0 L1289.4,812.0 L1291.4,812.0 L1293.4,812.0 L1295.4,812.0 L1297.4,812.0 L1299.4,812.0 L1301.4,812.0 L1303.4,812.0 L1305.4,812.0 L1307.4,812.0 L1309.4,812.0 L1311.4,812.0 L1313.4,812.0 L1315.4,812.1 L1317.4,812.1 L1319.4,812.1 L1321.4,812.2 L1323.4,812.2 L1325.4,812.3 L1327.4,812.3 L1329.4,812.4 L1331.4,812.4 L1333.4,812.5 L1335.4,812.5 L1337.4,812.6 L1339.4,812.6 L1341.4,812.7 L1343.4,812.7 L1345.4,812.8 L1347.4,812.8 L1349.4,812.8 L1351.4,812.8 L1353.4,812.8 L1355.4,812.7 L1357.4,812.5 L1359.4,812.3 L1361.4,812.1 L1363.3,811.8 L1365.3,811.6 L1367.3,811.3 L1369.3,811.0 L1371.3,810.8 L1373.3,810.5 L1375.2,810.2 L1377.2,809.9 L1379.2,809.7 L1381.2,809.4 L1383.2,809.1 L1385.1,808.8 L1387.1,808.5 L1389.1,808.2 L1391.1,807.9 L1393.1,807.6 L1395.0,807.3 L1397.0,807.0 L1399.0,806.7 L1401.0,806.4 L1403.0,806.1 L1404.9,805.8 L1406.9,805.4 L1408.9,805.1 L1410.9,804.8 L1412.8,804.5 L1414.8,804.3 L1416.8,804.1 L1418.8,804.0 L1420.8,803.9 L1422.8,803.8 L1424.8,803.8 L1426.8,803.8 L1428.8,803.8 L1430.8,803.8 L1432.8,803.8 L1434.8,803.8 L1436.8,803.8 L1438.8,803.8 L1440.8,803.8 L1442.8,803.8 L1444.8,803.8 L1446.8,803.8 L1448.8,803.8 L1450.8,803.8 L1452.8,803.8 L1454.8,803.8 L1456.8,803.9 L1458.8,803.9 L1460.8,804.0 L1462.8,804.0 L1464.8,804.1 L1466.8,804.1 L1468.8,804.2 L1470.8,804.3 L1472.8,804.3 L1474.8,804.4 L1476.8,804.4 L1478.8,804.5 L1480.8,804.5 L1482.8,804.6 L1484.8,804.6 L1486.8,804.7 L1488.8,804.7 L1490.8,804.8 L1492.8,804.8 L1494.8,804.9 L1496.8,805.0 L1498.8,805.0 L1500.8,805.1 L1502.8,805.1 L1504.8,805.2 L1506.8,805.2 L1508.8,805.3 L1510.8,805.4 L1512.8,805.5 L1514.8,805.6 L1516.8,805.8 L1518.8,806.0 L1520.8,806.2 L1522.8,806.5 L1524.7,806.8 L1526.7,807.1 L1528.7,807.4 L1530.7,807.7 L1532.6,808.1 L1534.6,808.4 L1536.6,808.8 L1538.5,809.2 L1540.5,809.7 L1542.4,810.1 L1544.4,810.6 L1546.3,811.1 L1548.2,811.6 L1550.2,812.0 L1552.1,812.5 L1554.1,813.0 L1556.0,813.5 L1558.0,814.0 L1559.9,814.5 L1561.8,815.0 L1563.8,815.4 L1565.7,815.9 L1567.7,816.4 L1569.6,816.9 L1571.5,817.4 L1573.5,817.8 L1575.4,818.3 L1577.4,818.7 L1579.3,819.2 L1581.3,819.6 L1583.3,820.0 L1585.2,820.4 L1587.2,820.8 L1589.1,821.2 L1591.1,821.6 L1593.1,822.0 L1595.0,822.3 L1597.0,822.7 L1599.0,823.1 L1600.9,823.4 L1602.9,823.8 L1604.9,824.1 L1606.9,824.4 L1608.9,824.6 L1610.8,824.9 L1612.8,825.2 L1614.8,825.4 L1616.8,825.7 L1618.8,825.9 L1620.8,826.2 L1622.7,826.5 L1624.7,826.7 L1626.7,827.0 L1628.7,827.3 L1630.7,827.6 L1632.6,828.0 L1634.6,828.3 L1636.6,828.6 L1638.6,829.0 L1640.5,829.3 L1642.5,829.6 L1644.5,830.0 L1646.4,830.3 L1648.4,830.7 L1650.4,831.1 L1652.3,831.5 L1654.3,831.9 L1656.2,832.4 L1658.2,832.8 L1660.1,833.3 L1662.1,833.8 L1664.0,834.3 L1666.0,834.7 L1667.9,835.2 L1669.8,835.7 L1671.8,836.2 L1673.7,836.7 L1675.6,837.3 L1677.5,837.9 L1679.5,838.5 L1681.4,839.1 L1683.3,839.7 L1685.1,840.4 L1687.0,841.0 L1688.9,841.7 L1690.8,842.3 L1692.7,843.0 L1694.6,843.7 L1696.5,844.3 L1698.4,845.0 L1700.2,845.7 L1702.1,846.4 L1704.0,847.1 L1705.9,847.8 L1707.7,848.5 L1709.6,849.3 L1711.4,850.0 L1713.3,850.8 L1715.2,851.5 L1717.0,852.2 L1718.9,853.0 L1720.7,853.7 L1722.6,854.4 L1724.5,855.1 L1726.4,855.7 L1728.3,856.2 L1730.2,856.7 L1732.2,857.1 L1734.1,857.5 L1736.1,857.9 L1738.1,858.3 L1740.0,858.6 L1742.0,858.9 L1744.0,859.1 L1746.0,859.3 L1748.0,859.4 L1750.0,859.4 L1752.0,859.5 L1754.0,859.5 L1756.0,859.5 L1758.0,859.5 L1760.0,859.5 L1762.0,859.5 L1764.0,859.5 L1766.0,859.5 L1768.0,859.5 L1770.0,859.5 L1772.0,859.5 L1774.0,859.5 L1776.0,859.5 L1778.0,859.5 L1780.0,859.5 L1782.0,859.5 L1784.0,859.5 L1786.0,859.5 L1788.0,859.5" fill="none" stroke="#DF4A66" stroke-width="3.80" stroke-linejoin="round"/><path d="M1078.8,1042.5 L1079.4,1040.6 L1080.1,1038.7 L1080.7,1036.8 L1081.4,1034.9 L1082.1,1033.1 L1082.7,1031.2 L1082.8,1030.9 M1086.4,1020.9 L1086.7,1019.9 L1087.4,1018.0 L1088.2,1016.1 L1088.9,1014.3 L1089.6,1012.4 L1090.4,1010.6 L1090.9,1009.4 M1095.0,999.5 L1095.8,997.6 L1096.5,995.8 L1097.3,993.9 L1098.1,992.1 L1098.8,990.2 L1099.6,988.4 L1099.7,988.0 M1103.5,978.0 L1104.1,976.2 L1104.8,974.3 L1105.5,972.4 L1106.2,970.6 L1106.8,968.7 L1107.5,966.8 L1107.7,966.4 M1111.8,956.5 L1112.6,954.9 L1113.5,953.1 L1114.4,951.3 L1115.3,949.5 L1116.2,947.7 L1117.1,945.9 L1117.4,945.3 M1122.5,935.6 L1123.1,934.4 L1124.2,932.7 L1125.2,931.0 L1126.3,929.3 L1127.4,927.7 L1128.5,926.0 L1129.4,924.7 M1135.7,915.4 L1136.4,914.4 L1137.5,912.8 L1138.8,911.2 L1140.0,909.7 L1141.3,908.1 L1142.5,906.6 L1143.8,905.0 L1143.8,905.0 M1151.9,896.5 L1152.8,895.7 L1154.3,894.5 L1155.9,893.3 L1157.6,892.2 L1159.2,891.1 L1160.9,890.0 L1162.6,888.9 L1163.7,888.2 M1175.0,881.9 L1176.5,881.2 L1178.4,880.5 L1180.2,879.8 L1182.1,879.1 L1184.0,878.5 L1185.9,877.8 L1187.8,877.1 L1189.7,876.5 L1189.7,876.4 M1201.8,870.9 L1203.2,870.2 L1204.9,869.1 L1206.6,868.1 L1208.3,867.0 L1210.0,866.0 L1211.7,864.9 L1213.4,864.0 L1214.6,863.3 M1227.2,858.6 L1228.2,858.4 L1230.2,857.8 L1232.1,857.3 L1234.0,856.8 L1236.0,856.3 L1237.9,855.8 L1239.9,855.4 L1241.8,855.0 L1242.9,854.8 M1257.0,853.3 L1258.7,853.2 L1260.7,853.0 L1262.7,852.8 L1264.7,852.7 L1266.7,852.5 L1268.6,852.4 L1270.6,852.3 L1272.6,852.2 L1273.4,852.1 M1287.7,852.0 L1289.6,852.0 L1291.6,852.0 L1293.6,852.0 L1295.6,852.0 L1297.6,852.0 L1299.6,852.0 L1301.6,852.0 L1303.6,852.0 L1304.2,852.0 M1318.5,852.0 L1319.6,852.0 L1321.6,852.0 L1323.6,852.0 L1325.6,852.0 L1327.6,852.0 L1329.6,852.0 L1331.6,852.0 L1333.6,851.9 L1335.0,851.9 M1349.3,851.0 L1350.6,850.9 L1352.6,850.7 L1354.6,850.6 L1356.6,850.4 L1358.6,850.2 L1360.6,850.1 L1362.6,849.9 L1364.6,849.7 L1365.6,849.6 M1379.8,848.1 L1381.5,848.0 L1383.4,847.7 L1385.4,847.5 L1387.4,847.3 L1389.4,847.1 L1391.4,846.9 L1393.4,846.7 L1395.4,846.5 L1396.1,846.4 M1410.3,845.0 L1411.3,844.9 L1413.3,844.8 L1415.3,844.6 L1417.3,844.4 L1419.3,844.3 L1421.3,844.1 L1423.3,844.0 L1425.3,843.9 L1426.7,843.8 M1441.0,843.8 L1442.3,843.8 L1444.3,843.8 L1446.3,843.8 L1448.3,843.8 L1450.3,843.8 L1452.3,843.8 L1454.3,843.8 L1456.3,843.8 L1457.5,843.8 M1471.8,843.8 L1473.3,843.8 L1475.3,843.8 L1477.3,843.8 L1479.3,843.8 L1481.3,843.8 L1483.3,843.8 L1485.3,843.9 L1487.3,843.9 L1488.3,844.0 M1502.5,844.9 L1504.2,845.0 L1506.2,845.1 L1508.2,845.3 L1510.2,845.4 L1512.2,845.6 L1514.2,845.8 L1516.2,846.0 L1518.2,846.3 L1518.9,846.4 M1532.8,848.7 L1533.9,848.9 L1535.9,849.2 L1537.9,849.6 L1539.8,850.0 L1541.8,850.3 L1543.8,850.8 L1545.7,851.2 L1547.7,851.6 L1548.7,851.9 M1562.3,855.2 L1564.2,855.7 L1566.1,856.1 L1568.1,856.6 L1570.0,857.0 L1572.0,857.5 L1573.9,857.9 L1575.9,858.3 L1577.8,858.7 L1578.0,858.8 M1591.8,861.6 L1593.5,861.9 L1595.5,862.2 L1597.5,862.5 L1599.4,862.8 L1601.4,863.0 L1603.4,863.2 L1605.4,863.4 L1607.4,863.6 L1608.0,863.7 M1622.2,865.1 L1623.3,865.2 L1625.3,865.4 L1627.3,865.7 L1629.3,866.0 L1631.2,866.3 L1633.2,866.6 L1635.2,866.9 L1637.2,867.2 L1638.4,867.4 M1652.2,870.0 L1653.9,870.3 L1655.8,870.8 L1657.7,871.3 L1659.7,871.8 L1661.6,872.3 L1663.5,872.9 L1665.5,873.4 L1667.4,873.9 L1667.7,874.0 M1681.0,877.9 L1682.7,878.4 L1684.6,879.1 L1686.5,879.8 L1688.4,880.4 L1690.3,881.1 L1692.1,881.9 L1694.0,882.6 L1695.8,883.2 M1708.6,887.8 L1710.0,888.2 L1711.9,888.8 L1713.9,889.4 L1715.8,889.9 L1717.7,890.4 L1719.6,890.9 L1721.6,891.5 L1723.5,892.0 L1724.0,892.1 M1737.6,895.1 L1739.1,895.3 L1741.1,895.5 L1743.1,895.7 L1745.1,895.9 L1747.1,896.1 L1749.0,896.3 L1751.0,896.4 L1753.0,896.6 L1754.0,896.7 M1768.3,897.5 L1770.0,897.5 L1772.0,897.5 L1774.0,897.5 L1776.0,897.5 L1778.0,897.5 L1780.0,897.5 L1782.0,897.5 L1784.0,897.5 L1784.8,897.5" fill="none" stroke="#F5C710" stroke-width="3.80"/><path d="M1079.0,1064.0 L1079.5,1062.1 L1080.1,1060.1 L1080.6,1058.2 L1081.1,1056.3 L1081.6,1054.4 L1082.2,1052.4 L1082.7,1050.5 L1083.3,1048.6 L1083.8,1046.7 L1084.4,1044.8 L1085.1,1042.9 L1085.7,1041.0 L1086.4,1039.1 L1087.0,1037.2 L1087.7,1035.3 L1088.4,1033.4 L1089.1,1031.5 L1089.8,1029.7 L1090.5,1027.8 L1091.2,1025.9 L1091.9,1024.1 L1092.7,1022.2 L1093.4,1020.4 L1094.2,1018.5 L1094.9,1016.6 L1095.7,1014.8 L1096.5,1013.0 L1097.3,1011.1 L1098.1,1009.3 L1098.9,1007.5 L1099.8,1005.7 L1100.6,1003.9 L1101.5,1002.1 L1102.3,1000.2 L1103.1,998.4 L1104.0,996.6 L1104.8,994.8 L1105.6,992.9 L1106.4,991.1 L1107.3,989.3 L1108.1,987.5 L1108.9,985.7 L1109.8,983.9 L1110.7,982.1 L1111.6,980.3 L1112.5,978.5 L1113.5,976.8 L1114.4,975.0 L1115.4,973.2 L1116.3,971.5 L1117.2,969.7 L1118.2,967.9 L1119.1,966.2 L1120.0,964.4 L1120.9,962.6 L1121.7,960.8 L1122.5,959.0 L1123.2,957.1 L1123.9,955.2 L1124.5,953.3 L1125.2,951.4 L1125.8,949.6 L1126.5,947.7 L1127.2,945.8 L1128.0,944.0 L1128.9,942.3 L1129.9,940.5 L1130.9,938.8 L1132.0,937.1 L1133.1,935.5 L1134.2,933.9 L1135.4,932.2 L1136.6,930.7 L1137.9,929.1 L1139.2,927.6 L1140.5,926.1 L1141.9,924.7 L1143.3,923.3 L1144.7,921.9 L1146.2,920.6 L1147.8,919.4 L1149.4,918.2 L1151.0,917.1 L1152.7,916.0 L1154.4,914.9 L1156.1,913.8 L1157.7,912.7 L1159.4,911.6 L1161.1,910.6 L1162.8,909.5 L1164.5,908.4 L1166.2,907.3 L1167.8,906.2 L1169.5,905.1 L1171.2,904.1 L1172.9,903.0 L1174.6,901.9 L1176.3,900.9 L1178.0,899.9 L1179.8,899.0 L1181.6,898.0 L1183.3,897.1 L1185.1,896.2 L1186.9,895.3 L1188.7,894.4 L1190.5,893.6 L1192.3,892.7 L1194.1,891.9 L1196.0,891.1 L1197.8,890.3 L1199.6,889.5 L1201.5,888.8 L1203.3,888.0 L1205.2,887.3 L1207.1,886.5 L1208.9,885.8 L1210.8,885.1 L1212.7,884.4 L1214.6,883.8 L1216.5,883.3 L1218.4,882.8 L1220.3,882.4 L1222.3,882.0 L1224.3,881.7 L1226.2,881.3 L1228.2,881.1 L1230.2,880.8 L1232.2,880.5 L1234.2,880.3 L1236.2,880.1 L1238.2,879.9 L1240.1,879.7 L1242.1,879.5 L1244.1,879.4 L1246.1,879.2 L1248.1,879.0 L1250.1,878.9 L1252.1,878.7 L1254.1,878.5 L1256.1,878.3 L1258.1,878.2 L1260.1,878.0 L1262.1,877.9 L1264.1,877.7 L1266.1,877.6 L1268.1,877.6 L1270.1,877.5 L1272.1,877.5 L1274.1,877.5 L1276.1,877.5 L1278.1,877.5 L1280.1,877.5 L1282.1,877.5 L1284.1,877.5 L1286.1,877.5 L1288.1,877.5 L1290.1,877.5 L1292.1,877.5 L1294.1,877.5 L1296.1,877.5 L1298.1,877.5 L1300.1,877.5 L1302.1,877.5 L1304.1,877.5 L1306.1,877.5 L1308.1,877.5 L1310.1,877.5 L1312.1,877.5 L1314.1,877.5 L1316.1,877.5 L1318.1,877.5 L1320.1,877.5 L1322.1,877.5 L1324.1,877.5 L1326.1,877.5 L1328.1,877.5 L1330.1,877.5 L1332.1,877.5 L1334.1,877.5 L1336.1,877.5 L1338.1,877.5 L1340.1,877.5 L1342.1,877.5 L1344.1,877.5 L1346.1,877.5 L1348.1,877.5 L1350.1,877.5 L1352.1,877.4 L1354.1,877.4 L1356.1,877.3 L1358.1,877.1 L1360.1,877.0 L1362.0,876.8 L1364.0,876.7 L1366.0,876.5 L1368.0,876.3 L1370.0,876.1 L1372.0,875.9 L1374.0,875.7 L1376.0,875.5 L1378.0,875.3 L1380.0,875.0 L1381.9,874.8 L1383.9,874.5 L1385.9,874.2 L1387.9,874.0 L1389.9,873.7 L1391.9,873.4 L1393.8,873.1 L1395.8,872.9 L1397.8,872.6 L1399.8,872.3 L1401.8,872.0 L1403.7,871.7 L1405.7,871.5 L1407.7,871.2 L1409.7,870.9 L1411.7,870.6 L1413.6,870.3 L1415.6,870.0 L1417.6,869.7 L1419.6,869.5 L1421.6,869.2 L1423.5,868.9 L1425.5,868.7 L1427.5,868.5 L1429.5,868.4 L1431.5,868.3 L1433.5,868.3 L1435.5,868.3 L1437.5,868.3 L1439.5,868.4 L1441.5,868.4 L1443.5,868.5 L1445.5,868.6 L1447.5,868.7 L1449.5,868.7 L1451.5,868.8 L1453.5,868.8 L1455.5,868.9 L1457.5,868.9 L1459.5,869.0 L1461.5,869.0 L1463.5,869.0 L1465.5,869.1 L1467.5,869.1 L1469.5,869.2 L1471.5,869.2 L1473.5,869.2 L1475.5,869.3 L1477.5,869.3 L1479.5,869.4 L1481.5,869.4 L1483.5,869.5 L1485.5,869.5 L1487.5,869.5 L1489.5,869.6 L1491.5,869.6 L1493.5,869.7 L1495.5,869.7 L1497.5,869.8 L1499.5,869.8 L1501.5,869.8 L1503.5,869.9 L1505.5,870.0 L1507.5,870.1 L1509.4,870.3 L1511.4,870.5 L1513.4,870.7 L1515.4,871.0 L1517.4,871.3 L1519.3,871.6 L1521.3,872.0 L1523.3,872.3 L1525.2,872.6 L1527.2,873.0 L1529.2,873.4 L1531.1,873.7 L1533.1,874.1 L1535.1,874.6 L1537.0,875.0 L1538.9,875.5 L1540.9,876.0 L1542.8,876.5 L1544.8,876.9 L1546.7,877.4 L1548.7,877.9 L1550.6,878.4 L1552.5,878.9 L1554.5,879.4 L1556.4,879.9 L1558.4,880.3 L1560.3,880.8 L1562.2,881.3 L1564.2,881.8 L1566.1,882.3 L1568.1,882.8 L1570.0,883.2 L1572.0,883.7 L1573.9,884.1 L1575.9,884.6 L1577.8,885.0 L1579.8,885.3 L1581.7,885.7 L1583.7,886.0 L1585.7,886.3 L1587.7,886.6 L1589.7,886.9 L1591.6,887.2 L1593.6,887.5 L1595.6,887.8 L1597.6,888.0 L1599.6,888.3 L1601.5,888.5 L1603.5,888.8 L1605.5,888.9 L1607.5,889.1 L1609.5,889.3 L1611.5,889.4 L1613.5,889.6 L1615.5,889.7 L1617.5,889.8 L1619.5,890.0 L1621.5,890.1 L1623.5,890.3 L1625.4,890.5 L1627.4,890.8 L1629.4,891.0 L1631.4,891.3 L1633.4,891.7 L1635.3,892.0 L1637.3,892.4 L1639.3,892.7 L1641.2,893.1 L1643.2,893.4 L1645.2,893.8 L1647.1,894.2 L1649.1,894.6 L1651.0,895.0 L1653.0,895.5 L1654.9,896.0 L1656.8,896.5 L1658.8,897.1 L1660.7,897.6 L1662.6,898.2 L1664.5,898.8 L1666.4,899.3 L1668.4,899.9 L1670.3,900.5 L1672.2,901.1 L1674.1,901.7 L1676.0,902.3 L1677.9,902.9 L1679.8,903.5 L1681.7,904.2 L1683.6,904.8 L1685.5,905.5 L1687.4,906.1 L1689.2,906.8 L1691.1,907.4 L1693.0,908.1 L1694.9,908.8 L1696.8,909.4 L1698.7,910.1 L1700.6,910.7 L1702.5,911.3 L1704.4,911.9 L1706.3,912.5 L1708.2,913.1 L1710.1,913.7 L1712.1,914.3 L1714.0,914.8 L1715.9,915.4 L1717.8,916.0 L1719.7,916.6 L1721.6,917.1 L1723.6,917.7 L1725.5,918.2 L1727.4,918.8 L1729.3,919.3 L1731.3,919.8 L1733.2,920.3 L1735.1,920.7 L1737.1,921.1 L1739.1,921.4 L1741.0,921.7 L1743.0,921.8 L1745.0,921.9 L1747.0,922.0 L1749.0,922.0 L1751.0,922.0 L1753.0,922.0 L1755.0,922.0 L1757.0,922.0 L1759.0,922.0 L1761.0,922.0 L1763.0,922.0 L1765.0,922.0 L1767.0,922.0 L1769.0,922.0 L1771.0,922.0 L1773.0,922.0 L1775.0,922.0 L1777.0,922.0 L1779.0,922.0 L1781.0,922.0 L1783.0,922.0 L1785.0,922.0 L1787.0,922.0 L1788.0,922.0" fill="none" stroke="#DF4A66" stroke-width="3.80" stroke-linejoin="round"/><path d="M1078.8,1075.0 L1079.5,1073.1 L1080.3,1071.3 L1081.0,1069.4 L1081.8,1067.6 L1082.5,1065.7 L1083.3,1063.9 L1083.4,1063.5 M1087.5,1053.6 L1088.2,1051.8 L1089.0,1050.0 L1089.8,1048.2 L1090.6,1046.3 L1091.4,1044.5 L1092.2,1042.6 L1092.4,1042.2 M1096.8,1032.3 L1097.5,1030.7 L1098.3,1028.9 L1099.1,1027.1 L1100.0,1025.3 L1100.8,1023.5 L1101.7,1021.7 L1102.0,1021.0 M1106.9,1011.2 L1107.5,1010.0 L1108.4,1008.2 L1109.3,1006.5 L1110.2,1004.7 L1111.2,1002.9 L1112.1,1001.2 L1112.8,1000.1 M1118.7,990.7 L1119.6,989.3 L1120.7,987.7 L1121.8,986.0 L1122.9,984.3 L1124.0,982.7 L1125.1,981.0 L1125.8,979.8 M1131.1,970.2 L1131.9,968.7 L1132.8,966.9 L1133.7,965.2 L1134.6,963.4 L1135.5,961.6 L1136.4,959.8 L1136.8,959.0 M1142.7,949.6 L1143.9,948.1 L1145.2,946.5 L1146.4,945.0 L1147.7,943.5 L1149.1,942.0 L1150.4,940.5 L1151.4,939.4 M1161.2,932.0 L1162.9,931.1 L1164.7,930.2 L1166.5,929.3 L1168.3,928.4 L1170.1,927.5 L1171.9,926.6 L1173.7,925.7 L1174.8,925.2 M1186.8,919.5 L1188.2,918.9 L1190.0,918.1 L1191.8,917.2 L1193.6,916.4 L1195.5,915.6 L1197.3,914.8 L1199.1,914.0 L1200.8,913.2 M1213.9,909.0 L1215.2,908.7 L1217.2,908.2 L1219.1,907.7 L1221.1,907.2 L1223.0,906.8 L1225.0,906.3 L1226.9,905.9 L1228.9,905.6 L1229.6,905.5 M1243.8,904.5 L1245.8,904.4 L1247.8,904.3 L1249.8,904.2 L1251.8,904.2 L1253.8,904.1 L1255.8,904.0 L1257.8,903.9 L1259.8,903.9 L1260.3,903.9 M1274.6,903.8 L1275.8,903.8 L1277.8,903.8 L1279.8,903.7 L1281.8,903.7 L1283.8,903.7 L1285.8,903.7 L1287.8,903.7 L1289.8,903.7 L1291.1,903.7 M1305.4,903.5 L1306.8,903.4 L1308.9,903.4 L1310.9,903.3 L1312.9,903.3 L1314.9,903.2 L1316.9,903.2 L1318.9,903.1 L1320.9,903.1 L1321.9,903.0 M1336.1,902.3 L1337.9,902.2 L1339.9,902.1 L1341.9,902.0 L1343.9,901.9 L1345.9,901.8 L1347.8,901.7 L1349.8,901.5 L1351.8,901.4 L1352.6,901.4 M1366.8,900.2 L1367.8,900.2 L1369.8,900.0 L1371.8,899.8 L1373.8,899.7 L1375.8,899.5 L1377.8,899.3 L1379.8,899.1 L1381.8,898.9 L1383.2,898.8 M1397.3,897.0 L1398.7,896.8 L1400.6,896.6 L1402.6,896.3 L1404.6,896.0 L1406.6,895.8 L1408.6,895.5 L1410.6,895.3 L1412.6,895.1 L1413.5,895.0 M1427.8,893.9 L1429.5,893.8 L1431.5,893.7 L1433.5,893.6 L1435.5,893.5 L1437.5,893.3 L1439.5,893.3 L1441.5,893.2 L1443.5,893.2 L1444.2,893.2 M1458.5,893.4 L1459.5,893.4 L1461.5,893.5 L1463.5,893.5 L1465.5,893.6 L1467.5,893.6 L1469.5,893.7 L1471.5,893.7 L1473.5,893.8 L1475.0,893.8 M1489.3,894.2 L1490.5,894.2 L1492.5,894.2 L1494.5,894.3 L1496.5,894.4 L1498.5,894.4 L1500.5,894.6 L1502.5,894.7 L1504.5,894.9 L1505.7,895.0 M1519.8,897.1 L1521.4,897.3 L1523.3,897.6 L1525.3,897.9 L1527.3,898.3 L1529.2,898.7 L1531.2,899.0 L1533.2,899.5 L1535.1,899.9 L1535.7,900.1 M1549.2,903.5 L1550.6,903.9 L1552.6,904.3 L1554.5,904.8 L1556.5,905.3 L1558.4,905.7 L1560.4,906.2 L1562.3,906.6 L1564.3,907.0 L1564.9,907.2 M1578.7,910.0 L1580.0,910.3 L1581.9,910.6 L1583.9,911.0 L1585.9,911.3 L1587.9,911.6 L1589.8,911.8 L1591.8,912.1 L1593.8,912.3 L1594.8,912.4 M1608.9,914.0 L1610.7,914.2 L1612.7,914.4 L1614.7,914.7 L1616.7,914.9 L1618.7,915.1 L1620.7,915.4 L1622.7,915.6 L1624.7,915.8 L1625.2,915.9 M1639.3,917.6 L1640.5,917.8 L1642.5,918.1 L1644.5,918.4 L1646.5,918.8 L1648.4,919.2 L1650.4,919.7 L1652.3,920.1 L1654.3,920.5 L1655.2,920.8 M1668.8,924.1 L1669.8,924.3 L1671.7,924.9 L1673.7,925.5 L1675.6,926.1 L1677.5,926.7 L1679.4,927.3 L1681.3,927.9 L1683.2,928.5 L1684.0,928.7 M1697.1,932.8 L1698.5,933.2 L1700.4,933.8 L1702.3,934.4 L1704.2,935.0 L1706.2,935.6 L1708.1,936.2 L1710.0,936.8 L1711.9,937.4 L1712.3,937.5 M1725.7,941.1 L1727.4,941.4 L1729.3,941.8 L1731.3,942.2 L1733.3,942.5 L1735.2,942.9 L1737.2,943.3 L1739.2,943.6 L1741.1,944.0 L1741.7,944.1 M1755.9,945.2 L1757.0,945.2 L1759.0,945.2 L1761.0,945.1 L1763.0,945.0 L1765.0,945.0 L1767.0,944.9 L1769.0,944.8 L1771.0,944.8 L1772.3,944.7 M1786.6,943.9 L1787.0,943.8 L1788.0,943.7" fill="none" stroke="#F5C710" stroke-width="3.80"/><path d="M1078.8,1102.5 L1079.6,1100.7 L1080.4,1098.9 L1081.2,1097.0 L1082.0,1095.2 L1082.9,1093.4 L1083.7,1091.6 L1084.5,1089.7 L1085.3,1087.9 L1086.1,1086.1 L1087.0,1084.3 L1087.8,1082.4 L1088.6,1080.6 L1089.4,1078.8 L1090.2,1077.0 L1091.1,1075.1 L1091.9,1073.3 L1092.7,1071.5 L1093.6,1069.7 L1094.4,1067.9 L1095.2,1066.0 L1096.0,1064.2 L1096.9,1062.4 L1097.7,1060.6 L1098.5,1058.8 L1099.4,1056.9 L1100.2,1055.1 L1101.0,1053.3 L1101.9,1051.5 L1102.7,1049.7 L1103.6,1047.9 L1104.5,1046.1 L1105.4,1044.3 L1106.3,1042.5 L1107.1,1040.7 L1108.0,1038.9 L1108.9,1037.1 L1109.8,1035.3 L1110.7,1033.6 L1111.6,1031.8 L1112.5,1030.0 L1113.4,1028.2 L1114.3,1026.4 L1115.3,1024.6 L1116.2,1022.9 L1117.1,1021.1 L1118.1,1019.4 L1119.0,1017.6 L1120.0,1015.8 L1121.0,1014.1 L1121.9,1012.3 L1122.9,1010.6 L1123.8,1008.8 L1124.8,1007.1 L1125.8,1005.3 L1126.7,1003.6 L1127.7,1001.8 L1128.7,1000.1 L1129.8,998.4 L1130.9,996.7 L1132.0,995.1 L1133.2,993.5 L1134.4,991.9 L1135.6,990.3 L1136.8,988.7 L1138.1,987.1 L1139.3,985.6 L1140.5,984.0 L1141.7,982.4 L1143.0,980.8 L1144.2,979.3 L1145.5,977.8 L1146.8,976.3 L1148.2,974.8 L1149.6,973.4 L1151.0,972.0 L1152.5,970.7 L1154.0,969.3 L1155.5,968.0 L1157.0,966.7 L1158.5,965.4 L1160.0,964.1 L1161.5,962.8 L1163.1,961.5 L1164.6,960.2 L1166.2,959.0 L1167.8,957.9 L1169.5,956.8 L1171.2,955.8 L1172.9,954.9 L1174.7,953.9 L1176.5,953.0 L1178.3,952.1 L1180.1,951.2 L1181.9,950.3 L1183.6,949.4 L1185.4,948.5 L1187.2,947.7 L1189.0,946.8 L1190.9,946.0 L1192.7,945.2 L1194.5,944.4 L1196.4,943.7 L1198.2,942.9 L1200.1,942.2 L1202.0,941.6 L1203.9,940.9 L1205.7,940.2 L1207.6,939.5 L1209.5,938.8 L1211.4,938.2 L1213.3,937.5 L1215.2,936.9 L1217.1,936.4 L1219.0,935.9 L1220.9,935.6 L1222.9,935.4 L1224.9,935.2 L1226.8,935.2 L1228.8,935.2 L1230.8,935.2 L1232.8,935.2 L1234.8,935.2 L1236.8,935.3 L1238.8,935.3 L1240.8,935.3 L1242.8,935.4 L1244.8,935.4 L1246.8,935.4 L1248.8,935.5 L1250.8,935.5 L1252.8,935.5 L1254.8,935.6 L1256.8,935.6 L1258.8,935.6 L1260.8,935.7 L1262.8,935.7 L1264.8,935.7 L1266.8,935.7 L1268.8,935.7 L1270.8,935.7 L1272.8,935.7 L1274.8,935.7 L1276.8,935.7 L1278.8,935.7 L1280.8,935.7 L1282.8,935.7 L1284.8,935.7 L1286.8,935.8 L1288.8,935.8 L1290.8,935.8 L1292.8,935.8 L1294.8,935.8 L1296.8,935.7 L1298.8,935.7 L1300.8,935.7 L1302.8,935.7 L1304.8,935.7 L1306.8,935.7 L1308.8,935.7 L1310.8,935.7 L1312.8,935.7 L1314.8,935.7 L1316.8,935.7 L1318.8,935.6 L1320.8,935.6 L1322.8,935.5 L1324.8,935.5 L1326.8,935.4 L1328.8,935.3 L1330.8,935.3 L1332.8,935.2 L1334.8,935.1 L1336.8,935.1 L1338.8,935.0 L1340.8,934.9 L1342.8,934.7 L1344.8,934.6 L1346.8,934.4 L1348.8,934.3 L1350.8,934.1 L1352.8,934.0 L1354.8,933.8 L1356.8,933.6 L1358.8,933.5 L1360.8,933.3 L1362.8,933.2 L1364.8,933.0 L1366.8,932.8 L1368.7,932.7 L1370.7,932.5 L1372.7,932.3 L1374.7,932.2 L1376.7,932.0 L1378.7,931.8 L1380.7,931.6 L1382.7,931.4 L1384.7,931.2 L1386.7,931.0 L1388.7,930.8 L1390.7,930.6 L1392.6,930.4 L1394.6,930.2 L1396.6,930.0 L1398.6,929.8 L1400.6,929.6 L1402.6,929.4 L1404.6,929.2 L1406.6,929.0 L1408.5,928.7 L1410.5,928.4 L1412.5,928.1 L1414.5,927.8 L1416.4,927.5 L1418.4,927.1 L1420.4,926.8 L1422.4,926.4 L1424.3,926.2 L1426.3,925.9 L1428.3,925.8 L1430.3,925.6 L1432.3,925.6 L1434.3,925.5 L1436.3,925.5 L1438.3,925.5 L1440.3,925.5 L1442.3,925.5 L1444.3,925.5 L1446.3,925.5 L1448.3,925.5 L1450.3,925.5 L1452.3,925.5 L1454.3,925.5 L1456.3,925.5 L1458.3,925.5 L1460.3,925.5 L1462.3,925.5 L1464.3,925.5 L1466.3,925.5 L1468.3,925.5 L1470.3,925.5 L1472.3,925.5 L1474.3,925.5 L1476.3,925.5 L1478.3,925.5 L1480.3,925.5 L1482.3,925.5 L1484.3,925.5 L1486.3,925.5 L1488.3,925.5 L1490.3,925.5 L1492.3,925.5 L1494.3,925.5 L1496.3,925.6 L1498.3,925.6 L1500.2,925.8 L1502.2,926.0 L1504.2,926.2 L1506.2,926.6 L1508.1,927.0 L1510.1,927.4 L1512.0,927.8 L1514.0,928.3 L1515.9,928.7 L1517.9,929.1 L1519.8,929.6 L1521.8,930.1 L1523.7,930.5 L1525.7,931.0 L1527.6,931.4 L1529.5,931.9 L1531.5,932.4 L1533.4,932.9 L1535.4,933.3 L1537.3,933.8 L1539.2,934.3 L1541.2,934.8 L1543.1,935.3 L1545.1,935.8 L1547.0,936.3 L1549.0,936.7 L1550.9,937.2 L1552.8,937.7 L1554.8,938.2 L1556.7,938.7 L1558.7,939.2 L1560.6,939.6 L1562.5,940.1 L1564.5,940.6 L1566.4,941.1 L1568.4,941.6 L1570.3,942.0 L1572.2,942.5 L1574.2,942.9 L1576.2,943.3 L1578.1,943.6 L1580.1,943.9 L1582.1,944.2 L1584.1,944.4 L1586.0,944.6 L1588.0,944.9 L1590.0,945.1 L1592.0,945.3 L1594.0,945.5 L1596.0,945.6 L1598.0,945.8 L1600.0,946.0 L1602.0,946.2 L1604.0,946.4 L1606.0,946.6 L1607.9,946.8 L1609.9,946.9 L1611.9,947.0 L1613.9,947.1 L1615.9,947.2 L1617.9,947.3 L1619.9,947.4 L1621.9,947.5 L1623.9,947.6 L1625.9,947.7 L1627.9,947.8 L1629.9,947.9 L1631.9,948.0 L1633.9,948.2 L1635.9,948.5 L1637.8,948.7 L1639.8,949.0 L1641.8,949.4 L1643.8,949.7 L1645.7,950.1 L1647.7,950.5 L1649.6,950.9 L1651.6,951.4 L1653.5,951.9 L1655.4,952.4 L1657.4,952.9 L1659.3,953.5 L1661.2,954.0 L1663.1,954.6 L1665.0,955.2 L1667.0,955.7 L1668.9,956.3 L1670.8,956.9 L1672.7,957.5 L1674.6,958.1 L1676.5,958.7 L1678.4,959.3 L1680.3,959.9 L1682.2,960.6 L1684.1,961.2 L1686.0,961.9 L1687.9,962.6 L1689.8,963.2 L1691.7,963.9 L1693.5,964.5 L1695.4,965.2 L1697.3,965.8 L1699.2,966.5 L1701.1,967.1 L1703.0,967.7 L1705.0,968.2 L1706.9,968.8 L1708.8,969.3 L1710.7,969.8 L1712.7,970.3 L1714.6,970.9 L1716.5,971.4 L1718.5,971.9 L1720.4,972.4 L1722.3,972.9 L1724.3,973.4 L1726.2,973.9 L1728.1,974.3 L1730.1,974.7 L1732.1,975.0 L1734.0,975.2 L1736.0,975.3 L1738.0,975.4 L1740.0,975.5 L1742.0,975.5 L1744.0,975.5 L1746.0,975.5 L1748.0,975.5 L1750.0,975.5 L1752.0,975.5 L1754.0,975.5 L1756.0,975.5 L1758.0,975.5 L1760.0,975.5 L1762.0,975.5 L1764.0,975.5 L1766.0,975.5 L1768.0,975.5 L1770.0,975.5 L1772.0,975.5 L1774.0,975.5 L1776.0,975.5 L1778.0,975.5 L1780.0,975.5 L1782.0,975.5 L1784.0,975.5 L1786.0,975.5 L1788.0,975.5" fill="none" stroke="#DF4A66" stroke-width="3.80" stroke-linejoin="round"/><path d="M1080.0,1115.0 L1080.7,1113.1 L1081.5,1111.3 L1082.2,1109.4 L1083.0,1107.6 L1083.7,1105.7 L1084.5,1103.8 L1084.6,1103.5 M1088.6,1093.6 L1089.4,1091.8 L1090.2,1090.0 L1091.0,1088.2 L1091.9,1086.4 L1092.7,1084.6 L1093.6,1082.8 L1093.9,1082.2 M1098.8,1072.5 L1099.4,1071.1 L1100.4,1069.3 L1101.3,1067.6 L1102.2,1065.8 L1103.1,1064.0 L1104.1,1062.2 L1104.6,1061.3 M1109.9,1051.7 L1110.8,1050.0 L1111.8,1048.2 L1112.8,1046.5 L1113.8,1044.7 L1114.7,1043.0 L1115.7,1041.2 L1116.1,1040.6 M1121.4,1031.0 L1122.0,1029.9 L1123.0,1028.1 L1124.0,1026.4 L1125.0,1024.6 L1126.0,1022.9 L1127.0,1021.2 L1127.7,1019.9 M1133.8,1010.6 L1134.6,1009.4 L1135.7,1007.7 L1136.8,1006.1 L1137.9,1004.4 L1139.0,1002.8 L1140.2,1001.1 L1141.1,999.9 M1148.9,991.1 L1150.1,989.9 L1151.5,988.5 L1152.9,987.1 L1154.3,985.7 L1155.8,984.3 L1157.3,983.0 L1158.8,981.7 L1158.8,981.6 M1169.5,974.7 L1170.5,974.2 L1172.2,973.2 L1174.0,972.2 L1175.7,971.3 L1177.5,970.3 L1179.3,969.4 L1181.1,968.5 L1182.8,967.7 M1195.5,962.9 L1196.9,962.5 L1198.8,961.8 L1200.7,961.2 L1202.6,960.6 L1204.5,960.0 L1206.4,959.5 L1208.4,959.1 L1210.3,958.7 L1210.9,958.6 M1225.0,957.2 L1226.2,957.1 L1228.2,956.9 L1230.2,956.8 L1232.2,956.7 L1234.2,956.6 L1236.2,956.6 L1238.2,956.7 L1240.2,956.7 L1241.5,956.8 M1255.7,958.0 L1257.2,958.1 L1259.1,958.2 L1261.1,958.4 L1263.1,958.5 L1265.1,958.6 L1267.1,958.7 L1269.1,958.7 L1271.1,958.7 L1272.1,958.7 M1286.4,958.8 L1288.2,958.8 L1290.2,958.8 L1292.2,958.8 L1294.2,958.8 L1296.2,958.8 L1298.2,958.8 L1300.2,958.8 L1302.2,958.8 L1302.9,958.8 M1317.2,958.7 L1319.2,958.7 L1321.2,958.7 L1323.2,958.7 L1325.2,958.6 L1327.2,958.5 L1329.2,958.4 L1331.2,958.2 L1333.1,958.0 L1333.7,957.9 M1347.8,956.2 L1349.0,956.1 L1351.0,955.8 L1353.0,955.6 L1355.0,955.4 L1357.0,955.2 L1359.0,955.1 L1361.0,954.9 L1363.0,954.8 L1364.1,954.7 M1378.4,954.1 L1380.0,954.1 L1382.0,954.0 L1384.0,953.9 L1386.0,953.7 L1388.0,953.6 L1390.0,953.4 L1391.9,953.2 L1393.9,953.0 L1394.8,952.9 M1408.9,951.1 L1410.8,950.8 L1412.8,950.6 L1414.8,950.4 L1416.8,950.2 L1418.8,950.0 L1420.8,949.8 L1422.8,949.7 L1424.7,949.5 L1425.2,949.5 M1439.5,948.6 L1440.7,948.5 L1442.7,948.4 L1444.7,948.3 L1446.7,948.2 L1448.7,948.1 L1450.7,948.1 L1452.7,948.0 L1454.7,948.0 L1456.0,948.0 M1470.3,948.0 L1471.7,948.0 L1473.7,948.0 L1475.7,948.0 L1477.7,948.1 L1479.7,948.1 L1481.7,948.2 L1483.7,948.2 L1485.7,948.3 L1486.8,948.4 M1501.0,949.0 L1502.7,949.1 L1504.7,949.3 L1506.7,949.4 L1508.7,949.6 L1510.7,949.9 L1512.6,950.2 L1514.6,950.6 L1516.5,951.0 L1517.2,951.2 M1530.7,954.6 L1532.1,955.0 L1534.0,955.5 L1535.9,956.0 L1537.9,956.5 L1539.8,957.0 L1541.7,957.5 L1543.7,958.1 L1545.6,958.6 L1546.2,958.7 M1559.6,962.3 L1561.1,962.6 L1563.0,963.0 L1565.0,963.4 L1567.0,963.8 L1568.9,964.1 L1570.9,964.5 L1572.9,964.8 L1574.9,965.1 L1575.6,965.2 M1589.6,967.3 L1590.7,967.4 L1592.7,967.6 L1594.7,967.8 L1596.7,968.0 L1598.7,968.1 L1600.7,968.2 L1602.7,968.4 L1604.7,968.5 L1606.0,968.6 M1620.2,969.7 L1621.6,969.8 L1623.6,970.0 L1625.6,970.3 L1627.6,970.5 L1629.6,970.7 L1631.6,971.0 L1633.6,971.2 L1635.5,971.5 L1636.5,971.6 M1650.5,973.7 L1652.3,974.1 L1654.3,974.6 L1656.2,975.0 L1658.1,975.5 L1660.1,976.0 L1662.0,976.5 L1664.0,977.0 L1665.9,977.5 L1666.1,977.6 M1679.5,981.3 L1681.3,981.9 L1683.2,982.5 L1685.1,983.1 L1687.0,983.8 L1688.9,984.4 L1690.8,985.0 L1692.7,985.6 L1694.5,986.2 M1707.7,990.2 L1709.0,990.5 L1710.9,991.0 L1712.9,991.5 L1714.8,992.0 L1716.7,992.5 L1718.7,993.0 L1720.6,993.5 L1722.6,994.0 L1723.3,994.2 M1737.2,996.3 L1738.3,996.4 L1740.3,996.5 L1742.3,996.7 L1744.3,996.9 L1746.3,997.1 L1748.3,997.2 L1750.3,997.4 L1752.3,997.5 L1753.6,997.6 M1767.9,997.3 L1769.3,997.2 L1771.3,997.0 L1773.3,996.9 L1775.3,996.8 L1777.3,996.6 L1779.3,996.5 L1781.3,996.4 L1783.2,996.3" fill="none" stroke="#F5C710" stroke-width="3.80"/><rect x="1050.00" y="712.10" width="765.00" height="449.70" fill="none" stroke="#000" stroke-width="2.20"/><line x1="1031.30" y1="1143.80" x2="1050.00" y2="1143.80" stroke="#000" stroke-width="2.20"/><text transform="translate(1004.60,1143.80) rotate(-90)" font-size="32.0" text-anchor="middle" fill="#000">10</text><line x1="1031.30" y1="1039.88" x2="1050.00" y2="1039.88" stroke="#000" stroke-width="2.20"/><text transform="translate(1004.60,1039.88) rotate(-90)" font-size="32.0" text-anchor="middle" fill="#000">20</text><line x1="1031.30" y1="935.95" x2="1050.00" y2="935.95" stroke="#000" stroke-width="2.20"/><text transform="translate(1004.60,935.95) rotate(-90)" font-size="32.0" text-anchor="middle" fill="#000">30</text><line x1="1031.30" y1="832.02" x2="1050.00" y2="832.02" stroke="#000" stroke-width="2.20"/><text transform="translate(1004.60,832.02) rotate(-90)" font-size="32.0" text-anchor="middle" fill="#000">40</text><line x1="1031.30" y1="728.10" x2="1050.00" y2="728.10" stroke="#000" stroke-width="2.20"/><text transform="translate(1004.60,728.10) rotate(-90)" font-size="32.0" text-anchor="middle" fill="#000">50</text><line x1="1098.40" y1="1161.80" x2="1098.40" y2="1180.80" stroke="#000" stroke-width="2.20"/><line x1="1200.24" y1="1161.80" x2="1200.24" y2="1180.80" stroke="#000" stroke-width="2.20"/><line x1="1302.07" y1="1161.80" x2="1302.07" y2="1180.80" stroke="#000" stroke-width="2.20"/><line x1="1403.91" y1="1161.80" x2="1403.91" y2="1180.80" stroke="#000" stroke-width="2.20"/><line x1="1505.74" y1="1161.80" x2="1505.74" y2="1180.80" stroke="#000" stroke-width="2.20"/><line x1="1607.58" y1="1161.80" x2="1607.58" y2="1180.80" stroke="#000" stroke-width="2.20"/><line x1="1709.41" y1="1161.80" x2="1709.41" y2="1180.80" stroke="#000" stroke-width="2.20"/><line x1="1811.25" y1="1161.80" x2="1811.25" y2="1180.80" stroke="#000" stroke-width="2.20"/></g>
<defs><clipPath id="c4"><rect x="146.75" y="1338.70" width="748.25" height="455.90"/></clipPath></defs>
<g><g clip-path="url(#c4)"><path d="M175.0,1333.0 L176.2,1334.6 L177.3,1336.3 L178.5,1337.9 L179.7,1339.5 L180.8,1341.1 L182.0,1342.8 L182.6,1343.6 M189.2,1352.8 L190.1,1354.2 L191.3,1355.8 L192.5,1357.4 L193.6,1359.1 L194.8,1360.7 L196.0,1362.3 L196.8,1363.4 M203.4,1372.6 L204.2,1373.7 L205.4,1375.3 L206.6,1376.9 L207.8,1378.5 L209.0,1380.1 L210.2,1381.7 L211.3,1383.1 M218.5,1392.0 L219.6,1393.4 L220.9,1394.9 L222.1,1396.5 L223.3,1398.1 L224.6,1399.7 L225.8,1401.2 L226.7,1402.5 M233.2,1411.7 L233.9,1412.6 L235.1,1414.3 L236.3,1415.9 L237.5,1417.5 L238.7,1419.1 L240.0,1420.6 L241.3,1422.1 L241.3,1422.1 M249.8,1430.4 L250.6,1431.1 L252.1,1432.5 L253.6,1433.8 L255.0,1435.2 L256.5,1436.5 L258.0,1437.9 L259.5,1439.2 L260.1,1439.7 M269.2,1447.7 L270.0,1448.5 L271.5,1449.8 L273.0,1451.1 L274.6,1452.4 L276.1,1453.7 L277.6,1455.0 L279.2,1456.3 L279.9,1456.9 M289.5,1464.6 L290.9,1465.7 L292.4,1466.9 L294.0,1468.1 L295.7,1469.2 L297.3,1470.4 L299.0,1471.5 L300.7,1472.5 L301.3,1472.9 M312.3,1479.4 L313.6,1480.1 L315.4,1481.1 L317.1,1482.1 L318.9,1483.0 L320.7,1483.9 L322.5,1484.7 L324.3,1485.6 L325.9,1486.3 M338.0,1491.7 L339.8,1492.6 L341.6,1493.4 L343.5,1494.2 L345.3,1495.1 L347.1,1495.9 L348.9,1496.8 L350.7,1497.6 L351.9,1498.2 M363.9,1503.8 L365.2,1504.4 L367.1,1505.1 L368.9,1505.9 L370.8,1506.6 L372.7,1507.3 L374.6,1508.0 L376.4,1508.7 L378.3,1509.4 L378.5,1509.4 M391.3,1514.0 L392.5,1514.4 L394.4,1515.0 L396.3,1515.6 L398.2,1516.2 L400.1,1516.8 L402.0,1517.4 L403.9,1518.0 L405.8,1518.6 L406.4,1518.8 M419.5,1523.0 L421.0,1523.6 L422.9,1524.3 L424.8,1525.1 L426.6,1525.8 L428.5,1526.6 L430.3,1527.4 L432.2,1528.1 L433.9,1528.9 M446.1,1534.2 L447.7,1535.0 L449.6,1535.8 L451.4,1536.6 L453.2,1537.5 L455.0,1538.3 L456.8,1539.2 L458.6,1540.0 L460.0,1540.7 M472.2,1546.1 L473.3,1546.6 L475.1,1547.3 L476.9,1548.1 L478.8,1548.9 L480.6,1549.7 L482.5,1550.5 L484.3,1551.3 L486.2,1552.0 L486.4,1552.2 M499.2,1556.8 L500.3,1557.2 L502.2,1557.8 L504.1,1558.4 L506.0,1559.1 L507.9,1559.7 L509.8,1560.3 L511.7,1561.0 L513.6,1561.6 L514.2,1561.8 M527.4,1565.7 L528.9,1566.1 L530.8,1566.7 L532.8,1567.2 L534.7,1567.8 L536.6,1568.3 L538.5,1568.9 L540.5,1569.4 L542.4,1570.0 L542.8,1570.1 M556.1,1573.9 L557.8,1574.4 L559.7,1575.0 L561.6,1575.6 L563.5,1576.1 L565.5,1576.7 L567.4,1577.2 L569.3,1577.8 L571.2,1578.4 L571.4,1578.4 M584.6,1582.4 L585.6,1582.7 L587.5,1583.3 L589.4,1583.8 L591.4,1584.4 L593.3,1585.0 L595.2,1585.7 L597.0,1586.4 L598.9,1587.1 L599.6,1587.3 M611.9,1592.6 L613.6,1593.4 L615.4,1594.2 L617.3,1595.0 L619.1,1595.8 L620.9,1596.7 L622.8,1597.5 L624.6,1598.3 L625.9,1598.9 M638.2,1604.3 L639.2,1604.7 L641.1,1605.4 L643.0,1606.2 L644.9,1606.8 L646.8,1607.5 L648.7,1608.1 L650.6,1608.7 L652.5,1609.2 L653.0,1609.4 M666.3,1613.4 L667.8,1613.8 L669.8,1614.4 L671.7,1614.9 L673.6,1615.4 L675.6,1615.9 L677.5,1616.4 L679.4,1616.9 L681.4,1617.4 L681.7,1617.5 M695.2,1620.9 L696.9,1621.2 L698.9,1621.7 L700.8,1622.1 L702.8,1622.4 L704.8,1622.8 L706.7,1623.2 L708.7,1623.5 L710.7,1623.9 L711.2,1624.0 M725.0,1626.6 L726.4,1626.8 L728.4,1627.2 L730.3,1627.6 L732.3,1628.0 L734.3,1628.5 L736.2,1628.9 L738.2,1629.3 L740.1,1629.7 L740.9,1629.8 M754.7,1632.5 L755.9,1632.7 L757.9,1633.0 L759.8,1633.3 L761.8,1633.6 L763.8,1633.9 L765.8,1634.2 L767.7,1634.5 L769.7,1634.9 L770.8,1635.0 M784.8,1637.4 L786.5,1637.7 L788.5,1638.0 L790.4,1638.4 L792.4,1638.7 L794.4,1639.1 L796.4,1639.5 L798.3,1639.8 L800.3,1640.2 L800.8,1640.2 M814.7,1642.6 L816.1,1642.8 L818.1,1643.2 L820.0,1643.5 L822.0,1643.8 L824.0,1644.1 L826.0,1644.4 L827.9,1644.7 L829.9,1645.0 L830.8,1645.2 M844.9,1646.8 L846.8,1647.1 L848.8,1647.3 L850.8,1647.5 L852.8,1647.7 L854.8,1647.9 L856.8,1648.1 L858.8,1648.3 L860.8,1648.5 L861.3,1648.5" fill="none" stroke="#28E2E5" stroke-width="3.80"/><path d="M175.0,1406.3 L176.4,1407.7 L177.7,1409.2 L179.1,1410.7 L180.4,1412.1 L181.8,1413.6 L183.1,1415.1 L184.5,1416.5 L185.8,1418.0 L187.2,1419.5 L188.5,1421.0 L189.9,1422.5 L191.2,1423.9 L192.5,1425.4 L193.9,1426.9 L195.2,1428.4 L196.5,1429.9 L197.8,1431.4 L199.1,1433.0 L200.5,1434.5 L201.8,1436.0 L203.1,1437.5 L204.4,1439.0 L205.7,1440.5 L207.0,1442.0 L208.3,1443.5 L209.6,1445.0 L211.0,1446.5 L212.3,1448.1 L213.6,1449.6 L214.9,1451.1 L216.2,1452.6 L217.5,1454.1 L218.7,1455.7 L220.0,1457.2 L221.3,1458.7 L222.6,1460.3 L223.8,1461.9 L225.0,1463.4 L226.2,1465.0 L227.5,1466.6 L228.7,1468.2 L229.9,1469.8 L231.1,1471.4 L232.3,1473.0 L233.5,1474.6 L234.7,1476.2 L236.0,1477.7 L237.2,1479.3 L238.5,1480.8 L239.9,1482.2 L241.3,1483.7 L242.7,1485.1 L244.1,1486.5 L245.5,1488.0 L246.9,1489.4 L248.3,1490.8 L249.8,1492.1 L251.2,1493.5 L252.7,1494.8 L254.2,1496.1 L255.8,1497.4 L257.4,1498.6 L259.0,1499.8 L260.5,1501.0 L262.1,1502.2 L263.7,1503.4 L265.3,1504.6 L266.9,1505.8 L268.6,1507.0 L270.2,1508.2 L271.8,1509.4 L273.4,1510.5 L275.1,1511.7 L276.7,1512.8 L278.4,1513.9 L280.0,1515.0 L281.7,1516.1 L283.4,1517.2 L285.0,1518.3 L286.7,1519.5 L288.4,1520.6 L290.0,1521.7 L291.7,1522.7 L293.4,1523.8 L295.1,1524.9 L296.8,1525.9 L298.5,1526.9 L300.3,1527.9 L302.0,1528.9 L303.8,1529.8 L305.5,1530.8 L307.3,1531.8 L309.0,1532.7 L310.8,1533.7 L312.5,1534.6 L314.3,1535.6 L316.1,1536.5 L317.8,1537.4 L319.6,1538.3 L321.4,1539.2 L323.3,1540.0 L325.1,1540.8 L326.9,1541.6 L328.8,1542.3 L330.6,1543.1 L332.5,1543.9 L334.3,1544.6 L336.2,1545.4 L338.0,1546.1 L339.9,1546.9 L341.7,1547.6 L343.6,1548.4 L345.4,1549.1 L347.3,1549.9 L349.2,1550.6 L351.0,1551.3 L352.9,1552.0 L354.8,1552.7 L356.6,1553.4 L358.5,1554.1 L360.4,1554.8 L362.3,1555.5 L364.1,1556.2 L366.0,1556.9 L367.9,1557.6 L369.8,1558.3 L371.6,1559.0 L373.5,1559.7 L375.4,1560.4 L377.3,1561.0 L379.2,1561.7 L381.1,1562.3 L383.0,1562.9 L384.9,1563.5 L386.8,1564.1 L388.7,1564.7 L390.6,1565.3 L392.5,1565.9 L394.4,1566.5 L396.4,1567.1 L398.3,1567.6 L400.2,1568.2 L402.1,1568.8 L404.0,1569.4 L405.9,1570.0 L407.8,1570.6 L409.7,1571.3 L411.6,1571.9 L413.5,1572.6 L415.4,1573.3 L417.2,1574.0 L419.1,1574.7 L421.0,1575.4 L422.8,1576.1 L424.7,1576.8 L426.6,1577.5 L428.5,1578.2 L430.3,1578.9 L432.2,1579.6 L434.1,1580.3 L436.0,1581.0 L437.8,1581.7 L439.7,1582.3 L441.6,1583.0 L443.5,1583.7 L445.4,1584.4 L447.3,1585.0 L449.2,1585.7 L451.0,1586.3 L452.9,1587.0 L454.8,1587.6 L456.7,1588.3 L458.6,1588.9 L460.5,1589.6 L462.4,1590.2 L464.3,1590.9 L466.2,1591.5 L468.1,1592.2 L470.0,1592.8 L471.9,1593.4 L473.8,1594.0 L475.7,1594.6 L477.6,1595.1 L479.5,1595.6 L481.5,1596.2 L483.4,1596.7 L485.3,1597.2 L487.3,1597.7 L489.2,1598.2 L491.1,1598.8 L493.1,1599.3 L495.0,1599.8 L496.9,1600.3 L498.9,1600.8 L500.8,1601.3 L502.7,1601.8 L504.7,1602.3 L506.6,1602.8 L508.6,1603.2 L510.5,1603.7 L512.5,1604.1 L514.4,1604.5 L516.4,1604.9 L518.3,1605.4 L520.3,1605.8 L522.2,1606.2 L524.2,1606.6 L526.2,1607.0 L528.1,1607.5 L530.1,1607.9 L532.0,1608.3 L534.0,1608.7 L535.9,1609.1 L537.9,1609.5 L539.8,1609.9 L541.8,1610.3 L543.8,1610.7 L545.7,1611.1 L547.7,1611.5 L549.7,1611.9 L551.6,1612.3 L553.6,1612.7 L555.5,1613.1 L557.5,1613.5 L559.4,1613.9 L561.4,1614.4 L563.3,1614.8 L565.3,1615.4 L567.2,1615.9 L569.1,1616.5 L571.0,1617.1 L572.9,1617.8 L574.8,1618.4 L576.7,1619.1 L578.5,1619.7 L580.4,1620.4 L582.3,1621.1 L584.2,1621.7 L586.1,1622.4 L588.0,1623.0 L589.9,1623.7 L591.8,1624.4 L593.6,1625.0 L595.5,1625.7 L597.4,1626.3 L599.3,1627.0 L601.2,1627.7 L603.1,1628.3 L605.0,1629.0 L606.9,1629.6 L608.7,1630.3 L610.6,1631.0 L612.5,1631.6 L614.4,1632.2 L616.3,1632.8 L618.2,1633.4 L620.2,1634.0 L622.1,1634.6 L624.0,1635.2 L625.9,1635.8 L627.8,1636.3 L629.7,1636.9 L631.6,1637.5 L633.6,1638.1 L635.5,1638.6 L637.4,1639.2 L639.3,1639.7 L641.3,1640.2 L643.2,1640.8 L645.1,1641.3 L647.1,1641.8 L649.0,1642.2 L650.9,1642.7 L652.9,1643.2 L654.8,1643.7 L656.8,1644.2 L658.7,1644.7 L660.6,1645.1 L662.6,1645.6 L664.5,1646.0 L666.5,1646.5 L668.4,1646.9 L670.4,1647.3 L672.4,1647.7 L674.3,1648.1 L676.3,1648.5 L678.2,1648.9 L680.2,1649.3 L682.2,1649.7 L684.1,1650.1 L686.1,1650.4 L688.1,1650.8 L690.0,1651.1 L692.0,1651.4 L694.0,1651.7 L696.0,1652.0 L697.9,1652.3 L699.9,1652.5 L701.9,1652.8 L703.9,1653.1 L705.9,1653.3 L707.9,1653.6 L709.8,1653.8 L711.8,1654.1 L713.8,1654.4 L715.8,1654.6 L717.8,1654.9 L719.7,1655.2 L721.7,1655.5 L723.7,1655.8 L725.7,1656.1 L727.7,1656.4 L729.6,1656.7 L731.6,1657.0 L733.6,1657.3 L735.6,1657.6 L737.5,1657.9 L739.5,1658.2 L741.5,1658.5 L743.5,1658.8 L745.5,1659.1 L747.4,1659.4 L749.4,1659.7 L751.4,1660.0 L753.4,1660.3 L755.3,1660.6 L757.3,1660.8 L759.3,1661.1 L761.3,1661.4 L763.3,1661.7 L765.2,1662.0 L767.2,1662.2 L769.2,1662.5 L771.2,1662.7 L773.2,1663.0 L775.2,1663.2 L777.2,1663.5 L779.1,1663.7 L781.1,1663.9 L783.1,1664.2 L785.1,1664.4 L787.1,1664.6 L789.1,1664.9 L791.1,1665.1 L793.0,1665.4 L795.0,1665.6 L797.0,1665.8 L799.0,1666.1 L801.0,1666.3 L803.0,1666.6 L805.0,1666.8 L806.9,1667.0 L808.9,1667.3 L810.9,1667.5 L812.9,1667.7 L814.9,1667.9 L816.9,1668.1 L818.9,1668.3 L820.9,1668.5 L822.9,1668.6 L824.9,1668.8 L826.8,1668.9 L828.8,1669.1 L830.8,1669.3 L832.8,1669.4 L834.8,1669.6 L836.8,1669.7 L838.8,1669.9 L840.8,1670.0 L842.8,1670.2 L844.8,1670.3 L846.8,1670.4 L848.8,1670.5 L850.8,1670.7 L852.8,1670.8 L854.8,1670.9 L856.8,1671.0 L858.8,1671.1 L860.8,1671.3 L862.8,1671.4 L864.8,1671.5 L866.8,1671.6 L868.7,1671.7" fill="none" stroke="#1F8CE6" stroke-width="3.80" stroke-linejoin="round"/><path d="M175.0,1493.8 L176.4,1495.2 L177.7,1496.7 L179.1,1498.1 L180.5,1499.6 L181.9,1501.0 L183.2,1502.5 L184.3,1503.6 M192.3,1512.2 L193.5,1513.4 L194.9,1514.9 L196.2,1516.4 L197.6,1517.8 L199.0,1519.3 L200.3,1520.8 L201.6,1522.1 M209.6,1530.7 L210.6,1531.7 L212.0,1533.2 L213.4,1534.6 L214.8,1536.0 L216.2,1537.4 L217.6,1538.9 L219.0,1540.3 L219.2,1540.4 M227.8,1548.7 L229.1,1549.9 L230.7,1551.2 L232.2,1552.5 L233.7,1553.8 L235.3,1555.1 L236.8,1556.3 L238.4,1557.6 L238.6,1557.7 M248.1,1565.5 L249.3,1566.4 L250.9,1567.6 L252.4,1568.9 L254.0,1570.1 L255.6,1571.4 L257.2,1572.6 L258.7,1573.8 L259.3,1574.2 M269.6,1581.4 L271.1,1582.3 L272.8,1583.3 L274.5,1584.3 L276.3,1585.4 L278.0,1586.4 L279.7,1587.4 L281.4,1588.4 L282.4,1588.9 M294.1,1594.9 L295.7,1595.7 L297.5,1596.6 L299.3,1597.4 L301.1,1598.3 L302.9,1599.1 L304.7,1600.0 L306.5,1600.8 L307.9,1601.4 M320.4,1606.5 L321.3,1606.9 L323.2,1607.6 L325.1,1608.4 L326.9,1609.1 L328.8,1609.8 L330.7,1610.4 L332.6,1611.1 L334.5,1611.7 L335.1,1611.9 M348.3,1616.0 L349.8,1616.4 L351.7,1617.0 L353.6,1617.6 L355.6,1618.1 L357.5,1618.6 L359.4,1619.2 L361.3,1619.7 L363.3,1620.2 L363.7,1620.3 M377.2,1623.6 L378.8,1624.0 L380.8,1624.5 L382.7,1624.9 L384.7,1625.3 L386.7,1625.7 L388.6,1626.1 L390.6,1626.5 L392.6,1626.8 L393.0,1626.9 M406.9,1629.5 L408.3,1629.8 L410.2,1630.2 L412.2,1630.6 L414.2,1631.1 L416.1,1631.5 L418.0,1632.0 L420.0,1632.5 L421.9,1633.0 L422.6,1633.2 M436.1,1636.5 L437.5,1636.8 L439.4,1637.3 L441.4,1637.8 L443.3,1638.2 L445.3,1638.7 L447.2,1639.2 L449.2,1639.6 L451.1,1640.1 L451.8,1640.3 M465.3,1643.7 L466.6,1644.0 L468.5,1644.6 L470.5,1645.1 L472.4,1645.7 L474.3,1646.2 L476.2,1646.8 L478.2,1647.3 L480.1,1647.9 L480.7,1648.0 M494.3,1651.2 L495.7,1651.5 L497.6,1651.8 L499.6,1652.2 L501.6,1652.6 L503.6,1652.9 L505.5,1653.3 L507.5,1653.6 L509.5,1654.0 L510.3,1654.1 M524.1,1656.7 L525.2,1656.9 L527.2,1657.2 L529.2,1657.6 L531.1,1657.9 L533.1,1658.3 L535.1,1658.6 L537.0,1659.0 L539.0,1659.4 L540.1,1659.6 M554.1,1661.9 L555.8,1662.2 L557.8,1662.5 L559.7,1662.8 L561.7,1663.1 L563.7,1663.5 L565.7,1663.8 L567.6,1664.2 L569.6,1664.5 L570.1,1664.6 M583.9,1667.4 L585.3,1667.7 L587.2,1668.1 L589.2,1668.5 L591.2,1668.9 L593.1,1669.4 L595.1,1669.8 L597.0,1670.2 L599.0,1670.7 L599.7,1670.8 M613.3,1674.1 L614.6,1674.4 L616.5,1674.8 L618.5,1675.3 L620.4,1675.8 L622.4,1676.2 L624.3,1676.7 L626.2,1677.1 L628.2,1677.6 L629.0,1677.8 M642.6,1681.0 L643.8,1681.3 L645.7,1681.7 L647.7,1682.1 L649.7,1682.5 L651.6,1682.9 L653.6,1683.3 L655.6,1683.6 L657.5,1683.9 L658.5,1684.1 M672.5,1686.3 L674.3,1686.6 L676.3,1686.9 L678.3,1687.1 L680.3,1687.4 L682.3,1687.6 L684.3,1687.8 L686.3,1688.0 L688.2,1688.3 L688.7,1688.3 M702.9,1689.7 L704.2,1689.9 L706.2,1690.0 L708.2,1690.2 L710.2,1690.3 L712.2,1690.5 L714.2,1690.6 L716.2,1690.8 L718.1,1690.9 L719.3,1691.0 M733.5,1692.0 L735.1,1692.1 L737.1,1692.2 L739.1,1692.3 L741.1,1692.4 L743.1,1692.5 L745.1,1692.7 L747.1,1692.8 L749.1,1692.9 L750.0,1692.9 M764.2,1693.8 L766.1,1693.9 L768.1,1694.1 L770.1,1694.2 L772.1,1694.3 L774.1,1694.5 L776.1,1694.6 L778.1,1694.7 L780.1,1694.9 L780.7,1694.9 M794.9,1695.9 L796.1,1695.9 L798.1,1696.1 L800.1,1696.2 L802.1,1696.3 L804.0,1696.4 L806.0,1696.5 L808.0,1696.6 L810.0,1696.7 L811.4,1696.8 M825.6,1697.6 L827.0,1697.7 L829.0,1697.9 L831.0,1698.0 L833.0,1698.1 L835.0,1698.3 L837.0,1698.4 L839.0,1698.5 L841.0,1698.7 L842.0,1698.7 M856.3,1699.6 L858.0,1699.6 L860.0,1699.7 L862.0,1699.8 L864.0,1699.9 L866.0,1699.9 L868.0,1700.0" fill="none" stroke="#28E2E5" stroke-width="3.80"/><path d="M175.0,1546.3 L176.5,1547.6 L177.9,1549.0 L179.4,1550.3 L180.9,1551.7 L182.3,1553.1 L183.8,1554.4 L185.3,1555.8 L186.7,1557.1 L188.2,1558.5 L189.7,1559.8 L191.2,1561.2 L192.7,1562.5 L194.2,1563.9 L195.7,1565.2 L197.2,1566.5 L198.7,1567.8 L200.2,1569.1 L201.7,1570.4 L203.2,1571.7 L204.8,1573.0 L206.3,1574.3 L207.8,1575.6 L209.3,1576.9 L210.8,1578.2 L212.4,1579.5 L213.9,1580.8 L215.4,1582.1 L216.9,1583.4 L218.4,1584.7 L220.0,1586.0 L221.5,1587.3 L223.0,1588.6 L224.5,1589.9 L226.0,1591.2 L227.5,1592.5 L229.1,1593.8 L230.6,1595.1 L232.1,1596.4 L233.6,1597.8 L235.1,1599.1 L236.7,1600.4 L238.2,1601.7 L239.7,1602.9 L241.3,1604.2 L242.8,1605.5 L244.4,1606.7 L246.0,1607.9 L247.6,1609.0 L249.3,1610.1 L251.0,1611.2 L252.7,1612.3 L254.4,1613.3 L256.1,1614.4 L257.8,1615.5 L259.5,1616.5 L261.2,1617.6 L262.9,1618.6 L264.6,1619.6 L266.4,1620.5 L268.1,1621.5 L269.9,1622.4 L271.7,1623.3 L273.5,1624.2 L275.3,1625.1 L277.0,1626.0 L278.8,1626.9 L280.6,1627.8 L282.4,1628.7 L284.2,1629.6 L286.0,1630.5 L287.8,1631.4 L289.6,1632.2 L291.4,1633.1 L293.2,1633.9 L295.0,1634.8 L296.9,1635.6 L298.7,1636.4 L300.5,1637.2 L302.3,1638.1 L304.2,1638.9 L306.0,1639.7 L307.8,1640.5 L309.7,1641.3 L311.5,1642.1 L313.3,1642.9 L315.2,1643.6 L317.1,1644.3 L318.9,1645.0 L320.8,1645.7 L322.7,1646.3 L324.6,1647.0 L326.5,1647.6 L328.4,1648.2 L330.3,1648.9 L332.2,1649.5 L334.1,1650.1 L336.0,1650.7 L337.9,1651.4 L339.8,1652.0 L341.7,1652.6 L343.6,1653.2 L345.6,1653.7 L347.5,1654.2 L349.4,1654.7 L351.4,1655.2 L353.3,1655.7 L355.3,1656.1 L357.2,1656.6 L359.2,1657.0 L361.1,1657.5 L363.1,1657.9 L365.0,1658.4 L367.0,1658.8 L368.9,1659.3 L370.9,1659.7 L372.8,1660.2 L374.8,1660.6 L376.7,1661.0 L378.7,1661.4 L380.6,1661.9 L382.6,1662.3 L384.6,1662.7 L386.5,1663.1 L388.5,1663.4 L390.4,1663.8 L392.4,1664.2 L394.4,1664.6 L396.3,1665.0 L398.3,1665.4 L400.3,1665.8 L402.2,1666.2 L404.2,1666.6 L406.1,1667.0 L408.1,1667.4 L410.1,1667.8 L412.0,1668.1 L414.0,1668.5 L416.0,1668.9 L417.9,1669.2 L419.9,1669.6 L421.9,1669.9 L423.9,1670.2 L425.8,1670.6 L427.8,1670.9 L429.8,1671.2 L431.8,1671.5 L433.7,1671.9 L435.7,1672.2 L437.7,1672.5 L439.6,1672.9 L441.6,1673.2 L443.6,1673.5 L445.6,1673.9 L447.5,1674.2 L449.5,1674.5 L451.5,1674.9 L453.5,1675.2 L455.4,1675.6 L457.4,1676.0 L459.3,1676.4 L461.3,1676.8 L463.3,1677.2 L465.2,1677.5 L467.2,1677.9 L469.2,1678.3 L471.1,1678.7 L473.1,1679.1 L475.0,1679.5 L477.0,1679.9 L479.0,1680.3 L480.9,1680.7 L482.9,1681.1 L484.9,1681.5 L486.8,1681.8 L488.8,1682.2 L490.8,1682.6 L492.7,1682.9 L494.7,1683.3 L496.7,1683.6 L498.6,1683.9 L500.6,1684.3 L502.6,1684.6 L504.6,1684.9 L506.5,1685.3 L508.5,1685.6 L510.5,1685.9 L512.5,1686.2 L514.4,1686.6 L516.4,1686.9 L518.4,1687.2 L520.4,1687.5 L522.3,1687.9 L524.3,1688.2 L526.3,1688.5 L528.3,1688.7 L530.3,1689.0 L532.3,1689.2 L534.2,1689.4 L536.2,1689.6 L538.2,1689.8 L540.2,1690.0 L542.2,1690.2 L544.2,1690.4 L546.2,1690.6 L548.2,1690.8 L550.2,1691.0 L552.2,1691.2 L554.2,1691.4 L556.1,1691.6 L558.1,1691.8 L560.1,1692.0 L562.1,1692.3 L564.1,1692.5 L566.1,1692.7 L568.1,1693.0 L570.0,1693.3 L572.0,1693.6 L574.0,1693.9 L576.0,1694.1 L578.0,1694.4 L579.9,1694.7 L581.9,1695.0 L583.9,1695.3 L585.9,1695.7 L587.9,1696.0 L589.8,1696.3 L591.8,1696.7 L593.8,1697.0 L595.7,1697.4 L597.7,1697.8 L599.7,1698.2 L601.6,1698.6 L603.6,1699.0 L605.5,1699.4 L607.5,1699.7 L609.5,1700.1 L611.4,1700.5 L613.4,1700.9 L615.4,1701.3 L617.3,1701.6 L619.3,1702.0 L621.3,1702.3 L623.2,1702.6 L625.2,1703.0 L627.2,1703.3 L629.2,1703.7 L631.1,1704.0 L633.1,1704.3 L635.1,1704.6 L637.1,1705.0 L639.0,1705.3 L641.0,1705.6 L643.0,1705.9 L645.0,1706.1 L647.0,1706.4 L648.9,1706.7 L650.9,1706.9 L652.9,1707.2 L654.9,1707.4 L656.9,1707.7 L658.9,1707.9 L660.9,1708.2 L662.8,1708.4 L664.8,1708.6 L666.8,1708.8 L668.8,1709.0 L670.8,1709.1 L672.8,1709.3 L674.8,1709.4 L676.8,1709.6 L678.8,1709.7 L680.8,1709.9 L682.8,1710.0 L684.8,1710.1 L686.8,1710.3 L688.8,1710.4 L690.8,1710.5 L692.8,1710.7 L694.8,1710.8 L696.8,1710.9 L698.8,1711.0 L700.8,1711.1 L702.8,1711.3 L704.8,1711.4 L706.8,1711.5 L708.8,1711.6 L710.8,1711.7 L712.8,1711.9 L714.7,1712.0 L716.7,1712.1 L718.7,1712.2 L720.7,1712.3 L722.7,1712.4 L724.7,1712.5 L726.7,1712.5 L728.7,1712.6 L730.7,1712.7 L732.7,1712.8 L734.7,1712.9 L736.7,1713.0 L738.7,1713.1 L740.7,1713.2 L742.7,1713.3 L744.7,1713.4 L746.7,1713.5 L748.7,1713.6 L750.7,1713.7 L752.7,1713.7 L754.7,1713.8 L756.7,1713.9 L758.7,1714.0 L760.7,1714.0 L762.7,1714.1 L764.7,1714.2 L766.7,1714.2 L768.7,1714.3 L770.7,1714.4 L772.7,1714.4 L774.7,1714.5 L776.7,1714.6 L778.7,1714.6 L780.7,1714.7 L782.7,1714.8 L784.7,1714.8 L786.7,1714.9 L788.7,1715.0 L790.7,1715.1 L792.7,1715.2 L794.7,1715.2 L796.7,1715.3 L798.7,1715.4 L800.7,1715.5 L802.7,1715.6 L804.7,1715.7 L806.7,1715.8 L808.7,1715.9 L810.7,1716.0 L812.7,1716.1 L814.7,1716.1 L816.7,1716.2 L818.7,1716.2 L820.7,1716.2 L822.7,1716.2 L824.7,1716.2 L826.7,1716.2 L828.7,1716.2 L830.7,1716.2 L832.7,1716.2 L834.7,1716.2 L836.7,1716.2 L838.7,1716.2 L840.7,1716.2 L842.7,1716.2 L844.7,1716.2 L846.7,1716.2 L848.7,1716.2 L850.7,1716.2 L852.7,1716.2 L854.7,1716.2 L856.7,1716.2 L858.7,1716.2 L860.7,1716.2 L862.7,1716.2 L864.7,1716.2 L866.7,1716.2 L868.7,1716.2" fill="none" stroke="#1F8CE6" stroke-width="3.80" stroke-linejoin="round"/><path d="M175.0,1592.5 L176.5,1593.8 L178.1,1595.1 L179.6,1596.3 L181.2,1597.6 L182.7,1598.9 L184.2,1600.2 L185.8,1601.5 L185.8,1601.5 M195.2,1609.3 L196.5,1610.4 L198.1,1611.7 L199.6,1613.0 L201.2,1614.3 L202.7,1615.5 L204.2,1616.8 L205.8,1618.1 L206.1,1618.3 M215.6,1626.1 L216.6,1627.0 L218.2,1628.2 L219.8,1629.4 L221.4,1630.7 L222.9,1631.9 L224.5,1633.1 L226.1,1634.3 L226.8,1634.8 M236.9,1642.2 L238.3,1643.0 L240.0,1644.1 L241.7,1645.1 L243.5,1646.0 L245.2,1647.0 L247.0,1647.9 L248.8,1648.8 L250.0,1649.4 M261.9,1655.2 L263.2,1655.9 L265.0,1656.7 L266.8,1657.6 L268.6,1658.5 L270.4,1659.3 L272.2,1660.2 L274.0,1661.0 L275.7,1661.8 M287.8,1667.2 L289.5,1668.0 L291.4,1668.7 L293.2,1669.5 L295.1,1670.3 L296.9,1671.1 L298.8,1671.8 L300.6,1672.6 L302.1,1673.2 M315.0,1677.6 L316.7,1678.1 L318.6,1678.7 L320.5,1679.3 L322.4,1679.9 L324.4,1680.4 L326.3,1681.0 L328.2,1681.5 L330.1,1682.1 L330.3,1682.1 M343.9,1685.4 L345.7,1685.8 L347.6,1686.2 L349.6,1686.7 L351.6,1687.1 L353.5,1687.5 L355.5,1687.9 L357.4,1688.3 L359.4,1688.7 L359.7,1688.8 M373.7,1690.9 L375.2,1691.1 L377.2,1691.4 L379.2,1691.7 L381.2,1692.0 L383.1,1692.3 L385.1,1692.6 L387.1,1692.9 L389.1,1693.2 L389.9,1693.4 M403.8,1695.8 L404.8,1695.9 L406.8,1696.3 L408.8,1696.6 L410.8,1696.9 L412.7,1697.2 L414.7,1697.5 L416.7,1697.8 L418.7,1698.0 L419.9,1698.1 M434.1,1699.6 L435.6,1699.8 L437.6,1700.0 L439.6,1700.2 L441.6,1700.4 L443.6,1700.7 L445.6,1700.9 L447.5,1701.1 L449.5,1701.4 L450.4,1701.5 M464.5,1703.2 L466.4,1703.5 L468.4,1703.8 L470.4,1704.1 L472.3,1704.4 L474.3,1704.7 L476.3,1705.1 L478.3,1705.4 L480.2,1705.7 L480.6,1705.8 M494.5,1708.2 L496.0,1708.4 L498.0,1708.7 L500.0,1708.9 L502.0,1709.1 L504.0,1709.3 L506.0,1709.5 L508.0,1709.7 L509.9,1709.9 L510.8,1710.0 M525.0,1711.3 L526.9,1711.4 L528.9,1711.6 L530.9,1711.8 L532.9,1712.0 L534.9,1712.2 L536.8,1712.4 L538.8,1712.6 L540.8,1712.8 L541.4,1712.8 M555.5,1714.2 L556.8,1714.4 L558.8,1714.6 L560.7,1714.8 L562.7,1715.0 L564.7,1715.3 L566.7,1715.5 L568.7,1715.7 L570.7,1716.0 L571.8,1716.1 M585.9,1717.9 L587.5,1718.2 L589.5,1718.5 L591.5,1718.8 L593.5,1719.1 L595.5,1719.4 L597.4,1719.7 L599.4,1720.1 L601.4,1720.4 L602.0,1720.5 M616.0,1722.6 L617.2,1722.7 L619.2,1723.0 L621.2,1723.2 L623.2,1723.5 L625.2,1723.7 L627.1,1723.9 L629.1,1724.2 L631.1,1724.4 L632.3,1724.6 M646.4,1726.1 L648.0,1726.3 L650.0,1726.5 L652.0,1726.7 L654.0,1726.9 L656.0,1727.1 L658.0,1727.3 L660.0,1727.5 L662.0,1727.7 L662.8,1727.8 M677.0,1728.8 L678.9,1728.9 L680.9,1729.0 L682.9,1729.1 L684.9,1729.3 L686.9,1729.4 L688.9,1729.5 L690.9,1729.6 L692.9,1729.7 L693.5,1729.7 M707.8,1730.2 L708.9,1730.2 L710.9,1730.2 L712.9,1730.2 L714.9,1730.3 L716.9,1730.3 L718.9,1730.3 L720.9,1730.4 L722.9,1730.4 L724.3,1730.4 M738.5,1730.7 L739.9,1730.8 L741.9,1730.8 L743.9,1730.9 L745.9,1730.9 L747.9,1731.0 L749.9,1731.0 L751.9,1731.1 L753.9,1731.1 L755.0,1731.1 M769.3,1731.6 L770.9,1731.7 L772.9,1731.8 L774.9,1731.9 L776.9,1732.0 L778.9,1732.0 L780.9,1732.1 L782.9,1732.2 L784.9,1732.3 L785.8,1732.3 M800.1,1732.5 L802.0,1732.5 L804.0,1732.5 L806.0,1732.5 L808.0,1732.5 L810.0,1732.5 L812.0,1732.5 L814.0,1732.5 L816.0,1732.5 L816.6,1732.5 M830.9,1732.5 L832.0,1732.5 L834.0,1732.5 L836.0,1732.5 L838.0,1732.5 L840.0,1732.5 L842.0,1732.5 L844.0,1732.5 L846.0,1732.5 L847.4,1732.5 M861.7,1732.5 L863.0,1732.5 L865.0,1732.5 L867.0,1732.5 L868.0,1732.5" fill="none" stroke="#28E2E5" stroke-width="3.80"/><path d="M175.0,1650.0 L176.6,1651.2 L178.2,1652.4 L179.8,1653.6 L181.4,1654.8 L183.0,1656.0 L184.6,1657.2 L186.2,1658.4 L187.8,1659.6 L189.4,1660.8 L191.0,1662.0 L192.6,1663.2 L194.2,1664.4 L195.9,1665.5 L197.5,1666.7 L199.1,1667.8 L200.8,1669.0 L202.4,1670.1 L204.1,1671.2 L205.7,1672.4 L207.4,1673.5 L209.0,1674.6 L210.7,1675.8 L212.3,1676.9 L214.0,1678.0 L215.7,1679.1 L217.4,1680.1 L219.1,1681.2 L220.8,1682.3 L222.5,1683.3 L224.2,1684.3 L225.9,1685.4 L227.6,1686.4 L229.3,1687.5 L231.0,1688.5 L232.7,1689.5 L234.4,1690.5 L236.2,1691.5 L237.9,1692.5 L239.7,1693.4 L241.5,1694.3 L243.3,1695.1 L245.1,1696.0 L246.9,1696.8 L248.8,1697.6 L250.6,1698.4 L252.4,1699.3 L254.2,1700.1 L256.1,1700.9 L257.9,1701.7 L259.7,1702.6 L261.5,1703.4 L263.4,1704.1 L265.2,1704.9 L267.1,1705.6 L269.0,1706.3 L270.9,1706.9 L272.8,1707.6 L274.7,1708.2 L276.5,1708.8 L278.4,1709.5 L280.3,1710.1 L282.2,1710.7 L284.1,1711.4 L286.0,1712.0 L287.9,1712.6 L289.8,1713.2 L291.7,1713.8 L293.7,1714.4 L295.6,1715.0 L297.5,1715.5 L299.4,1716.0 L301.4,1716.5 L303.3,1716.9 L305.3,1717.4 L307.2,1717.8 L309.2,1718.3 L311.1,1718.7 L313.1,1719.2 L315.0,1719.6 L317.0,1720.1 L318.9,1720.5 L320.9,1721.0 L322.8,1721.4 L324.8,1721.8 L326.7,1722.3 L328.7,1722.7 L330.7,1723.1 L332.6,1723.4 L334.6,1723.8 L336.5,1724.2 L338.5,1724.6 L340.5,1724.9 L342.4,1725.3 L344.4,1725.7 L346.4,1726.0 L348.3,1726.4 L350.3,1726.8 L352.3,1727.1 L354.2,1727.5 L356.2,1727.9 L358.2,1728.2 L360.1,1728.6 L362.1,1728.9 L364.1,1729.2 L366.1,1729.5 L368.1,1729.8 L370.0,1730.0 L372.0,1730.3 L374.0,1730.5 L376.0,1730.7 L378.0,1731.0 L380.0,1731.2 L382.0,1731.4 L383.9,1731.6 L385.9,1731.9 L387.9,1732.1 L389.9,1732.3 L391.9,1732.5 L393.9,1732.8 L395.9,1733.0 L397.9,1733.2 L399.8,1733.4 L401.8,1733.7 L403.8,1733.9 L405.8,1734.1 L407.8,1734.3 L409.8,1734.5 L411.8,1734.7 L413.8,1734.9 L415.8,1735.1 L417.8,1735.3 L419.7,1735.5 L421.7,1735.7 L423.7,1735.9 L425.7,1736.1 L427.7,1736.3 L429.7,1736.5 L431.7,1736.7 L433.7,1736.9 L435.7,1737.1 L437.7,1737.3 L439.6,1737.5 L441.6,1737.7 L443.6,1737.9 L445.6,1738.1 L447.6,1738.3 L449.6,1738.5 L451.6,1738.7 L453.6,1738.9 L455.6,1739.1 L457.6,1739.3 L459.6,1739.5 L461.5,1739.7 L463.5,1739.9 L465.5,1740.1 L467.5,1740.2 L469.5,1740.4 L471.5,1740.6 L473.5,1740.8 L475.5,1741.0 L477.5,1741.2 L479.5,1741.3 L481.5,1741.5 L483.5,1741.6 L485.4,1741.8 L487.4,1741.9 L489.4,1742.0 L491.4,1742.2 L493.4,1742.3 L495.4,1742.4 L497.4,1742.6 L499.4,1742.7 L501.4,1742.8 L503.4,1743.0 L505.4,1743.1 L507.4,1743.2 L509.4,1743.4 L511.4,1743.5 L513.4,1743.6 L515.4,1743.7 L517.4,1743.9 L519.4,1744.0 L521.4,1744.1 L523.4,1744.2 L525.4,1744.3 L527.4,1744.4 L529.4,1744.5 L531.4,1744.6 L533.4,1744.7 L535.4,1744.8 L537.4,1744.9 L539.4,1744.9 L541.4,1745.0 L543.4,1745.1 L545.4,1745.2 L547.4,1745.2 L549.4,1745.3 L551.4,1745.4 L553.4,1745.4 L555.4,1745.5 L557.4,1745.6 L559.4,1745.6 L561.4,1745.7 L563.4,1745.8 L565.3,1745.8 L567.3,1745.9 L569.3,1746.0 L571.3,1746.1 L573.3,1746.1 L575.3,1746.3 L577.3,1746.4 L579.3,1746.5 L581.3,1746.7 L583.3,1746.9 L585.3,1747.0 L587.3,1747.2 L589.3,1747.4 L591.3,1747.6 L593.3,1747.8 L595.3,1748.0 L597.2,1748.2 L599.2,1748.4 L601.2,1748.6 L603.2,1748.8 L605.2,1749.0 L607.2,1749.2 L609.2,1749.4 L611.2,1749.6 L613.2,1749.8 L615.2,1750.0 L617.2,1750.2 L619.1,1750.4 L621.1,1750.6 L623.1,1750.8 L625.1,1751.0 L627.1,1751.2 L629.1,1751.4 L631.1,1751.6 L633.1,1751.7 L635.1,1751.9 L637.1,1752.1 L639.1,1752.3 L641.1,1752.4 L643.0,1752.6 L645.0,1752.7 L647.0,1752.8 L649.0,1752.9 L651.0,1752.9 L653.0,1753.0 L655.0,1753.0 L657.0,1753.0 L659.0,1753.0 L661.0,1753.0 L663.0,1753.0 L665.0,1753.0 L667.0,1753.0 L669.0,1753.0 L671.0,1753.0 L673.0,1753.0 L675.0,1753.0 L677.0,1753.0 L679.0,1753.0 L681.0,1753.0 L683.0,1753.0 L685.0,1753.0 L687.0,1753.0 L689.0,1753.0 L691.0,1753.0 L693.0,1753.0 L695.0,1753.0 L697.0,1753.0 L699.0,1753.0 L701.0,1753.0 L703.0,1753.0 L705.0,1753.0 L707.0,1753.0 L709.0,1753.0 L711.0,1753.0 L713.0,1753.0 L715.0,1753.0 L717.0,1753.0 L719.0,1753.0 L721.0,1753.0 L723.0,1753.0 L725.0,1753.0 L727.0,1753.0 L729.0,1753.0 L731.0,1753.0 L733.0,1753.0 L735.0,1753.0 L737.0,1753.0 L739.0,1753.0 L741.0,1753.0 L743.0,1753.0 L745.0,1753.0 L747.0,1753.0 L749.0,1753.0 L751.0,1753.0 L753.0,1753.0 L755.0,1753.0 L757.0,1753.0 L759.0,1753.0 L761.0,1753.0 L763.0,1753.0 L765.0,1753.0 L767.0,1753.0 L769.0,1753.0 L771.0,1753.0 L773.0,1753.0 L775.0,1753.0 L777.0,1753.0 L779.0,1753.0 L781.1,1753.0 L783.1,1753.0 L785.1,1753.0 L787.1,1753.0 L789.1,1753.0 L791.1,1753.0 L793.1,1753.0 L795.1,1753.0 L797.1,1753.0 L799.1,1752.9 L801.1,1752.9 L803.1,1752.9 L805.1,1752.9 L807.1,1752.9 L809.1,1752.9 L811.1,1752.9 L813.1,1752.8 L815.1,1752.8 L817.1,1752.8 L819.1,1752.8 L821.1,1752.8 L823.1,1752.8 L825.1,1752.8 L827.1,1752.7 L829.1,1752.7 L831.1,1752.7 L833.1,1752.7 L835.1,1752.7 L837.1,1752.7 L839.1,1752.7 L841.1,1752.6 L843.1,1752.6 L845.1,1752.6 L847.1,1752.6 L849.1,1752.6 L851.1,1752.6 L853.1,1752.5 L855.1,1752.5 L857.0,1752.4 L859.0,1752.3 L861.0,1752.1 L863.0,1751.8 L864.9,1751.4 L866.8,1751.0 L868.7,1750.5" fill="none" stroke="#1F8CE6" stroke-width="3.80" stroke-linejoin="round"/><path d="M172.5,1682.5 L174.3,1683.4 L176.0,1684.4 L177.8,1685.3 L179.6,1686.2 L181.4,1687.1 L183.1,1688.1 L184.9,1689.0 L185.9,1689.5 M197.4,1695.6 L199.0,1696.5 L200.8,1697.5 L202.5,1698.5 L204.3,1699.5 L206.0,1700.5 L207.7,1701.5 L209.4,1702.5 L210.3,1703.1 M221.5,1709.5 L222.5,1710.0 L224.2,1711.0 L226.0,1711.9 L227.8,1712.9 L229.5,1713.8 L231.3,1714.7 L233.1,1715.7 L234.8,1716.6 M246.9,1722.1 L248.5,1722.7 L250.4,1723.5 L252.2,1724.2 L254.1,1724.9 L256.0,1725.6 L257.9,1726.3 L259.7,1727.0 L261.5,1727.7 M274.5,1732.0 L275.8,1732.4 L277.8,1733.0 L279.7,1733.6 L281.6,1734.2 L283.5,1734.8 L285.4,1735.3 L287.3,1735.9 L289.3,1736.4 L289.7,1736.6 M303.3,1739.8 L304.9,1740.1 L306.8,1740.5 L308.8,1740.9 L310.7,1741.3 L312.7,1741.7 L314.7,1742.1 L316.6,1742.5 L318.6,1742.9 L319.2,1743.0 M333.2,1745.4 L334.4,1745.6 L336.3,1745.9 L338.3,1746.2 L340.3,1746.5 L342.3,1746.8 L344.3,1747.1 L346.2,1747.3 L348.2,1747.6 L349.3,1747.7 M363.5,1749.0 L365.2,1749.1 L367.2,1749.3 L369.2,1749.5 L371.2,1749.7 L373.1,1749.8 L375.1,1750.0 L377.1,1750.2 L379.1,1750.3 L379.9,1750.4 M394.1,1751.6 L396.1,1751.8 L398.1,1751.9 L400.1,1752.1 L402.1,1752.2 L404.1,1752.4 L406.1,1752.6 L408.1,1752.7 L410.1,1752.8 L410.5,1752.9 M424.7,1753.9 L426.0,1754.0 L428.0,1754.1 L430.0,1754.3 L432.0,1754.4 L434.0,1754.6 L436.0,1754.7 L438.0,1754.9 L440.0,1755.0 L441.2,1755.1 M455.4,1756.4 L457.0,1756.5 L459.0,1756.7 L461.0,1756.8 L462.9,1757.0 L464.9,1757.1 L466.9,1757.2 L468.9,1757.4 L470.9,1757.5 L471.8,1757.5 M486.0,1758.4 L487.9,1758.5 L489.9,1758.6 L491.9,1758.7 L493.9,1758.8 L495.9,1758.9 L497.9,1759.0 L499.9,1759.1 L501.9,1759.1 L502.5,1759.2 M516.8,1759.8 L517.9,1759.8 L519.9,1759.9 L521.9,1760.0 L523.9,1760.1 L525.9,1760.1 L527.9,1760.2 L529.9,1760.3 L531.9,1760.4 L533.2,1760.4 M547.5,1761.0 L548.9,1761.1 L550.9,1761.2 L552.9,1761.3 L554.9,1761.4 L556.9,1761.5 L558.9,1761.6 L560.9,1761.7 L562.9,1761.9 L564.0,1761.9 M578.2,1762.8 L579.9,1762.9 L581.9,1763.0 L583.9,1763.1 L585.9,1763.2 L587.9,1763.4 L589.9,1763.5 L591.9,1763.6 L593.9,1763.8 L594.7,1763.8 M608.9,1764.8 L610.9,1764.9 L612.9,1765.0 L614.9,1765.2 L616.9,1765.3 L618.9,1765.4 L620.9,1765.6 L622.9,1765.7 L624.8,1765.8 L625.3,1765.9 M639.6,1766.8 L640.8,1766.8 L642.8,1766.9 L644.8,1767.0 L646.8,1767.0 L648.8,1767.1 L650.8,1767.1 L652.8,1767.2 L654.8,1767.2 L656.1,1767.2 M670.4,1767.4 L671.9,1767.5 L673.9,1767.5 L675.9,1767.5 L677.9,1767.5 L679.9,1767.5 L681.9,1767.5 L683.9,1767.5 L685.9,1767.5 L686.9,1767.5 M701.2,1767.5 L702.9,1767.5 L704.9,1767.5 L706.9,1767.5 L708.9,1767.5 L710.9,1767.5 L712.9,1767.5 L714.9,1767.5 L716.9,1767.5 L717.7,1767.5 M732.0,1767.5 L733.9,1767.4 L735.9,1767.4 L737.9,1767.3 L739.9,1767.2 L741.9,1767.1 L743.9,1767.0 L745.9,1766.9 L747.9,1766.7 L748.4,1766.7 M762.7,1765.8 L763.9,1765.7 L765.9,1765.6 L767.9,1765.6 L769.9,1765.5 L771.9,1765.5 L773.9,1765.5 L775.9,1765.5 L777.9,1765.5 L779.2,1765.5 M793.5,1765.5 L794.9,1765.5 L796.9,1765.5 L798.9,1765.5 L800.9,1765.5 L802.9,1765.5 L804.9,1765.5 L806.9,1765.5 L808.9,1765.5 L810.0,1765.5 M824.3,1765.5 L825.9,1765.4 L827.9,1765.4 L829.9,1765.3 L831.9,1765.2 L833.9,1765.1 L835.9,1765.0 L837.9,1764.9 L839.9,1764.8 L840.7,1764.8 M855.0,1764.0 L856.9,1763.8 L858.9,1763.6 L860.9,1763.3 L862.8,1763.1 L864.8,1762.7 L866.8,1762.4 L868.7,1762.0" fill="none" stroke="#28E2E5" stroke-width="3.80"/></g><rect x="146.75" y="1338.70" width="748.25" height="455.90" fill="none" stroke="#000" stroke-width="2.20"/><line x1="128.25" y1="1756.10" x2="146.75" y2="1756.10" stroke="#000" stroke-width="2.20"/><text transform="translate(103.00,1756.10) rotate(-90)" font-size="32.0" text-anchor="middle" fill="#000">0.2</text><line x1="128.25" y1="1688.90" x2="146.75" y2="1688.90" stroke="#000" stroke-width="2.20"/><text transform="translate(103.00,1688.90) rotate(-90)" font-size="32.0" text-anchor="middle" fill="#000"></text><line x1="128.25" y1="1621.70" x2="146.75" y2="1621.70" stroke="#000" stroke-width="2.20"/><text transform="translate(103.00,1621.70) rotate(-90)" font-size="32.0" text-anchor="middle" fill="#000">0.6</text><line x1="128.25" y1="1554.50" x2="146.75" y2="1554.50" stroke="#000" stroke-width="2.20"/><text transform="translate(103.00,1554.50) rotate(-90)" font-size="32.0" text-anchor="middle" fill="#000"></text><line x1="128.25" y1="1487.30" x2="146.75" y2="1487.30" stroke="#000" stroke-width="2.20"/><text transform="translate(103.00,1487.30) rotate(-90)" font-size="32.0" text-anchor="middle" fill="#000">1.0</text><line x1="128.25" y1="1420.10" x2="146.75" y2="1420.10" stroke="#000" stroke-width="2.20"/><text transform="translate(103.00,1420.10) rotate(-90)" font-size="32.0" text-anchor="middle" fill="#000"></text><line x1="128.25" y1="1352.90" x2="146.75" y2="1352.90" stroke="#000" stroke-width="2.20"/><text transform="translate(103.00,1352.90) rotate(-90)" font-size="32.0" text-anchor="middle" fill="#000">1.4</text><line x1="194.00" y1="1794.60" x2="194.00" y2="1813.60" stroke="#000" stroke-width="2.20"/><text transform="translate(192.50,1865.00) scale(1,1.140)" font-size="32.0" text-anchor="middle" fill="#000">10</text><line x1="291.68" y1="1794.60" x2="291.68" y2="1813.60" stroke="#000" stroke-width="2.20"/><text transform="translate(290.18,1865.00) scale(1,1.140)" font-size="32.0" text-anchor="middle" fill="#000">20</text><line x1="389.36" y1="1794.60" x2="389.36" y2="1813.60" stroke="#000" stroke-width="2.20"/><text transform="translate(387.86,1865.00) scale(1,1.140)" font-size="32.0" text-anchor="middle" fill="#000">30</text><line x1="487.04" y1="1794.60" x2="487.04" y2="1813.60" stroke="#000" stroke-width="2.20"/><text transform="translate(485.54,1865.00) scale(1,1.140)" font-size="32.0" text-anchor="middle" fill="#000">40</text><line x1="584.71" y1="1794.60" x2="584.71" y2="1813.60" stroke="#000" stroke-width="2.20"/><text transform="translate(583.21,1865.00) scale(1,1.140)" font-size="32.0" text-anchor="middle" fill="#000">50</text><line x1="682.39" y1="1794.60" x2="682.39" y2="1813.60" stroke="#000" stroke-width="2.20"/><text transform="translate(680.89,1865.00) scale(1,1.140)" font-size="32.0" text-anchor="middle" fill="#000">60</text><line x1="780.07" y1="1794.60" x2="780.07" y2="1813.60" stroke="#000" stroke-width="2.20"/><text transform="translate(778.57,1865.00) scale(1,1.140)" font-size="32.0" text-anchor="middle" fill="#000">70</text><line x1="877.75" y1="1794.60" x2="877.75" y2="1813.60" stroke="#000" stroke-width="2.20"/><text transform="translate(876.25,1865.00) scale(1,1.140)" font-size="32.0" text-anchor="middle" fill="#000">80</text><text transform="translate(27.70,1560.30) rotate(-90)" font-size="32.0" text-anchor="middle" fill="#000" textLength="225.5" lengthAdjust="spacingAndGlyphs">VJ/Muscle mass</text><text transform="translate(518.80,1944.10) scale(1,1.055)" font-size="32.0" text-anchor="middle" fill="#000" textLength="145.0" lengthAdjust="spacingAndGlyphs">Age (year)</text></g>
<g><path d="M1078.8,1378.8 L1079.4,1380.6 L1080.0,1382.5 L1080.6,1384.4 L1081.3,1386.3 L1081.9,1388.2 L1082.5,1390.1 L1082.6,1390.4 M1086.0,1400.4 L1086.3,1401.5 L1087.0,1403.4 L1087.6,1405.3 L1088.3,1407.2 L1088.9,1409.1 L1089.6,1411.0 L1090.0,1412.1 M1093.8,1422.0 L1094.3,1423.1 L1095.0,1425.0 L1095.7,1426.9 L1096.5,1428.7 L1097.2,1430.6 L1098.0,1432.4 L1098.4,1433.5 M1102.8,1443.4 L1103.3,1444.3 L1104.1,1446.1 L1105.0,1447.9 L1105.9,1449.7 L1106.9,1451.5 L1107.8,1453.3 L1108.4,1454.6 M1113.4,1464.3 L1114.1,1465.8 L1115.0,1467.6 L1115.9,1469.3 L1116.8,1471.1 L1117.6,1472.9 L1118.5,1474.7 L1118.9,1475.6 M1123.8,1485.3 L1124.3,1486.4 L1125.2,1488.2 L1126.1,1489.9 L1127.1,1491.7 L1128.1,1493.4 L1129.1,1495.2 L1129.8,1496.5 M1135.4,1506.0 L1136.2,1507.3 L1137.2,1509.0 L1138.2,1510.7 L1139.3,1512.4 L1140.4,1514.1 L1141.4,1515.8 L1142.2,1516.9 M1148.4,1526.2 L1149.2,1527.4 L1150.3,1529.1 L1151.5,1530.7 L1152.6,1532.4 L1153.8,1534.0 L1155.0,1535.5 L1156.1,1536.8 M1164.6,1545.1 L1165.7,1546.0 L1167.2,1547.3 L1168.8,1548.5 L1170.4,1549.6 L1172.1,1550.7 L1173.8,1551.7 L1175.5,1552.7 L1176.6,1553.3 M1188.4,1559.1 L1189.9,1559.8 L1191.7,1560.6 L1193.5,1561.4 L1195.4,1562.1 L1197.2,1562.9 L1199.1,1563.6 L1200.9,1564.4 L1202.7,1565.1 M1215.4,1569.9 L1216.8,1570.4 L1218.7,1571.0 L1220.7,1571.6 L1222.6,1572.2 L1224.5,1572.7 L1226.4,1573.3 L1228.3,1573.8 L1230.3,1574.4 L1230.6,1574.5 M1243.8,1578.5 L1245.6,1579.1 L1247.5,1579.8 L1249.3,1580.5 L1251.2,1581.1 L1253.1,1581.8 L1255.0,1582.5 L1256.9,1583.1 L1258.6,1583.7 M1271.4,1588.3 L1272.9,1588.9 L1274.8,1589.5 L1276.7,1590.2 L1278.6,1590.9 L1280.5,1591.6 L1282.3,1592.2 L1284.2,1592.9 L1286.1,1593.5 L1286.3,1593.6 M1299.6,1597.3 L1301.5,1597.8 L1303.5,1598.2 L1305.4,1598.7 L1307.4,1599.2 L1309.3,1599.6 L1311.3,1600.1 L1313.2,1600.6 L1315.2,1601.1 L1315.3,1601.1 M1328.8,1604.4 L1330.7,1604.9 L1332.6,1605.4 L1334.6,1605.9 L1336.5,1606.4 L1338.5,1606.9 L1340.4,1607.4 L1342.3,1607.9 L1344.3,1608.4 L1344.3,1608.4 M1357.8,1612.0 L1358.8,1612.3 L1360.7,1612.8 L1362.7,1613.3 L1364.6,1613.8 L1366.5,1614.4 L1368.4,1614.9 L1370.3,1615.5 L1372.3,1616.1 L1373.1,1616.4 M1386.2,1620.6 L1387.5,1621.0 L1389.4,1621.7 L1391.3,1622.3 L1393.2,1622.9 L1395.1,1623.5 L1397.0,1624.2 L1398.9,1624.8 L1400.8,1625.4 L1401.2,1625.5 M1414.2,1629.8 L1416.0,1630.4 L1417.9,1631.1 L1419.8,1631.7 L1421.7,1632.4 L1423.6,1633.0 L1425.5,1633.7 L1427.4,1634.4 L1429.1,1635.0 M1442.0,1639.5 L1443.4,1639.9 L1445.4,1640.5 L1447.3,1641.0 L1449.2,1641.5 L1451.2,1641.9 L1453.1,1642.4 L1455.1,1642.8 L1457.0,1643.2 L1457.6,1643.3 M1471.3,1646.3 L1472.7,1646.6 L1474.7,1647.0 L1476.6,1647.4 L1478.6,1647.8 L1480.5,1648.2 L1482.5,1648.6 L1484.5,1649.0 L1486.4,1649.4 L1487.2,1649.5 M1501.0,1652.1 L1502.2,1652.2 L1504.2,1652.5 L1506.1,1652.8 L1508.1,1653.0 L1510.1,1653.2 L1512.1,1653.5 L1514.1,1653.7 L1516.1,1653.9 L1517.3,1654.1 M1531.4,1655.9 L1532.9,1656.2 L1534.9,1656.5 L1536.9,1656.9 L1538.9,1657.2 L1540.8,1657.6 L1542.8,1657.9 L1544.8,1658.3 L1546.7,1658.6 L1547.4,1658.8 M1561.3,1661.2 L1562.5,1661.5 L1564.5,1661.8 L1566.5,1662.1 L1568.4,1662.5 L1570.4,1662.8 L1572.4,1663.2 L1574.3,1663.5 L1576.3,1663.9 L1577.3,1664.0 M1591.4,1665.6 L1593.2,1665.7 L1595.2,1665.7 L1597.2,1665.8 L1599.2,1665.8 L1601.2,1665.9 L1603.2,1665.9 L1605.2,1666.0 L1607.2,1666.0 L1607.9,1666.0 M1622.1,1667.4 L1623.1,1667.6 L1625.0,1667.9 L1627.0,1668.3 L1629.0,1668.8 L1630.9,1669.2 L1632.9,1669.6 L1634.8,1670.0 L1636.8,1670.4 L1638.0,1670.6 M1652.0,1672.4 L1653.6,1672.5 L1655.6,1672.6 L1657.6,1672.8 L1659.6,1672.9 L1661.6,1673.0 L1663.6,1673.1 L1665.6,1673.2 L1667.6,1673.3 L1668.5,1673.3 M1682.7,1672.4 L1684.5,1672.1 L1686.5,1671.8 L1688.4,1671.4 L1690.4,1671.1 L1692.4,1670.8 L1694.4,1670.4 L1696.3,1670.1 L1698.3,1669.8 L1698.8,1669.7 M1712.8,1667.8 L1714.2,1667.7 L1716.2,1667.4 L1718.2,1667.2 L1720.1,1667.0 L1722.1,1666.8 L1724.1,1666.5 L1726.1,1666.3 L1728.1,1666.2 L1729.1,1666.1 M1743.4,1666.4 L1745.0,1666.5 L1747.0,1666.6 L1749.0,1666.8 L1751.0,1667.0 L1753.0,1667.2 L1755.0,1667.3 L1757.0,1667.5 L1759.0,1667.7 L1759.8,1667.8 M1773.7,1670.1 L1774.8,1670.3 L1776.7,1670.7 L1778.7,1671.1 L1780.7,1671.5 L1782.6,1671.9 L1784.6,1672.3 L1786.6,1672.7 L1788.5,1673.1 L1789.5,1673.2" fill="none" stroke="#F5C710" stroke-width="3.80"/><path d="M1078.8,1454.2 L1079.7,1456.0 L1080.6,1457.8 L1081.5,1459.6 L1082.4,1461.3 L1083.3,1463.1 L1084.2,1464.9 L1085.1,1466.7 L1086.0,1468.5 L1086.9,1470.3 L1087.8,1472.0 L1088.7,1473.8 L1089.7,1475.6 L1090.6,1477.4 L1091.5,1479.2 L1092.4,1481.0 L1093.3,1482.8 L1094.2,1484.5 L1095.1,1486.3 L1096.0,1488.1 L1096.9,1489.9 L1097.8,1491.7 L1098.7,1493.5 L1099.6,1495.3 L1100.5,1497.1 L1101.4,1498.8 L1102.3,1500.6 L1103.2,1502.4 L1104.1,1504.2 L1105.0,1506.0 L1105.9,1507.8 L1106.8,1509.6 L1107.7,1511.3 L1108.6,1513.1 L1109.5,1514.9 L1110.4,1516.7 L1111.3,1518.5 L1112.2,1520.3 L1113.1,1522.0 L1114.0,1523.8 L1115.0,1525.6 L1115.9,1527.4 L1116.8,1529.1 L1117.7,1530.9 L1118.6,1532.7 L1119.6,1534.5 L1120.5,1536.3 L1121.4,1538.0 L1122.3,1539.8 L1123.3,1541.6 L1124.2,1543.3 L1125.2,1545.1 L1126.2,1546.8 L1127.1,1548.6 L1128.2,1550.3 L1129.2,1552.0 L1130.2,1553.7 L1131.3,1555.4 L1132.4,1557.1 L1133.5,1558.7 L1134.6,1560.4 L1135.8,1562.0 L1137.0,1563.6 L1138.2,1565.2 L1139.5,1566.7 L1140.7,1568.3 L1142.0,1569.8 L1143.3,1571.4 L1144.6,1572.9 L1145.9,1574.4 L1147.2,1575.9 L1148.6,1577.3 L1150.0,1578.7 L1151.5,1580.1 L1152.9,1581.4 L1154.5,1582.7 L1156.0,1584.0 L1157.6,1585.2 L1159.2,1586.4 L1160.8,1587.6 L1162.4,1588.8 L1164.0,1590.0 L1165.6,1591.1 L1167.3,1592.3 L1168.9,1593.4 L1170.6,1594.5 L1172.3,1595.6 L1174.0,1596.6 L1175.7,1597.5 L1177.5,1598.4 L1179.3,1599.2 L1181.1,1600.1 L1183.0,1600.9 L1184.8,1601.7 L1186.6,1602.5 L1188.5,1603.3 L1190.3,1604.1 L1192.2,1604.8 L1194.0,1605.5 L1195.9,1606.2 L1197.8,1606.8 L1199.7,1607.4 L1201.6,1607.9 L1203.6,1608.4 L1205.5,1608.9 L1207.5,1609.4 L1209.4,1609.8 L1211.3,1610.3 L1213.3,1610.8 L1215.2,1611.3 L1217.2,1611.8 L1219.1,1612.3 L1221.0,1612.8 L1223.0,1613.2 L1224.9,1613.7 L1226.9,1614.2 L1228.8,1614.7 L1230.8,1615.2 L1232.7,1615.7 L1234.6,1616.2 L1236.6,1616.6 L1238.5,1617.1 L1240.4,1617.6 L1242.4,1618.1 L1244.3,1618.7 L1246.2,1619.2 L1248.2,1619.7 L1250.1,1620.3 L1252.0,1620.9 L1253.9,1621.4 L1255.8,1622.0 L1257.8,1622.6 L1259.7,1623.2 L1261.6,1623.7 L1263.5,1624.3 L1265.4,1624.9 L1267.3,1625.5 L1269.3,1626.0 L1271.2,1626.6 L1273.1,1627.2 L1275.0,1627.8 L1276.9,1628.3 L1278.8,1628.9 L1280.8,1629.5 L1282.7,1630.1 L1284.6,1630.6 L1286.5,1631.2 L1288.4,1631.8 L1290.3,1632.3 L1292.3,1632.8 L1294.2,1633.4 L1296.1,1633.8 L1298.1,1634.3 L1300.0,1634.7 L1302.0,1635.1 L1304.0,1635.5 L1305.9,1635.9 L1307.9,1636.3 L1309.8,1636.7 L1311.8,1637.1 L1313.8,1637.5 L1315.7,1637.9 L1317.7,1638.3 L1319.6,1638.8 L1321.6,1639.2 L1323.5,1639.7 L1325.5,1640.1 L1327.4,1640.6 L1329.4,1641.1 L1331.3,1641.6 L1333.2,1642.1 L1335.2,1642.5 L1337.1,1643.0 L1339.1,1643.5 L1341.0,1644.0 L1343.0,1644.4 L1344.9,1644.8 L1346.9,1645.2 L1348.9,1645.5 L1350.8,1645.9 L1352.8,1646.2 L1354.8,1646.5 L1356.7,1646.8 L1358.7,1647.1 L1360.7,1647.5 L1362.7,1647.8 L1364.7,1648.1 L1366.6,1648.4 L1368.6,1648.7 L1370.6,1649.0 L1372.6,1649.4 L1374.5,1649.7 L1376.5,1650.1 L1378.4,1650.5 L1380.4,1650.9 L1382.3,1651.4 L1384.3,1651.8 L1386.2,1652.3 L1388.2,1652.8 L1390.1,1653.3 L1392.1,1653.8 L1394.0,1654.3 L1395.9,1654.7 L1397.9,1655.2 L1399.8,1655.8 L1401.7,1656.3 L1403.7,1656.8 L1405.6,1657.4 L1407.5,1657.9 L1409.4,1658.5 L1411.3,1659.1 L1413.3,1659.6 L1415.2,1660.2 L1417.1,1660.8 L1419.0,1661.3 L1420.9,1661.9 L1422.8,1662.5 L1424.8,1663.0 L1426.7,1663.6 L1428.6,1664.1 L1430.6,1664.6 L1432.5,1665.1 L1434.4,1665.6 L1436.4,1666.1 L1438.3,1666.6 L1440.3,1667.1 L1442.2,1667.5 L1444.1,1668.0 L1446.1,1668.5 L1448.0,1669.0 L1450.0,1669.4 L1451.9,1669.8 L1453.9,1670.2 L1455.9,1670.5 L1457.8,1670.8 L1459.8,1671.2 L1461.8,1671.5 L1463.8,1671.8 L1465.7,1672.1 L1467.7,1672.4 L1469.7,1672.7 L1471.7,1673.0 L1473.7,1673.2 L1475.6,1673.5 L1477.6,1673.8 L1479.6,1674.1 L1481.6,1674.4 L1483.6,1674.7 L1485.5,1675.0 L1487.5,1675.3 L1489.5,1675.6 L1491.5,1675.9 L1493.4,1676.2 L1495.4,1676.5 L1497.4,1676.8 L1499.4,1677.1 L1501.4,1677.3 L1503.4,1677.6 L1505.3,1677.8 L1507.3,1678.0 L1509.3,1678.2 L1511.3,1678.4 L1513.3,1678.6 L1515.3,1678.8 L1517.3,1679.0 L1519.3,1679.2 L1521.3,1679.4 L1523.3,1679.6 L1525.2,1679.8 L1527.2,1680.1 L1529.2,1680.3 L1531.2,1680.5 L1533.2,1680.7 L1535.2,1681.0 L1537.2,1681.2 L1539.2,1681.5 L1541.1,1681.7 L1543.1,1681.9 L1545.1,1682.2 L1547.1,1682.5 L1549.1,1682.7 L1551.1,1683.0 L1553.0,1683.4 L1555.0,1683.7 L1556.9,1684.1 L1558.9,1684.5 L1560.9,1684.9 L1562.8,1685.2 L1564.8,1685.5 L1566.8,1685.8 L1568.8,1686.0 L1570.7,1686.1 L1572.7,1686.2 L1574.7,1686.2 L1576.7,1686.2 L1578.7,1686.2 L1580.7,1686.2 L1582.7,1686.2 L1584.7,1686.2 L1586.7,1686.2 L1588.7,1686.2 L1590.7,1686.2 L1592.7,1686.2 L1594.7,1686.3 L1596.7,1686.3 L1598.7,1686.3 L1600.7,1686.3 L1602.7,1686.3 L1604.7,1686.3 L1606.7,1686.3 L1608.7,1686.3 L1610.7,1686.4 L1612.7,1686.5 L1614.7,1686.7 L1616.7,1686.9 L1618.7,1687.2 L1620.6,1687.5 L1622.6,1687.9 L1624.5,1688.3 L1626.5,1688.7 L1628.5,1689.0 L1630.4,1689.4 L1632.4,1689.8 L1634.4,1690.2 L1636.3,1690.6 L1638.3,1691.0 L1640.2,1691.4 L1642.2,1691.8 L1644.2,1692.2 L1646.1,1692.5 L1648.1,1692.8 L1650.1,1693.1 L1652.1,1693.3 L1654.0,1693.4 L1656.0,1693.5 L1658.0,1693.5 L1660.0,1693.5 L1662.0,1693.4 L1664.0,1693.4 L1666.0,1693.3 L1668.0,1693.3 L1670.0,1693.2 L1672.0,1693.1 L1674.0,1692.9 L1676.0,1692.8 L1678.0,1692.5 L1679.9,1692.3 L1681.9,1691.9 L1683.9,1691.6 L1685.8,1691.2 L1687.8,1690.8 L1689.8,1690.4 L1691.7,1690.1 L1693.7,1689.7 L1695.6,1689.3 L1697.6,1688.9 L1699.6,1688.5 L1701.5,1688.1 L1703.5,1687.7 L1705.5,1687.3 L1707.4,1686.9 L1709.4,1686.5 L1711.3,1686.1 L1713.3,1685.7 L1715.3,1685.3 L1717.2,1685.0 L1719.2,1684.6 L1721.2,1684.2 L1723.1,1683.9 L1725.1,1683.7 L1727.1,1683.5 L1729.1,1683.3 L1731.0,1683.3 L1733.0,1683.3 L1735.0,1683.3 L1737.0,1683.4 L1739.0,1683.5 L1741.0,1683.6 L1743.0,1683.7 L1745.0,1683.8 L1747.0,1684.0 L1749.0,1684.3 L1751.0,1684.6 L1752.9,1684.9 L1754.9,1685.2 L1756.9,1685.6 L1758.8,1686.0 L1760.8,1686.3 L1762.8,1686.7 L1764.7,1687.1 L1766.7,1687.4 L1768.7,1687.8 L1770.6,1688.2 L1772.6,1688.5 L1774.6,1688.8 L1776.5,1689.1 L1778.5,1689.2 L1780.5,1689.4 L1782.5,1689.4 L1784.5,1689.5 L1786.5,1689.5 L1788.5,1689.5 L1790.5,1689.5 L1792.5,1689.5" fill="none" stroke="#DF4A66" stroke-width="3.80" stroke-linejoin="round"/><path d="M1078.8,1537.5 L1079.8,1539.2 L1080.8,1540.9 L1081.8,1542.6 L1082.9,1544.4 L1083.9,1546.1 L1084.9,1547.8 L1085.3,1548.5 M1091.0,1558.0 L1091.6,1558.9 L1092.7,1560.6 L1093.8,1562.3 L1094.8,1564.0 L1095.9,1565.7 L1097.0,1567.4 L1098.0,1568.8 M1104.2,1578.1 L1104.8,1579.0 L1105.9,1580.7 L1107.0,1582.3 L1108.2,1584.0 L1109.3,1585.6 L1110.5,1587.2 L1111.7,1588.8 M1118.6,1597.9 L1119.6,1599.2 L1120.8,1600.8 L1122.0,1602.3 L1123.3,1603.9 L1124.5,1605.5 L1125.8,1607.0 L1126.8,1608.2 M1134.4,1617.0 L1135.6,1618.4 L1136.9,1619.9 L1138.3,1621.3 L1139.6,1622.8 L1141.0,1624.2 L1142.5,1625.5 L1143.9,1626.8 M1154.1,1634.0 L1155.4,1634.9 L1157.1,1636.0 L1158.8,1637.1 L1160.5,1638.1 L1162.2,1639.2 L1163.9,1640.2 L1165.6,1641.1 L1166.8,1641.7 M1179.1,1646.9 L1180.3,1647.4 L1182.2,1648.1 L1184.1,1648.8 L1185.9,1649.5 L1187.8,1650.2 L1189.7,1650.8 L1191.6,1651.4 L1193.5,1652.0 L1194.0,1652.1 M1207.5,1655.4 L1209.1,1655.8 L1211.0,1656.2 L1213.0,1656.7 L1214.9,1657.1 L1216.9,1657.5 L1218.8,1657.9 L1220.8,1658.3 L1222.8,1658.7 L1223.3,1658.8 M1237.2,1661.3 L1238.5,1661.6 L1240.5,1661.9 L1242.4,1662.3 L1244.4,1662.7 L1246.4,1663.1 L1248.3,1663.6 L1250.3,1664.0 L1252.2,1664.4 L1253.1,1664.6 M1266.7,1667.7 L1267.8,1668.0 L1269.8,1668.4 L1271.7,1668.9 L1273.7,1669.3 L1275.6,1669.8 L1277.6,1670.3 L1279.5,1670.7 L1281.5,1671.2 L1282.4,1671.4 M1296.0,1674.5 L1297.1,1674.7 L1299.0,1675.1 L1301.0,1675.4 L1303.0,1675.7 L1305.0,1676.0 L1306.9,1676.3 L1308.9,1676.6 L1310.9,1676.8 L1312.2,1677.0 M1326.2,1678.9 L1327.8,1679.1 L1329.7,1679.4 L1331.7,1679.6 L1333.7,1679.9 L1335.7,1680.1 L1337.7,1680.4 L1339.7,1680.7 L1341.6,1680.9 L1342.5,1681.0 M1356.5,1683.0 L1358.5,1683.3 L1360.5,1683.6 L1362.4,1683.9 L1364.4,1684.2 L1366.4,1684.5 L1368.4,1684.9 L1370.3,1685.2 L1372.3,1685.5 L1372.6,1685.6 M1386.5,1688.1 L1388.0,1688.5 L1390.0,1688.9 L1392.0,1689.2 L1393.9,1689.6 L1395.9,1690.0 L1397.9,1690.4 L1399.8,1690.8 L1401.8,1691.2 L1402.4,1691.3 M1416.2,1694.0 L1417.5,1694.3 L1419.5,1694.6 L1421.4,1695.0 L1423.4,1695.4 L1425.4,1695.8 L1427.3,1696.1 L1429.3,1696.5 L1431.3,1696.9 L1432.2,1697.0 M1446.2,1699.0 L1448.1,1699.3 L1450.1,1699.5 L1452.1,1699.7 L1454.1,1699.9 L1456.0,1700.2 L1458.0,1700.4 L1460.0,1700.6 L1462.0,1700.8 L1462.5,1700.9 M1476.6,1702.5 L1477.9,1702.7 L1479.9,1702.9 L1481.9,1703.2 L1483.9,1703.4 L1485.9,1703.6 L1487.8,1703.8 L1489.8,1704.1 L1491.8,1704.2 L1492.9,1704.3 M1507.1,1705.3 L1508.8,1705.4 L1510.8,1705.5 L1512.8,1705.6 L1514.8,1705.7 L1516.8,1705.8 L1518.8,1705.9 L1520.8,1706.1 L1522.8,1706.2 L1523.6,1706.3 M1537.8,1707.6 L1539.7,1707.8 L1541.7,1708.0 L1543.7,1708.2 L1545.7,1708.4 L1547.7,1708.6 L1549.7,1708.8 L1551.6,1709.0 L1553.6,1709.2 L1554.1,1709.2 M1568.3,1710.6 L1569.6,1710.7 L1571.6,1710.9 L1573.6,1711.1 L1575.5,1711.3 L1577.5,1711.4 L1579.5,1711.6 L1581.5,1711.7 L1583.5,1711.8 L1584.7,1711.9 M1599.0,1712.0 L1600.5,1712.0 L1602.5,1712.0 L1604.5,1712.0 L1606.5,1712.0 L1608.5,1712.0 L1610.5,1712.0 L1612.5,1712.1 L1614.5,1712.2 L1615.5,1712.2 M1629.6,1713.6 L1631.4,1713.8 L1633.4,1714.1 L1635.4,1714.3 L1637.4,1714.5 L1639.4,1714.7 L1641.4,1714.9 L1643.4,1715.1 L1645.4,1715.2 L1646.0,1715.3 M1660.3,1715.5 L1661.4,1715.5 L1663.4,1715.5 L1665.4,1715.5 L1667.4,1715.5 L1669.4,1715.5 L1671.4,1715.4 L1673.3,1715.4 L1675.3,1715.2 L1676.8,1715.1 M1690.8,1713.3 L1692.2,1713.1 L1694.2,1712.8 L1696.1,1712.5 L1698.1,1712.2 L1700.1,1711.9 L1702.1,1711.6 L1704.1,1711.4 L1706.1,1711.1 L1707.0,1711.0 M1721.1,1709.4 L1723.0,1709.2 L1724.9,1709.0 L1726.9,1708.8 L1728.9,1708.6 L1730.9,1708.4 L1732.9,1708.3 L1734.9,1708.3 L1736.9,1708.2 L1737.5,1708.3 M1751.8,1708.7 L1752.9,1708.8 L1754.9,1708.9 L1756.9,1709.0 L1758.9,1709.0 L1760.9,1709.1 L1762.9,1709.3 L1764.9,1709.4 L1766.9,1709.6 L1768.3,1709.7 M1782.4,1711.1 L1783.8,1711.3 L1785.8,1711.5 L1787.8,1711.7 L1789.8,1711.9 L1790.7,1712.0" fill="none" stroke="#F5C710" stroke-width="3.80"/><path d="M1078.8,1583.8 L1080.0,1585.3 L1081.3,1586.8 L1082.6,1588.4 L1083.8,1589.9 L1085.1,1591.5 L1086.4,1593.0 L1087.6,1594.6 L1088.9,1596.1 L1090.2,1597.7 L1091.4,1599.2 L1092.7,1600.8 L1094.0,1602.3 L1095.3,1603.8 L1096.6,1605.4 L1097.8,1606.9 L1099.1,1608.5 L1100.4,1610.0 L1101.7,1611.5 L1103.0,1613.1 L1104.3,1614.6 L1105.5,1616.1 L1106.8,1617.7 L1108.1,1619.2 L1109.4,1620.8 L1110.7,1622.3 L1111.9,1623.8 L1113.2,1625.4 L1114.5,1626.9 L1115.8,1628.4 L1117.1,1629.9 L1118.4,1631.5 L1119.7,1633.0 L1121.0,1634.5 L1122.3,1636.0 L1123.6,1637.5 L1124.9,1639.1 L1126.2,1640.6 L1127.6,1642.1 L1128.9,1643.5 L1130.3,1645.0 L1131.7,1646.4 L1133.1,1647.8 L1134.6,1649.2 L1136.1,1650.5 L1137.5,1651.9 L1139.0,1653.2 L1140.5,1654.6 L1142.0,1655.8 L1143.6,1657.1 L1145.2,1658.3 L1146.8,1659.4 L1148.5,1660.5 L1150.2,1661.6 L1151.9,1662.6 L1153.6,1663.6 L1155.4,1664.6 L1157.1,1665.5 L1158.9,1666.5 L1160.6,1667.5 L1162.4,1668.4 L1164.2,1669.2 L1166.0,1670.1 L1167.8,1670.8 L1169.7,1671.6 L1171.6,1672.3 L1173.4,1672.9 L1175.3,1673.6 L1177.2,1674.3 L1179.1,1674.9 L1181.0,1675.6 L1182.9,1676.2 L1184.8,1676.9 L1186.7,1677.5 L1188.6,1678.1 L1190.5,1678.6 L1192.5,1679.1 L1194.4,1679.6 L1196.4,1680.0 L1198.3,1680.5 L1200.3,1680.9 L1202.2,1681.3 L1204.2,1681.7 L1206.1,1682.1 L1208.1,1682.5 L1210.1,1682.9 L1212.0,1683.3 L1214.0,1683.7 L1215.9,1684.1 L1217.9,1684.5 L1219.9,1684.9 L1221.8,1685.3 L1223.8,1685.7 L1225.8,1686.1 L1227.7,1686.5 L1229.7,1686.9 L1231.7,1687.2 L1233.6,1687.6 L1235.6,1688.0 L1237.5,1688.4 L1239.5,1688.8 L1241.5,1689.1 L1243.4,1689.5 L1245.4,1689.9 L1247.4,1690.3 L1249.3,1690.6 L1251.3,1691.0 L1253.3,1691.4 L1255.2,1691.8 L1257.2,1692.2 L1259.2,1692.5 L1261.1,1692.9 L1263.1,1693.3 L1265.1,1693.7 L1267.0,1694.0 L1269.0,1694.4 L1271.0,1694.8 L1272.9,1695.2 L1274.9,1695.6 L1276.9,1695.9 L1278.8,1696.3 L1280.8,1696.6 L1282.8,1697.0 L1284.8,1697.3 L1286.7,1697.5 L1288.7,1697.7 L1290.7,1697.9 L1292.7,1698.1 L1294.7,1698.3 L1296.7,1698.5 L1298.7,1698.6 L1300.7,1698.8 L1302.7,1699.0 L1304.7,1699.1 L1306.7,1699.3 L1308.7,1699.5 L1310.6,1699.7 L1312.6,1699.8 L1314.6,1700.0 L1316.6,1700.3 L1318.6,1700.5 L1320.6,1700.7 L1322.6,1701.0 L1324.6,1701.2 L1326.6,1701.4 L1328.5,1701.7 L1330.5,1701.9 L1332.5,1702.2 L1334.5,1702.4 L1336.5,1702.7 L1338.5,1702.9 L1340.5,1703.2 L1342.4,1703.4 L1344.4,1703.7 L1346.4,1703.9 L1348.4,1704.1 L1350.4,1704.4 L1352.4,1704.6 L1354.4,1704.8 L1356.4,1705.1 L1358.4,1705.3 L1360.3,1705.5 L1362.3,1705.8 L1364.3,1706.0 L1366.3,1706.2 L1368.3,1706.5 L1370.3,1706.7 L1372.3,1707.0 L1374.3,1707.2 L1376.2,1707.5 L1378.2,1707.7 L1380.2,1708.0 L1382.2,1708.3 L1384.2,1708.6 L1386.1,1708.9 L1388.1,1709.2 L1390.1,1709.5 L1392.1,1709.8 L1394.1,1710.1 L1396.0,1710.4 L1398.0,1710.7 L1400.0,1711.0 L1402.0,1711.2 L1404.0,1711.5 L1405.9,1711.8 L1407.9,1712.1 L1409.9,1712.4 L1411.9,1712.7 L1413.9,1713.0 L1415.8,1713.3 L1417.8,1713.6 L1419.8,1713.9 L1421.8,1714.2 L1423.8,1714.5 L1425.7,1714.8 L1427.7,1715.0 L1429.7,1715.3 L1431.7,1715.5 L1433.7,1715.8 L1435.7,1716.0 L1437.7,1716.3 L1439.6,1716.5 L1441.6,1716.8 L1443.6,1717.0 L1445.6,1717.2 L1447.6,1717.5 L1449.6,1717.7 L1451.6,1717.9 L1453.6,1718.1 L1455.6,1718.3 L1457.5,1718.4 L1459.5,1718.6 L1461.5,1718.8 L1463.5,1718.9 L1465.5,1719.1 L1467.5,1719.2 L1469.5,1719.4 L1471.5,1719.6 L1473.5,1719.7 L1475.5,1719.9 L1477.5,1720.1 L1479.5,1720.3 L1481.5,1720.5 L1483.5,1720.7 L1485.5,1720.8 L1487.5,1721.0 L1489.5,1721.2 L1491.4,1721.4 L1493.4,1721.6 L1495.4,1721.8 L1497.4,1722.0 L1499.4,1722.2 L1501.4,1722.3 L1503.4,1722.5 L1505.4,1722.6 L1507.4,1722.7 L1509.4,1722.7 L1511.4,1722.8 L1513.4,1722.9 L1515.4,1722.9 L1517.4,1723.0 L1519.4,1723.1 L1521.4,1723.1 L1523.4,1723.2 L1525.4,1723.3 L1527.4,1723.3 L1529.4,1723.4 L1531.4,1723.5 L1533.4,1723.6 L1535.4,1723.7 L1537.4,1723.8 L1539.4,1723.9 L1541.4,1724.0 L1543.4,1724.2 L1545.4,1724.4 L1547.4,1724.5 L1549.4,1724.7 L1551.4,1724.9 L1553.4,1725.1 L1555.3,1725.3 L1557.3,1725.5 L1559.3,1725.7 L1561.3,1725.9 L1563.3,1726.0 L1565.3,1726.1 L1567.3,1726.2 L1569.3,1726.2 L1571.3,1726.2 L1573.3,1726.2 L1575.3,1726.2 L1577.3,1726.2 L1579.3,1726.2 L1581.3,1726.2 L1583.3,1726.2 L1585.3,1726.2 L1587.3,1726.2 L1589.3,1726.2 L1591.3,1726.2 L1593.3,1726.2 L1595.3,1726.2 L1597.3,1726.2 L1599.3,1726.2 L1601.3,1726.2 L1603.3,1726.2 L1605.3,1726.2 L1607.3,1726.3 L1609.3,1726.3 L1611.3,1726.3 L1613.3,1726.3 L1615.3,1726.3 L1617.3,1726.3 L1619.3,1726.3 L1621.3,1726.3 L1623.3,1726.3 L1625.3,1726.4 L1627.3,1726.5 L1629.3,1726.7 L1631.3,1726.9 L1633.3,1727.1 L1635.3,1727.3 L1637.3,1727.6 L1639.3,1727.8 L1641.2,1728.1 L1643.2,1728.4 L1645.2,1728.6 L1647.2,1728.8 L1649.2,1729.0 L1651.2,1729.2 L1653.2,1729.3 L1655.2,1729.4 L1657.2,1729.4 L1659.2,1729.5 L1661.2,1729.5 L1663.2,1729.5 L1665.2,1729.5 L1667.2,1729.4 L1669.2,1729.3 L1671.2,1729.2 L1673.1,1729.0 L1675.1,1728.8 L1677.1,1728.5 L1679.1,1728.1 L1681.0,1727.8 L1683.0,1727.4 L1685.0,1727.0 L1686.9,1726.6 L1688.9,1726.3 L1690.9,1725.9 L1692.8,1725.5 L1694.8,1725.1 L1696.8,1724.8 L1698.7,1724.4 L1700.7,1724.1 L1702.7,1723.8 L1704.7,1723.5 L1706.6,1723.2 L1708.6,1722.9 L1710.6,1722.7 L1712.6,1722.4 L1714.6,1722.2 L1716.6,1722.0 L1718.6,1721.8 L1720.5,1721.6 L1722.5,1721.5 L1724.5,1721.4 L1726.5,1721.4 L1728.5,1721.4 L1730.5,1721.4 L1732.5,1721.4 L1734.5,1721.4 L1736.5,1721.5 L1738.5,1721.5 L1740.5,1721.5 L1742.5,1721.6 L1744.5,1721.6 L1746.5,1721.6 L1748.5,1721.6 L1750.5,1721.7 L1752.5,1721.7 L1754.5,1721.7 L1756.5,1721.8 L1758.5,1721.8 L1760.5,1721.8 L1762.6,1721.9 L1764.6,1721.9 L1766.6,1721.9 L1768.6,1722.0 L1770.6,1722.1 L1772.6,1722.2 L1774.5,1722.3 L1776.5,1722.4 L1778.5,1722.6 L1780.5,1722.7 L1782.5,1722.9 L1784.5,1723.1 L1786.5,1723.2 L1788.5,1723.4 L1790.5,1723.6 L1792.5,1723.7" fill="none" stroke="#DF4A66" stroke-width="3.80" stroke-linejoin="round"/><path d="M1078.8,1621.3 L1080.0,1622.8 L1081.3,1624.3 L1082.6,1625.9 L1083.8,1627.4 L1085.1,1629.0 L1086.4,1630.5 L1087.2,1631.5 M1094.7,1640.4 L1095.4,1641.2 L1096.8,1642.7 L1098.2,1644.1 L1099.6,1645.5 L1101.0,1646.9 L1102.5,1648.3 L1103.9,1649.6 L1104.3,1650.0 M1113.2,1658.2 L1114.2,1659.1 L1115.7,1660.4 L1117.2,1661.7 L1118.8,1663.0 L1120.3,1664.3 L1121.9,1665.6 L1123.4,1666.8 L1123.9,1667.3 M1133.6,1674.9 L1134.4,1675.5 L1136.0,1676.7 L1137.6,1677.8 L1139.3,1679.0 L1140.9,1680.1 L1142.6,1681.2 L1144.3,1682.3 L1145.6,1683.1 M1156.6,1689.7 L1158.0,1690.4 L1159.8,1691.2 L1161.7,1691.9 L1163.5,1692.7 L1165.4,1693.4 L1167.3,1694.1 L1169.2,1694.8 L1171.0,1695.4 L1171.1,1695.4 M1184.2,1699.4 L1185.4,1699.6 L1187.3,1700.0 L1189.3,1700.4 L1191.3,1700.7 L1193.2,1701.1 L1195.2,1701.4 L1197.2,1701.7 L1199.2,1702.1 L1200.3,1702.3 M1214.2,1704.5 L1216.0,1704.7 L1217.9,1704.9 L1219.9,1705.2 L1221.9,1705.5 L1223.9,1705.7 L1225.9,1706.0 L1227.9,1706.2 L1229.8,1706.5 L1230.5,1706.6 M1244.6,1708.4 L1245.7,1708.5 L1247.7,1708.8 L1249.7,1709.0 L1251.7,1709.3 L1253.7,1709.5 L1255.6,1709.8 L1257.6,1710.0 L1259.6,1710.3 L1260.8,1710.4 M1274.9,1712.3 L1276.5,1712.5 L1278.4,1712.8 L1280.4,1713.1 L1282.4,1713.4 L1284.4,1713.7 L1286.4,1713.9 L1288.3,1714.2 L1290.3,1714.5 L1291.1,1714.6 M1305.2,1716.2 L1306.2,1716.3 L1308.2,1716.5 L1310.2,1716.7 L1312.2,1716.9 L1314.2,1717.1 L1316.2,1717.3 L1318.2,1717.6 L1320.1,1717.8 L1321.5,1717.9 M1335.7,1719.5 L1337.0,1719.6 L1339.0,1719.9 L1341.0,1720.1 L1343.0,1720.3 L1345.0,1720.5 L1347.0,1720.8 L1349.0,1721.0 L1351.0,1721.2 L1352.0,1721.3 M1366.2,1722.5 L1367.9,1722.6 L1369.9,1722.8 L1371.9,1722.9 L1373.9,1723.1 L1375.9,1723.3 L1377.9,1723.5 L1379.8,1723.7 L1381.8,1723.9 L1382.5,1724.0 M1396.5,1726.2 L1397.6,1726.4 L1399.6,1726.7 L1401.6,1727.0 L1403.6,1727.3 L1405.5,1727.7 L1407.5,1728.0 L1409.5,1728.3 L1411.5,1728.6 L1412.6,1728.7 M1426.8,1730.3 L1428.4,1730.5 L1430.3,1730.7 L1432.3,1730.9 L1434.3,1731.1 L1436.3,1731.3 L1438.3,1731.5 L1440.3,1731.7 L1442.3,1731.9 L1443.1,1732.0 M1457.3,1733.2 L1459.2,1733.4 L1461.2,1733.6 L1463.2,1733.7 L1465.2,1733.9 L1467.2,1734.1 L1469.2,1734.2 L1471.2,1734.4 L1473.2,1734.5 L1473.7,1734.5 M1488.0,1735.1 L1489.2,1735.2 L1491.2,1735.2 L1493.2,1735.3 L1495.2,1735.4 L1497.2,1735.5 L1499.2,1735.5 L1501.2,1735.6 L1503.2,1735.7 L1504.5,1735.7 M1518.8,1736.0 L1520.2,1736.0 L1522.2,1736.0 L1524.1,1736.1 L1526.1,1736.1 L1528.1,1736.2 L1530.1,1736.2 L1532.1,1736.3 L1534.1,1736.3 L1535.3,1736.4 M1549.5,1737.1 L1551.1,1737.2 L1553.1,1737.3 L1555.1,1737.4 L1557.1,1737.5 L1559.1,1737.6 L1561.1,1737.7 L1563.1,1737.8 L1565.1,1737.9 L1566.0,1737.9 M1580.3,1738.0 L1582.1,1738.0 L1584.1,1738.0 L1586.1,1738.0 L1588.1,1738.0 L1590.1,1738.0 L1592.1,1738.0 L1594.1,1738.0 L1596.1,1738.0 L1596.8,1738.0 M1611.1,1738.3 L1612.1,1738.4 L1614.1,1738.4 L1616.1,1738.5 L1618.1,1738.5 L1620.1,1738.6 L1622.1,1738.6 L1624.1,1738.7 L1626.1,1738.7 L1627.6,1738.8 M1641.8,1739.5 L1643.1,1739.6 L1645.1,1739.7 L1647.1,1739.8 L1649.1,1739.9 L1651.1,1740.0 L1653.1,1740.1 L1655.1,1740.2 L1657.1,1740.3 L1658.3,1740.3 M1672.6,1739.8 L1674.0,1739.7 L1676.0,1739.6 L1678.0,1739.5 L1680.0,1739.3 L1682.0,1739.2 L1684.0,1739.1 L1686.0,1739.0 L1688.0,1738.8 L1689.0,1738.8 M1703.1,1737.2 L1704.9,1737.0 L1706.9,1736.7 L1708.9,1736.5 L1710.9,1736.2 L1712.8,1736.0 L1714.8,1735.8 L1716.8,1735.5 L1718.8,1735.3 L1719.4,1735.3 M1733.7,1734.4 L1734.8,1734.4 L1736.8,1734.3 L1738.8,1734.2 L1740.8,1734.1 L1742.8,1734.0 L1744.8,1734.0 L1746.8,1733.9 L1748.8,1733.9 L1750.2,1733.9 M1764.4,1734.1 L1765.8,1734.2 L1767.8,1734.2 L1769.8,1734.3 L1771.8,1734.3 L1773.7,1734.4 L1775.7,1734.4 L1777.7,1734.4 L1779.7,1734.5 L1780.9,1734.5" fill="none" stroke="#F5C710" stroke-width="3.80"/><path d="M1078.8,1666.3 L1080.3,1667.5 L1081.8,1668.8 L1083.3,1670.1 L1084.9,1671.4 L1086.4,1672.7 L1087.9,1674.0 L1089.4,1675.3 L1091.0,1676.6 L1092.5,1677.8 L1094.1,1679.1 L1095.6,1680.4 L1097.2,1681.6 L1098.8,1682.8 L1100.4,1684.0 L1102.0,1685.2 L1103.6,1686.4 L1105.2,1687.6 L1106.8,1688.8 L1108.4,1690.0 L1110.0,1691.2 L1111.6,1692.4 L1113.2,1693.6 L1114.8,1694.8 L1116.5,1695.9 L1118.1,1697.1 L1119.7,1698.2 L1121.4,1699.4 L1123.0,1700.5 L1124.7,1701.6 L1126.3,1702.8 L1128.0,1703.9 L1129.6,1705.0 L1131.3,1706.1 L1133.0,1707.1 L1134.7,1708.1 L1136.5,1709.0 L1138.3,1709.9 L1140.1,1710.7 L1142.0,1711.4 L1143.8,1712.2 L1145.7,1712.9 L1147.6,1713.6 L1149.4,1714.3 L1151.3,1715.1 L1153.2,1715.8 L1155.0,1716.4 L1156.9,1717.1 L1158.8,1717.7 L1160.7,1718.3 L1162.7,1718.9 L1164.6,1719.4 L1166.5,1719.9 L1168.4,1720.5 L1170.4,1721.0 L1172.3,1721.5 L1174.2,1722.1 L1176.2,1722.6 L1178.1,1723.1 L1180.0,1723.6 L1182.0,1724.1 L1183.9,1724.5 L1185.9,1725.0 L1187.8,1725.4 L1189.8,1725.8 L1191.7,1726.1 L1193.7,1726.4 L1195.7,1726.8 L1197.7,1727.1 L1199.6,1727.4 L1201.6,1727.8 L1203.6,1728.1 L1205.6,1728.4 L1207.5,1728.8 L1209.5,1729.1 L1211.5,1729.4 L1213.5,1729.7 L1215.4,1730.0 L1217.4,1730.3 L1219.4,1730.6 L1221.4,1730.8 L1223.4,1731.1 L1225.3,1731.4 L1227.3,1731.6 L1229.3,1731.9 L1231.3,1732.2 L1233.3,1732.4 L1235.3,1732.7 L1237.2,1733.0 L1239.2,1733.2 L1241.2,1733.5 L1243.2,1733.8 L1245.2,1734.0 L1247.2,1734.3 L1249.1,1734.6 L1251.1,1734.8 L1253.1,1735.1 L1255.1,1735.3 L1257.1,1735.6 L1259.1,1735.9 L1261.0,1736.1 L1263.0,1736.4 L1265.0,1736.7 L1267.0,1736.9 L1269.0,1737.2 L1271.0,1737.5 L1272.9,1737.7 L1274.9,1738.0 L1276.9,1738.3 L1278.9,1738.5 L1280.9,1738.8 L1282.9,1739.0 L1284.8,1739.3 L1286.8,1739.5 L1288.8,1739.8 L1290.8,1740.0 L1292.8,1740.2 L1294.8,1740.5 L1296.8,1740.7 L1298.7,1740.9 L1300.7,1741.1 L1302.7,1741.3 L1304.7,1741.5 L1306.7,1741.7 L1308.7,1741.9 L1310.7,1742.1 L1312.7,1742.3 L1314.7,1742.5 L1316.7,1742.7 L1318.7,1742.9 L1320.6,1743.0 L1322.6,1743.2 L1324.6,1743.4 L1326.6,1743.5 L1328.6,1743.6 L1330.6,1743.7 L1332.6,1743.7 L1334.6,1743.7 L1336.6,1743.7 L1338.6,1743.7 L1340.6,1743.7 L1342.6,1743.7 L1344.6,1743.7 L1346.6,1743.7 L1348.6,1743.8 L1350.6,1743.8 L1352.6,1743.8 L1354.6,1743.8 L1356.6,1743.8 L1358.6,1743.8 L1360.6,1743.8 L1362.6,1743.8 L1364.6,1743.8 L1366.6,1743.8 L1368.6,1743.8 L1370.6,1743.8 L1372.6,1743.8 L1374.6,1743.9 L1376.6,1743.9 L1378.6,1744.0 L1380.6,1744.2 L1382.6,1744.3 L1384.6,1744.5 L1386.6,1744.7 L1388.6,1744.9 L1390.6,1745.1 L1392.6,1745.3 L1394.5,1745.5 L1396.5,1745.7 L1398.5,1745.9 L1400.5,1746.1 L1402.5,1746.3 L1404.5,1746.5 L1406.5,1746.7 L1408.5,1746.9 L1410.5,1747.1 L1412.5,1747.3 L1414.5,1747.5 L1416.4,1747.7 L1418.4,1747.9 L1420.4,1748.1 L1422.4,1748.3 L1424.4,1748.4 L1426.4,1748.6 L1428.4,1748.8 L1430.4,1748.9 L1432.4,1749.0 L1434.4,1749.1 L1436.4,1749.2 L1438.4,1749.3 L1440.4,1749.4 L1442.4,1749.5 L1444.4,1749.6 L1446.4,1749.7 L1448.4,1749.8 L1450.4,1749.9 L1452.4,1750.0 L1454.4,1750.1 L1456.4,1750.1 L1458.4,1750.2 L1460.4,1750.3 L1462.4,1750.3 L1464.4,1750.4 L1466.4,1750.5 L1468.4,1750.5 L1470.4,1750.6 L1472.4,1750.7 L1474.4,1750.7 L1476.4,1750.8 L1478.4,1750.9 L1480.4,1750.9 L1482.4,1751.0 L1484.4,1751.1 L1486.4,1751.1 L1488.4,1751.2 L1490.4,1751.2 L1492.4,1751.3 L1494.4,1751.3 L1496.4,1751.4 L1498.4,1751.4 L1500.4,1751.5 L1502.4,1751.5 L1504.4,1751.5 L1506.4,1751.6 L1508.4,1751.6 L1510.4,1751.7 L1512.4,1751.7 L1514.4,1751.7 L1516.4,1751.8 L1518.4,1751.8 L1520.4,1751.9 L1522.4,1751.9 L1524.4,1752.0 L1526.4,1752.0 L1528.4,1752.1 L1530.4,1752.2 L1532.4,1752.3 L1534.4,1752.3 L1536.4,1752.4 L1538.4,1752.5 L1540.4,1752.6 L1542.4,1752.7 L1544.4,1752.8 L1546.4,1752.9 L1548.3,1753.0 L1550.3,1753.1 L1552.3,1753.2 L1554.3,1753.3 L1556.3,1753.4 L1558.3,1753.4 L1560.3,1753.5 L1562.3,1753.6 L1564.3,1753.6 L1566.3,1753.6 L1568.3,1753.5 L1570.3,1753.5 L1572.3,1753.4 L1574.3,1753.4 L1576.3,1753.3 L1578.3,1753.2 L1580.3,1753.1 L1582.3,1753.1 L1584.3,1753.0 L1586.3,1752.9 L1588.3,1752.8 L1590.3,1752.8 L1592.3,1752.7 L1594.3,1752.6 L1596.3,1752.6 L1598.3,1752.6 L1600.3,1752.5 L1602.3,1752.5 L1604.3,1752.5 L1606.3,1752.5 L1608.3,1752.5 L1610.3,1752.5 L1612.3,1752.5 L1614.3,1752.5 L1616.3,1752.5 L1618.3,1752.5 L1620.3,1752.5 L1622.3,1752.6 L1624.3,1752.6 L1626.3,1752.7 L1628.3,1752.9 L1630.3,1753.1 L1632.3,1753.3 L1634.3,1753.5 L1636.3,1753.7 L1638.2,1753.9 L1640.2,1754.0 L1642.2,1754.1 L1644.2,1754.2 L1646.2,1754.2 L1648.2,1754.2 L1650.2,1754.2 L1652.2,1754.2 L1654.2,1754.2 L1656.2,1754.2 L1658.2,1754.2 L1660.2,1754.2 L1662.2,1754.2 L1664.2,1754.2 L1666.2,1754.2 L1668.2,1754.2 L1670.2,1754.2 L1672.2,1754.2 L1674.2,1754.2 L1676.2,1754.2 L1678.2,1754.1 L1680.2,1754.0 L1682.2,1753.8 L1684.2,1753.6 L1686.1,1753.3 L1688.1,1752.9 L1690.0,1752.5 L1692.0,1752.1 L1694.0,1751.7 L1695.9,1751.3 L1697.9,1750.9 L1699.9,1750.6 L1701.8,1750.2 L1703.8,1749.9 L1705.8,1749.6 L1707.8,1749.4 L1709.7,1749.1 L1711.7,1748.9 L1713.7,1748.7 L1715.7,1748.5 L1717.7,1748.3 L1719.7,1748.2 L1721.7,1748.1 L1723.7,1748.1 L1725.7,1748.0 L1727.7,1748.0 L1729.7,1748.0 L1731.7,1748.0 L1733.7,1748.0 L1735.7,1748.0 L1737.7,1748.0 L1739.7,1748.0 L1741.7,1748.0 L1743.7,1748.0 L1745.7,1748.0 L1747.7,1748.0 L1749.7,1748.0 L1751.7,1748.0 L1753.7,1748.0 L1755.7,1748.0 L1757.7,1748.0 L1759.7,1748.0 L1761.7,1748.0 L1763.7,1748.0 L1765.7,1748.0 L1767.7,1748.0 L1769.7,1748.0 L1771.7,1748.1 L1773.7,1748.1 L1775.7,1748.2 L1777.7,1748.4 L1779.7,1748.6 L1781.6,1748.8 L1783.6,1749.1 L1785.6,1749.4 L1787.6,1749.7 L1789.5,1750.0 L1791.5,1750.3 L1792.5,1750.5" fill="none" stroke="#DF4A66" stroke-width="3.80" stroke-linejoin="round"/><path d="M1078.8,1691.3 L1080.4,1692.3 L1082.1,1693.4 L1083.8,1694.5 L1085.5,1695.5 L1087.2,1696.6 L1088.9,1697.7 L1090.6,1698.7 L1091.2,1699.1 M1101.9,1705.9 L1103.2,1706.8 L1104.9,1707.9 L1106.6,1709.0 L1108.3,1710.1 L1109.9,1711.2 L1111.6,1712.3 L1113.3,1713.4 L1114.1,1714.0 M1124.9,1720.8 L1125.9,1721.4 L1127.7,1722.4 L1129.5,1723.3 L1131.3,1724.2 L1133.1,1725.1 L1134.9,1725.9 L1136.7,1726.8 L1138.5,1727.6 M1150.8,1732.8 L1152.3,1733.3 L1154.2,1733.9 L1156.1,1734.5 L1158.1,1735.0 L1160.0,1735.6 L1161.9,1736.1 L1163.8,1736.6 L1165.8,1737.1 L1166.1,1737.2 M1179.7,1740.4 L1181.4,1740.6 L1183.3,1740.9 L1185.3,1741.2 L1187.3,1741.4 L1189.3,1741.7 L1191.3,1742.0 L1193.3,1742.2 L1195.2,1742.5 L1196.0,1742.6 M1210.1,1744.2 L1211.1,1744.3 L1213.1,1744.4 L1215.1,1744.6 L1217.1,1744.8 L1219.1,1744.9 L1221.1,1745.1 L1223.1,1745.3 L1225.1,1745.4 L1226.5,1745.5 M1240.7,1746.6 L1242.1,1746.7 L1244.1,1746.8 L1246.1,1746.9 L1248.1,1747.0 L1250.1,1747.2 L1252.1,1747.3 L1254.1,1747.4 L1256.1,1747.5 L1257.1,1747.6 M1271.3,1748.9 L1273.0,1749.0 L1275.0,1749.3 L1277.0,1749.5 L1279.0,1749.7 L1280.9,1749.9 L1282.9,1750.2 L1284.9,1750.4 L1286.9,1750.6 L1287.6,1750.7 M1301.9,1751.8 L1302.9,1751.9 L1304.9,1752.0 L1306.9,1752.1 L1308.9,1752.2 L1310.9,1752.3 L1312.9,1752.4 L1314.8,1752.6 L1316.8,1752.7 L1318.3,1752.7 M1332.6,1753.5 L1333.8,1753.5 L1335.8,1753.6 L1337.8,1753.7 L1339.8,1753.8 L1341.8,1753.9 L1343.8,1754.0 L1345.8,1754.1 L1347.8,1754.2 L1349.0,1754.2 M1363.3,1755.2 L1364.8,1755.3 L1366.8,1755.5 L1368.8,1755.7 L1370.8,1755.8 L1372.8,1756.0 L1374.8,1756.2 L1376.8,1756.3 L1378.8,1756.5 L1379.7,1756.6 M1393.9,1757.5 L1395.7,1757.7 L1397.7,1757.8 L1399.7,1757.9 L1401.7,1758.0 L1403.7,1758.1 L1405.7,1758.2 L1407.7,1758.4 L1409.7,1758.5 L1410.4,1758.5 M1424.6,1759.3 L1425.7,1759.4 L1427.7,1759.5 L1429.7,1759.6 L1431.7,1759.7 L1433.7,1759.8 L1435.7,1759.9 L1437.7,1760.0 L1439.7,1760.1 L1441.1,1760.2 M1455.4,1760.5 L1456.7,1760.5 L1458.7,1760.5 L1460.7,1760.5 L1462.7,1760.5 L1464.7,1760.5 L1466.7,1760.5 L1468.7,1760.5 L1470.7,1760.5 L1471.9,1760.5 M1486.2,1760.7 L1487.7,1760.7 L1489.7,1760.8 L1491.7,1760.8 L1493.7,1760.9 L1495.7,1760.9 L1497.7,1760.9 L1499.7,1761.0 L1501.7,1761.0 L1502.6,1761.1 M1516.9,1761.5 L1518.7,1761.6 L1520.7,1761.6 L1522.7,1761.7 L1524.7,1761.8 L1526.7,1761.9 L1528.7,1762.0 L1530.7,1762.0 L1532.7,1762.1 L1533.4,1762.2 M1547.7,1762.6 L1549.7,1762.6 L1551.7,1762.7 L1553.7,1762.7 L1555.7,1762.7 L1557.7,1762.8 L1559.7,1762.8 L1561.7,1762.8 L1563.7,1762.8 L1564.2,1762.9 M1578.5,1762.9 L1579.7,1762.9 L1581.7,1762.9 L1583.7,1762.8 L1585.7,1762.8 L1587.7,1762.8 L1589.7,1762.7 L1591.7,1762.7 L1593.7,1762.7 L1595.0,1762.7 M1609.3,1762.6 L1610.7,1762.6 L1612.7,1762.6 L1614.7,1762.6 L1616.7,1762.7 L1618.7,1762.7 L1620.7,1762.7 L1622.7,1762.8 L1624.7,1762.8 L1625.8,1762.8 M1640.1,1763.0 L1641.7,1763.0 L1643.7,1763.0 L1645.7,1763.0 L1647.7,1763.0 L1649.7,1763.0 L1651.7,1763.0 L1653.7,1763.0 L1655.7,1763.0 L1656.6,1763.0 M1670.9,1762.7 L1672.7,1762.6 L1674.7,1762.4 L1676.7,1762.3 L1678.7,1762.1 L1680.7,1761.9 L1682.7,1761.7 L1684.7,1761.5 L1686.7,1761.3 L1687.2,1761.2 M1701.4,1759.8 L1702.6,1759.7 L1704.6,1759.5 L1706.6,1759.3 L1708.6,1759.1 L1710.6,1758.9 L1712.6,1758.7 L1714.6,1758.6 L1716.5,1758.4 L1717.8,1758.2 M1732.0,1757.1 L1733.5,1757.1 L1735.5,1757.0 L1737.5,1757.0 L1739.5,1757.0 L1741.5,1757.0 L1743.5,1757.0 L1745.5,1757.0 L1747.5,1757.0 L1748.5,1757.0 M1762.8,1757.1 L1764.5,1757.1 L1766.5,1757.2 L1768.5,1757.2 L1770.5,1757.3 L1772.5,1757.4 L1774.5,1757.4 L1776.5,1757.5 L1778.5,1757.6 L1779.3,1757.6" fill="none" stroke="#F5C710" stroke-width="3.80"/><rect x="1049.70" y="1343.30" width="770.55" height="452.70" fill="none" stroke="#000" stroke-width="2.20"/><line x1="1031.20" y1="1682.50" x2="1049.70" y2="1682.50" stroke="#000" stroke-width="2.20"/><text transform="translate(1004.50,1682.50) rotate(-90)" font-size="32.0" text-anchor="middle" fill="#000">0.5</text><line x1="1031.20" y1="1546.25" x2="1049.70" y2="1546.25" stroke="#000" stroke-width="2.20"/><text transform="translate(1004.50,1546.25) rotate(-90)" font-size="32.0" text-anchor="middle" fill="#000">1.0</text><line x1="1031.20" y1="1410.00" x2="1049.70" y2="1410.00" stroke="#000" stroke-width="2.20"/><text transform="translate(1004.50,1410.00) rotate(-90)" font-size="32.0" text-anchor="middle" fill="#000">1.5</text><line x1="1098.25" y1="1796.00" x2="1098.25" y2="1815.00" stroke="#000" stroke-width="2.20"/><text transform="translate(1096.75,1865.50) scale(1,1.140)" font-size="32.0" text-anchor="middle" fill="#000">10</text><line x1="1200.82" y1="1796.00" x2="1200.82" y2="1815.00" stroke="#000" stroke-width="2.20"/><text transform="translate(1199.32,1865.50) scale(1,1.140)" font-size="32.0" text-anchor="middle" fill="#000">20</text><line x1="1303.39" y1="1796.00" x2="1303.39" y2="1815.00" stroke="#000" stroke-width="2.20"/><text transform="translate(1301.89,1865.50) scale(1,1.140)" font-size="32.0" text-anchor="middle" fill="#000">30</text><line x1="1405.96" y1="1796.00" x2="1405.96" y2="1815.00" stroke="#000" stroke-width="2.20"/><text transform="translate(1404.46,1865.50) scale(1,1.140)" font-size="32.0" text-anchor="middle" fill="#000">40</text><line x1="1508.54" y1="1796.00" x2="1508.54" y2="1815.00" stroke="#000" stroke-width="2.20"/><text transform="translate(1507.04,1865.50) scale(1,1.140)" font-size="32.0" text-anchor="middle" fill="#000">50</text><line x1="1611.11" y1="1796.00" x2="1611.11" y2="1815.00" stroke="#000" stroke-width="2.20"/><text transform="translate(1609.61,1865.50) scale(1,1.140)" font-size="32.0" text-anchor="middle" fill="#000">60</text><line x1="1713.68" y1="1796.00" x2="1713.68" y2="1815.00" stroke="#000" stroke-width="2.20"/><text transform="translate(1712.18,1865.50) scale(1,1.140)" font-size="32.0" text-anchor="middle" fill="#000">70</text><line x1="1816.25" y1="1796.00" x2="1816.25" y2="1815.00" stroke="#000" stroke-width="2.20"/><text transform="translate(1814.75,1865.50) scale(1,1.140)" font-size="32.0" text-anchor="middle" fill="#000">80</text><text transform="translate(1432.90,1944.10) scale(1,1.055)" font-size="32.0" text-anchor="middle" fill="#000" textLength="148.8" lengthAdjust="spacingAndGlyphs">Age (year)</text></g>
</svg></body></html>
